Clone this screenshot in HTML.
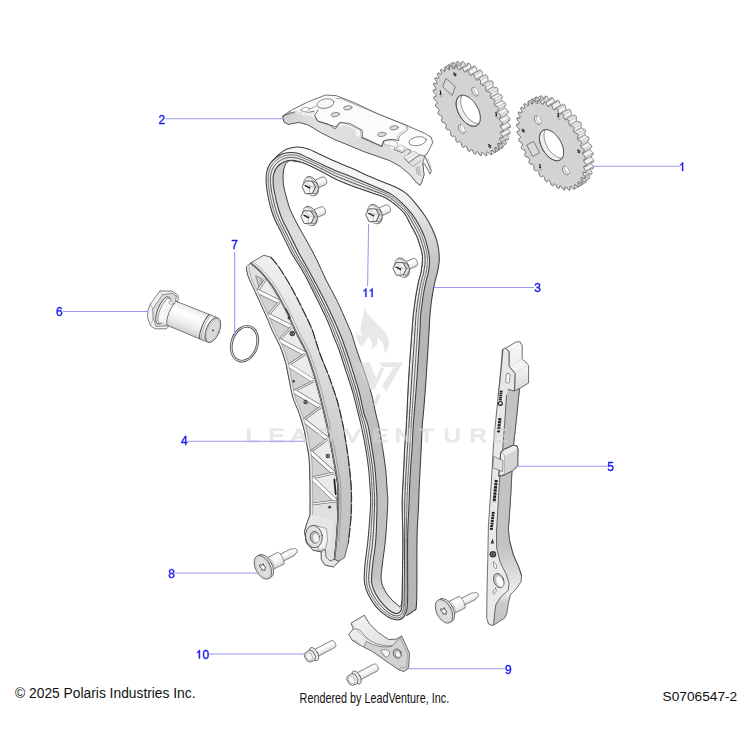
<!DOCTYPE html>
<html><head><meta charset="utf-8">
<style>
html,body{margin:0;padding:0;background:#fff;}
body{width:750px;height:750px;overflow:hidden;position:relative;font-family:"Liberation Sans",sans-serif;}
svg{position:absolute;left:0;top:0;}
text{font-family:"Liberation Sans",sans-serif;}
.lbl{fill:#1c1cf0;font-size:12px;stroke:#1c1cf0;stroke-width:0.4px;}
.ld{stroke:#9898f4;stroke-width:1.05;fill:none;}
.ft{fill:#111;font-size:13px;}
</style></head><body>
<svg width="750" height="750" viewBox="0 0 750 750">
<defs>
<linearGradient id="gSurf" gradientUnits="userSpaceOnUse" x1="0" y1="150" x2="0" y2="330"><stop offset="0" stop-color="#f8f8f8"/><stop offset="0.25" stop-color="#f2f2f2"/><stop offset="0.42" stop-color="#dcdcdc"/><stop offset="0.62" stop-color="#c6c6c6"/><stop offset="0.8" stop-color="#bababa"/><stop offset="1" stop-color="#b6b6b6"/></linearGradient>
<linearGradient id="gInner" gradientUnits="userSpaceOnUse" x1="0" y1="160" x2="0" y2="620"><stop offset="0" stop-color="#c8c8c8"/><stop offset="0.08" stop-color="#d2d2d2"/><stop offset="0.15" stop-color="#dedede"/><stop offset="0.28" stop-color="#dadada"/><stop offset="0.42" stop-color="#cccccc"/><stop offset="0.58" stop-color="#bfbfbf"/><stop offset="0.9" stop-color="#c2c2c2"/><stop offset="1" stop-color="#f0f0f0"/></linearGradient>
</defs>
<g id="chain" stroke-linejoin="round">
<path d="M274.0 159.5C274.9 158.6 277.3 155.6 279.5 153.9C281.7 152.2 284.0 150.3 287.0 149.1C290.0 147.9 294.1 146.9 297.7 146.9C301.2 146.9 304.8 147.9 308.3 149.1C311.9 150.3 314.6 151.9 319.0 153.9C323.4 155.9 329.6 158.9 335.0 161.3C340.4 163.7 345.0 165.4 351.3 168.1C357.6 170.8 365.4 174.6 372.7 177.7C380.0 180.8 389.3 184.1 395.0 186.8C400.7 189.5 403.0 190.8 406.7 193.9C410.4 197.0 414.1 201.7 417.3 205.6C420.5 209.5 423.4 213.4 425.9 217.3C428.4 221.2 430.5 225.4 432.3 229.1C434.1 232.8 435.4 236.2 436.5 239.7C437.6 243.2 438.2 246.5 438.7 250.0C439.1 253.5 439.4 257.1 439.2 260.7C439.0 264.2 438.3 267.8 437.6 271.3C436.9 274.9 435.7 278.4 434.9 282.0C434.1 285.6 433.4 289.1 432.8 292.7C432.2 296.2 431.7 299.4 431.2 303.3C430.7 307.2 430.2 311.7 429.9 316.1C429.5 320.6 429.8 319.4 429.1 330.0C428.5 340.6 426.9 366.7 426.0 380.0C425.1 393.3 424.3 402.5 423.7 410.0C423.1 417.5 422.7 418.9 422.3 425.0C421.9 431.1 421.7 439.2 421.3 446.3C420.9 453.4 420.6 460.6 420.2 467.7C419.8 474.8 419.4 482.8 419.1 489.0C418.8 495.2 419.0 496.5 418.6 505.0C418.2 513.5 417.3 523.8 417.0 540.0C416.7 556.2 417.2 590.6 416.6 602.4C416.0 614.2 415.3 608.6 413.6 610.8C411.9 613.0 407.6 614.8 406.4 615.6 L395 500 L300 170Z" fill="url(#gSurf)" stroke="none"/>
<path d="M274.0 159.5C274.9 158.6 277.3 155.6 279.5 153.9C281.7 152.2 284.0 150.3 287.0 149.1C290.0 147.9 294.1 146.9 297.7 146.9C301.2 146.9 304.8 147.9 308.3 149.1C311.9 150.3 314.6 151.9 319.0 153.9C323.4 155.9 329.6 158.9 335.0 161.3C340.4 163.7 345.0 165.4 351.3 168.1C357.6 170.8 365.4 174.6 372.7 177.7C380.0 180.8 389.3 184.1 395.0 186.8C400.7 189.5 403.0 190.8 406.7 193.9C410.4 197.0 414.1 201.7 417.3 205.6C420.5 209.5 423.4 213.4 425.9 217.3C428.4 221.2 430.5 225.4 432.3 229.1C434.1 232.8 435.4 236.2 436.5 239.7C437.6 243.2 438.2 246.5 438.7 250.0C439.1 253.5 439.4 257.1 439.2 260.7C439.0 264.2 438.3 267.8 437.6 271.3C436.9 274.9 435.7 278.4 434.9 282.0C434.1 285.6 433.4 289.1 432.8 292.7C432.2 296.2 431.7 299.4 431.2 303.3C430.7 307.2 430.2 311.7 429.9 316.1C429.5 320.6 429.8 319.4 429.1 330.0C428.5 340.6 426.9 366.7 426.0 380.0C425.1 393.3 424.3 402.5 423.7 410.0C423.1 417.5 422.7 418.9 422.3 425.0C421.9 431.1 421.7 439.2 421.3 446.3C420.9 453.4 420.6 460.6 420.2 467.7C419.8 474.8 419.4 482.8 419.1 489.0C418.8 495.2 419.0 496.5 418.6 505.0C418.2 513.5 417.3 523.8 417.0 540.0C416.7 556.2 417.2 590.6 416.6 602.4C416.0 614.2 415.3 608.6 413.6 610.8C411.9 613.0 407.6 614.8 406.4 615.6" fill="none" stroke="#3c3c3c" stroke-width="1.05"/>
<path d="M266.2 182.7C266.0 178.9 265.9 175.4 266.7 172.0C267.5 168.6 269.0 165.1 271.0 162.4C273.0 159.7 275.8 157.6 278.5 156.0C281.2 154.4 283.8 153.2 287.0 152.8C290.2 152.4 294.1 152.4 297.7 153.3C301.2 154.2 304.8 156.5 308.3 158.1C311.9 159.7 314.6 160.8 319.0 162.9C323.4 165.0 329.6 168.1 335.0 170.4C340.4 172.7 345.0 174.1 351.3 176.7C357.6 179.2 366.1 182.8 372.7 185.7C379.3 188.6 385.9 191.1 390.7 193.9C395.5 196.7 397.8 199.0 401.3 202.4C404.9 205.8 409.0 210.2 412.0 214.1C415.0 218.0 417.4 222.0 419.5 225.9C421.6 229.8 423.4 233.7 424.8 237.6C426.2 241.5 427.2 245.5 428.0 249.3C428.8 253.2 429.5 257.0 429.6 260.7C429.7 264.4 429.1 267.8 428.5 271.3C427.9 274.9 426.7 278.4 425.9 282.0C425.1 285.6 424.3 289.1 423.7 292.7C423.1 296.2 422.6 299.4 422.1 303.3C421.6 307.2 420.9 311.7 420.5 316.1C420.1 320.6 420.6 319.4 420.0 330.0C419.4 340.6 417.9 364.2 416.8 380.0C415.7 395.8 414.1 413.9 413.3 425.0C412.5 436.1 412.6 439.2 412.2 446.3C411.8 453.4 411.1 460.6 410.6 467.7C410.2 474.8 409.8 482.8 409.5 489.0C409.2 495.2 409.3 496.5 409.0 505.0C408.7 513.5 407.8 524.2 407.6 540.0C407.4 555.8 407.9 588.0 407.6 600.0C407.3 612.0 406.8 609.0 406.0 612.0C405.2 615.0 404.5 616.7 402.8 618.0C401.1 619.3 398.4 620.2 395.6 619.8C392.8 619.4 389.2 617.7 386.0 615.6C382.8 613.5 379.4 610.8 376.4 607.2C373.4 603.6 370.0 598.2 368.0 594.0C366.0 589.8 364.9 587.0 364.4 582.0C363.9 577.0 364.4 571.0 365.0 564.0C365.6 557.0 367.1 549.8 368.0 540.0C368.9 530.2 370.2 513.5 370.6 505.0C371.0 496.5 370.5 495.2 370.1 489.0C369.8 482.8 369.3 474.8 368.5 467.7C367.7 460.6 366.6 453.4 365.3 446.3C364.1 439.2 362.2 430.4 361.0 425.0C359.8 419.6 359.7 419.4 358.3 414.0C356.9 408.6 354.9 399.8 352.9 392.7C350.8 385.6 348.3 378.4 346.0 371.3C343.7 364.2 341.3 356.1 339.1 350.0C336.9 343.9 334.8 339.6 333.0 335.0C331.2 330.4 330.8 328.3 328.3 322.7C325.8 317.1 321.6 308.4 318.1 301.3C314.6 294.2 310.2 285.2 307.5 280.0C304.8 274.8 304.7 274.6 302.0 270.0C299.3 265.4 294.9 259.1 291.3 252.7C287.8 246.2 283.4 236.8 280.7 231.3C278.0 225.9 276.6 223.7 275.0 220.0C273.4 216.3 272.2 213.2 271.0 209.0C269.8 204.8 268.6 199.4 267.8 195.0C267.0 190.6 266.4 186.5 266.2 182.7Z" fill="#e9e9e9" stroke="#3c3c3c" stroke-width="1.05"/>
<path d="M273.1 182.7C272.9 179.2 273.0 176.8 273.7 174.1C274.4 171.4 275.7 168.7 277.4 166.7C279.1 164.7 281.3 163.0 283.8 161.9C286.3 160.8 289.1 160.1 292.3 160.3C295.5 160.5 299.4 161.7 303.0 162.9C306.6 164.1 310.1 166.0 313.7 167.7C317.2 169.4 320.8 171.2 324.3 173.1C327.9 175.0 330.5 176.8 335.0 178.9C339.5 181.0 345.0 183.3 351.3 185.7C357.6 188.1 367.0 191.1 372.7 193.2C378.4 195.2 381.6 195.9 385.5 198.0C389.4 200.1 392.9 202.8 396.1 205.5C399.3 208.2 402.4 211.0 404.7 214.0C407.0 217.0 408.0 220.1 409.9 223.7C411.8 227.3 414.6 231.8 416.3 235.5C418.0 239.2 419.0 242.5 420.0 246.1C421.0 249.7 422.2 252.8 422.4 257.0C422.6 261.2 421.8 267.1 421.1 271.3C420.4 275.5 419.2 278.4 418.4 282.0C417.6 285.6 416.9 289.1 416.3 292.7C415.7 296.2 415.2 299.4 414.7 303.3C414.2 307.2 413.6 311.7 413.1 316.1C412.7 320.6 412.8 319.4 412.0 330.0C411.2 340.6 409.4 364.2 408.5 380.0C407.6 395.8 406.9 413.9 406.3 425.0C405.7 436.1 405.1 439.2 404.7 446.3C404.3 453.4 404.0 460.6 403.7 467.7C403.4 474.8 402.9 482.8 402.6 489.0C402.3 495.2 402.1 496.5 402.1 505.0C402.1 513.5 402.8 526.2 402.8 540.0C402.8 553.8 402.4 576.6 402.2 588.0C402.0 599.4 402.3 604.2 401.6 608.4C400.9 612.6 399.6 612.6 398.0 613.2C396.4 613.8 394.4 613.4 392.0 612.0C389.6 610.6 386.3 607.8 383.6 604.8C380.9 601.8 377.8 597.8 375.8 594.0C373.8 590.2 372.1 587.0 371.6 582.0C371.1 577.0 372.1 571.0 372.8 564.0C373.5 557.0 375.1 549.8 375.8 540.0C376.5 530.2 376.9 513.5 377.0 505.0C377.1 496.5 376.9 495.2 376.5 489.0C376.1 482.8 375.7 474.8 374.9 467.7C374.1 460.6 372.9 453.4 371.7 446.3C370.5 439.2 369.2 430.4 367.9 425.0C366.6 419.6 365.5 419.4 364.1 414.0C362.7 408.6 361.2 399.8 359.3 392.7C357.4 385.6 355.1 378.4 352.9 371.3C350.7 364.2 348.1 356.1 346.0 350.0C343.9 343.9 342.3 339.6 340.5 335.0C338.7 330.4 337.8 328.3 335.2 322.7C332.6 317.1 328.7 308.4 325.1 301.3C321.6 294.2 316.7 285.2 313.9 280.0C311.1 274.8 311.0 274.6 308.5 270.0C306.0 265.4 302.2 259.1 298.8 252.7C295.4 246.2 290.9 236.8 288.2 231.3C285.5 225.9 284.1 223.7 282.5 220.0C280.9 216.3 279.8 213.2 278.5 209.0C277.2 204.8 275.9 199.4 275.0 195.0C274.1 190.6 273.3 186.2 273.1 182.7Z" fill="url(#gInner)" stroke="#3c3c3c" stroke-width="1.05"/>
<path d="M400.0 607.0C398.7 605.8 394.5 602.8 392.0 600.0C389.5 597.2 386.6 593.8 384.8 590.4C383.0 587.0 381.6 584.0 381.2 579.6C380.8 575.2 381.7 570.6 382.4 564.0C383.1 557.4 384.5 549.8 385.4 540.0C386.3 530.2 387.4 513.5 387.7 505.0C388.0 496.5 387.5 495.2 387.1 489.0C386.7 482.8 386.3 474.8 385.5 467.7C384.7 460.6 383.4 453.4 382.3 446.3C381.2 439.2 379.7 430.4 378.6 425.0C377.5 419.6 377.1 419.4 375.9 414.0C374.6 408.6 373.1 399.8 371.1 392.7C369.1 385.6 366.5 378.4 364.1 371.3C361.7 364.2 358.7 356.1 356.7 350.0C354.7 343.9 353.6 339.6 352.0 335.0C350.4 330.4 349.3 328.3 346.9 322.7C344.4 317.1 340.8 308.4 337.3 301.3C333.8 294.2 329.5 286.9 326.1 280.0C322.7 273.1 320.0 266.4 316.9 260.1C313.8 253.8 310.4 247.7 307.3 242.0C304.2 236.3 301.1 231.3 298.3 226.0C295.5 220.7 292.5 215.4 290.3 210.0C288.1 204.6 286.6 197.9 285.4 193.3C284.2 188.8 283.6 186.2 283.3 182.7C283.0 179.1 282.9 175.2 283.3 172.0C283.7 168.8 284.8 165.4 285.9 163.5C287.0 161.6 289.3 161.0 290.0 160.5C292.2 160.9 299.1 161.7 303.0 162.9C306.9 164.1 310.1 166.0 313.7 167.7C317.2 169.4 320.8 171.2 324.3 173.1C327.9 175.0 330.5 176.8 335.0 178.9C339.5 181.0 345.0 183.3 351.3 185.7C357.6 188.1 367.0 191.1 372.7 193.2C378.4 195.2 381.6 195.9 385.5 198.0C389.4 200.1 392.9 202.8 396.1 205.5C399.3 208.2 402.4 211.0 404.7 214.0C407.0 217.0 408.0 220.1 409.9 223.7C411.8 227.3 414.6 231.8 416.3 235.5C418.0 239.2 419.0 242.5 420.0 246.1C421.0 249.7 422.2 252.8 422.4 257.0C422.6 261.2 421.8 267.1 421.1 271.3C420.4 275.5 419.2 278.4 418.4 282.0C417.6 285.6 416.9 289.1 416.3 292.7C415.7 296.2 415.2 299.4 414.7 303.3C414.2 307.2 413.6 311.7 413.1 316.1C412.7 320.6 412.8 319.4 412.0 330.0C411.2 340.6 409.4 364.2 408.5 380.0C407.6 395.8 406.9 413.9 406.3 425.0C405.7 436.1 405.1 439.2 404.7 446.3C404.3 453.4 404.0 460.6 403.7 467.7C403.4 474.8 402.9 482.8 402.6 489.0C402.3 495.2 402.1 496.5 402.1 505.0C402.1 513.5 402.8 526.2 402.8 540.0C402.8 553.8 402.4 577.5 402.2 588.0C402.0 598.5 402.0 599.8 401.6 603.0C401.2 606.2 400.3 606.3 400.0 607.0Z" fill="#fff" stroke="#3c3c3c" stroke-width="1.0"/>
<path d="M268.3 182.7L268.2 181.8L268.2 180.9L268.2 179.8L268.2 178.9L268.2 178.1L268.2 177.3L268.2 176.6L268.3 175.8L268.4 175.0L268.5 174.2L268.6 173.4L268.8 172.6L269.0 171.8L269.2 171.0L269.5 170.2L269.8 169.5L270.1 168.7L270.4 167.9L270.8 167.1L271.2 166.4L271.6 165.7L272.0 165.0L272.3 164.5L272.8 163.8L273.3 163.2L273.8 162.6L274.3 162.1L274.9 161.5L275.5 161.0L275.9 160.6L276.5 160.1L277.2 159.6L277.8 159.2L278.4 158.7L279.1 158.3L279.5 158.0L280.2 157.7L280.8 157.3L281.5 157.0L282.2 156.7L282.6 156.5L283.3 156.2L284.0 155.9L284.7 155.7L285.2 155.6L285.9 155.4L286.7 155.2L287.4 155.1L288.2 155.0L288.8 155.0L289.7 154.9L290.5 154.9L291.4 154.9L292.2 154.9L292.9 154.9L293.8 155.0L294.7 155.1L295.6 155.2L296.5 155.4L297.1 155.5L298.0 155.8L298.9 156.1L299.8 156.4L300.7 156.7L301.6 157.1L302.5 157.5L303.3 157.9L304.2 158.3L304.9 158.6L305.7 159.0L306.6 159.5L307.5 159.8L308.4 160.2L309.3 160.6L310.1 161.0L310.9 161.4L311.8 161.8L312.4 162.0L313.2 162.4L314.1 162.8L315.0 163.2L315.9 163.7L316.9 164.1L318.2 164.7L319.3 165.2L320.4 165.8L321.8 166.5L323.0 167.0L324.5 167.8L325.7 168.4L327.2 169.1L328.4 169.7L329.9 170.5L331.1 171.1L332.6 171.8L333.8 172.3L335.3 173.0L336.5 173.6L338.1 174.2L339.4 174.7L340.6 175.2L341.9 175.7L343.2 176.2L344.6 176.8L346.0 177.3L347.4 177.9L348.9 178.4L350.4 179.0L352.0 179.7L353.6 180.3L355.3 181.0L357.1 181.8L359.0 182.5L360.8 183.2L362.7 184.0L364.6 184.7L366.5 185.5L368.3 186.2L370.1 186.9L371.8 187.6L373.8 188.4L375.4 189.1L376.9 189.7L378.8 190.4L380.2 191.0L381.9 191.7L383.2 192.2L384.6 192.8L386.1 193.5L387.4 194.2L388.6 194.8L389.7 195.5L390.8 196.1L391.8 196.8L392.8 197.4L393.7 198.1L394.5 198.7L395.4 199.4L396.2 200.1L397.0 200.8L397.8 201.5L398.6 202.2L399.4 203.0L400.2 203.7L401.1 204.5L402.0 205.4L402.8 206.2L403.9 207.3L404.8 208.2L405.6 209.2L406.5 210.1L407.3 211.0L408.3 212.2L409.0 213.1L409.7 214.1L410.4 215.0L411.0 215.9L411.7 216.8L412.4 218.0L413.0 219.0L413.5 219.9L414.2 221.1L414.8 222.1L415.4 223.0L415.9 224.0L416.5 225.0L417.1 226.0L417.6 227.0L418.1 228.0L418.7 229.0L419.2 230.0L419.7 230.9L420.0 231.6L420.5 232.6L420.9 233.6L421.3 234.5L421.7 235.5L422.1 236.4L422.4 237.4L422.8 238.3L423.1 239.3L423.4 240.2L423.7 241.1L424.0 242.1L424.3 243.0L424.6 244.0L424.8 244.9L425.1 246.2L425.4 247.1L425.6 248.0L425.8 249.0L426.1 249.9L426.3 250.8L426.4 251.5L426.6 252.5L426.8 253.4L426.9 254.4L427.0 255.3L427.1 256.0L427.2 257.0L427.3 258.0L427.4 259.0L427.4 259.6L427.4 260.6L427.4 261.6L427.4 262.3L427.3 263.3L427.3 264.3L427.2 264.9L427.1 265.9L427.0 266.5L426.9 267.5L426.7 268.4L426.6 269.4L426.5 270.0L426.3 271.0L426.2 271.9L426.0 272.8L425.8 273.5L425.6 274.4L425.4 275.3L425.2 276.2L424.9 277.1L424.7 278.0L424.5 278.8L424.2 279.7L424.0 280.6L423.8 281.5L423.6 282.4L423.4 283.2L423.2 284.1L423.0 285.0L422.8 285.9L422.6 286.8L422.4 287.7L422.2 288.6L422.1 289.5L421.9 290.7L421.7 291.5L421.5 292.4L421.4 293.3L421.2 294.2L421.1 295.0L420.9 295.9L420.8 296.8L420.7 297.6L420.6 298.5L420.4 299.3L420.3 300.2L420.2 301.1L420.1 302.1L419.9 303.0L419.8 304.0L419.6 305.0L419.5 306.0L419.4 307.0L419.2 308.1L419.1 309.2L418.9 310.3L418.8 311.3L418.7 312.4L418.5 313.5L418.4 314.7L418.3 315.8L418.2 316.8L418.2 317.7L418.1 318.4L418.1 319.1L418.1 319.8L418.1 320.5L418.0 321.3L418.0 322.3L417.9 324.0L417.9 325.6L417.7 327.6L417.6 330.0L417.4 332.9L417.2 336.3L417.0 340.1L416.7 344.2L416.4 348.5L416.1 353.1L415.8 357.7L415.5 362.4L415.2 367.0L414.9 371.5L414.6 375.9L414.3 380.0L414.0 384.0L413.8 388.1L413.5 392.2L413.2 396.2L412.9 400.3L412.6 404.3L412.4 408.2L412.1 411.9L411.8 415.5L411.6 418.9L411.4 422.1L411.2 425.0L411.0 427.6L410.9 429.9L410.8 432.0L410.7 433.9L410.6 435.6L410.5 437.1L410.4 438.6L410.3 440.1L410.2 441.5L410.1 443.0L410.1 444.6L409.9 446.3L409.8 448.1L409.7 449.9L409.6 451.6L409.5 453.4L409.4 455.2L409.2 457.0L409.1 458.8L409.0 460.6L408.9 462.4L408.8 464.1L408.6 465.9L408.5 467.7L408.4 469.5L408.3 471.3L408.2 473.2L408.1 475.0L408.0 476.9L407.9 478.7L407.8 480.5L407.7 482.3L407.7 484.0L407.6 485.8L407.5 487.4L407.4 489.0L407.4 490.5L407.3 491.8L407.3 492.9L407.2 494.0L407.2 495.1L407.2 496.1L407.1 497.3L407.1 498.5L407.1 499.8L407.0 501.3L407.0 503.0L406.9 505.0L406.9 507.2L406.8 509.5L406.7 511.9L406.7 514.5L406.6 517.2L406.5 520.0L406.5 522.9L406.4 526.0L406.3 529.3L406.3 532.7L406.2 536.3L406.2 540.0L406.1 544.1L406.1 548.6L406.1 554.9L406.1 560.1L406.1 565.4L406.1 570.8L406.1 577.3L406.1 582.3L406.0 587.9L406.0 592.7L406.0 596.8L406.0 599.8L405.9 602.6L405.8 604.9L405.7 606.4L405.6 607.6L405.5 608.6L405.4 609.1L405.3 609.4L405.1 610.0L405.0 610.2L404.9 610.4L404.7 611.0L404.6 611.5L404.4 612.2L404.1 612.8L404.0 613.2L403.8 613.8L403.6 614.1L403.5 614.5L403.2 614.9L403.0 615.2L402.8 615.5L402.5 615.8L402.2 616.1L401.8 616.4L401.5 616.6L401.0 616.9L400.7 617.1L400.2 617.3L399.5 617.5L399.0 617.7L398.6 617.8L398.0 617.9L397.5 617.9L396.9 618.0L396.3 618.0L395.8 617.9L395.2 617.8L394.5 617.7L393.8 617.5L393.1 617.2L392.4 616.9L391.6 616.6L390.9 616.3L390.1 615.9L389.3 615.4L388.8 615.1L388.0 614.6L387.2 614.1L386.4 613.6L385.7 613.0L384.9 612.4L384.1 611.8L383.3 611.2L382.5 610.5L381.7 609.8L380.9 609.0L380.2 608.3L379.4 607.5L378.7 606.6L377.9 605.8L377.2 604.8L376.5 603.9L375.7 602.9L375.0 601.8L374.2 600.7L373.5 599.6L372.8 598.5L372.2 597.4L371.6 596.3L371.0 595.2L370.4 594.2L369.9 593.2L369.4 592.2L369.0 591.2L368.6 590.3L368.2 589.3L368.0 588.7L367.7 587.8L367.4 586.8L367.2 585.8L367.0 585.1L366.8 584.0L366.7 582.8L366.6 582.0L366.5 580.7L366.4 579.4L366.4 578.1L366.4 576.7L366.4 575.2L366.5 573.8L366.6 572.2L366.7 571.1L366.8 569.5L367.0 567.9L367.1 566.2L367.3 564.0L367.5 562.2L367.7 561.0L367.9 559.2L368.1 557.4L368.4 555.5L368.7 553.6L368.9 551.7L369.2 549.7L369.6 546.9L369.9 544.7L370.1 542.4L370.3 540.0L370.6 537.4L370.8 534.6L371.0 531.6L371.2 528.4L371.4 525.2L371.6 522.0L371.8 518.8L372.0 515.7L372.2 512.7L372.3 509.9L372.4 507.3L372.5 505.0L372.6 503.0L372.6 501.3L372.6 499.8L372.6 498.5L372.6 497.3L372.5 496.1L372.4 495.1L372.4 494.0L372.3 492.9L372.2 491.8L372.1 490.5L372.0 489.0L371.9 487.4L371.8 485.8L371.7 484.0L371.6 482.3L371.5 480.5L371.4 478.7L371.3 476.9L371.1 475.0L371.0 473.2L370.8 471.3L370.6 469.5L370.4 467.7L370.2 465.9L370.0 464.1L369.8 462.4L369.4 460.0L369.2 458.2L368.9 456.5L368.6 454.7L368.3 452.9L368.0 451.1L367.7 449.3L367.4 447.5L367.1 445.8L366.8 443.9L366.5 442.1L366.1 440.2L365.8 438.2L365.4 436.3L365.0 434.4L364.7 432.6L364.3 430.8L364.0 429.1L363.6 427.5L363.3 426.0L362.9 424.3L362.6 423.2L362.3 421.9L362.0 421.1L361.8 420.3L361.6 419.6L361.3 418.8L361.2 418.3L361.0 417.5L360.7 416.6L360.6 416.0L360.3 414.9L359.9 413.6L359.6 412.1L359.2 410.6L358.8 408.9L358.4 407.1L358.0 405.3L357.5 403.4L357.1 401.5L356.6 399.6L356.2 397.7L355.7 395.8L355.2 394.0L354.7 392.2L354.2 390.4L353.6 388.6L353.1 386.8L352.5 385.0L352.0 383.2L351.4 381.5L350.8 379.7L350.2 377.9L349.6 376.1L349.1 374.3L348.5 372.5L347.9 370.8L347.3 369.0L346.7 367.1L346.2 365.3L345.6 363.4L345.0 361.5L344.4 359.7L343.8 357.9L343.2 356.1L342.7 354.4L342.1 352.7L341.6 351.1L341.0 349.6L340.3 347.7L339.8 346.3L339.3 345.0L338.8 343.7L338.3 342.4L337.8 341.2L337.3 340.0L336.8 338.9L336.4 337.7L335.9 336.6L335.4 335.5L334.9 334.1L334.5 333.0L334.1 332.1L333.7 331.1L333.4 330.2L333.0 329.3L332.7 328.4L332.3 327.4L332.1 326.7L331.6 325.7L331.1 324.5L330.6 323.2L330.0 321.8L329.3 320.3L328.5 318.6L328.0 317.5L327.1 315.7L326.3 313.9L325.4 312.0L324.5 310.1L323.6 308.2L322.6 306.3L321.5 303.9L320.5 302.0L319.6 300.2L318.7 298.4L318.1 297.0L317.1 295.1L316.2 293.2L315.2 291.3L313.9 288.8L313.0 287.0L312.1 285.2L311.3 283.6L310.5 282.0L309.7 280.6L309.1 279.3L308.4 278.0L307.9 277.1L307.4 276.0L307.0 275.3L306.6 274.6L306.2 273.9L305.8 273.2L305.5 272.7L305.1 271.9L304.6 271.0L304.2 270.4L303.5 269.3L302.8 268.1L302.0 266.8L301.2 265.5L300.4 264.1L299.5 262.6L298.6 261.2L297.6 259.6L296.7 258.1L295.8 256.5L294.8 254.9L293.9 253.3L293.0 251.7L292.1 249.9L291.2 248.1L290.2 246.2L289.3 244.3L288.3 242.4L287.4 240.5L286.5 238.6L285.6 236.8L284.8 235.0L284.0 233.4L283.3 231.9L282.4 230.2L281.8 229.0L281.2 227.9L280.7 226.9L280.1 225.8L279.6 224.9L279.2 224.0L278.9 223.4L278.5 222.6L278.1 221.8L277.7 220.9L277.3 220.1L276.9 219.2L276.5 218.3L276.2 217.4L275.8 216.5L275.5 215.6L275.1 214.7L274.9 214.1L274.6 213.2L274.3 212.3L274.0 211.4L273.7 210.4L273.4 209.4L273.1 208.3L272.8 207.3L272.5 206.1L272.2 205.0L271.9 204.1L271.7 202.9L271.4 201.7L271.1 200.5L270.8 199.3L270.6 198.1L270.3 196.9L270.1 195.8L269.9 194.7L269.7 193.6L269.5 192.5L269.3 191.4L269.1 190.4L269.0 189.3L268.8 188.3L268.7 187.3L268.6 186.3L268.5 185.3L268.4 184.3L268.3 183.6Z" fill="none" stroke="#5c5c5c" stroke-width="0.9"/>
<path d="M270.5 182.7L270.4 181.8L270.4 181.0L270.4 179.7L270.4 178.9L270.4 178.1L270.4 177.3L270.4 177.0L270.5 176.2L270.6 175.5L270.7 174.8L270.9 174.0L271.0 173.3L271.2 172.6L271.5 171.8L271.7 171.1L272.0 170.4L272.3 169.6L272.6 168.9L273.0 168.2L273.3 167.6L273.7 166.9L274.1 166.3L274.3 166.0L274.7 165.4L275.2 164.8L275.6 164.3L276.1 163.7L276.7 163.2L277.2 162.7L277.4 162.5L278.0 162.0L278.6 161.6L279.2 161.2L279.8 160.8L280.4 160.4L280.7 160.2L281.3 159.9L281.9 159.5L282.5 159.2L283.2 159.0L283.5 158.8L284.1 158.6L284.8 158.3L285.5 158.1L285.8 158.0L286.5 157.9L287.2 157.7L287.9 157.6L288.7 157.5L289.0 157.4L289.8 157.4L290.6 157.3L291.4 157.3L292.3 157.4L292.6 157.4L293.5 157.4L294.3 157.5L295.2 157.7L296.1 157.9L296.5 157.9L297.4 158.2L298.3 158.4L299.2 158.7L300.1 159.0L301.0 159.3L301.9 159.7L302.8 160.0L303.7 160.4L304.0 160.6L304.9 161.0L305.8 161.3L306.7 161.7L307.6 162.1L308.4 162.5L309.3 162.9L310.2 163.3L311.0 163.7L311.3 163.8L312.2 164.2L313.1 164.7L314.0 165.1L314.9 165.5L315.9 166.0L317.4 166.7L318.3 167.2L319.3 167.7L320.9 168.4L322.0 169.0L323.6 169.8L324.6 170.3L326.3 171.2L327.3 171.7L328.9 172.5L329.9 173.1L331.5 173.9L332.5 174.4L334.2 175.2L335.3 175.8L337.2 176.6L338.4 177.1L339.7 177.6L341.0 178.2L342.3 178.7L343.6 179.2L345.0 179.8L346.4 180.4L347.9 180.9L349.4 181.5L351.0 182.2L352.6 182.8L354.2 183.4L356.0 184.1L357.8 184.8L359.7 185.5L361.6 186.2L363.5 186.9L365.4 187.7L367.3 188.3L369.0 189.0L370.8 189.7L373.3 190.6L374.8 191.2L376.2 191.7L378.3 192.5L379.5 192.9L381.4 193.6L382.5 194.1L383.7 194.6L385.4 195.4L386.5 195.9L387.6 196.5L388.7 197.1L389.7 197.7L390.6 198.4L391.6 199.0L392.5 199.6L393.3 200.3L394.2 201.0L395.0 201.6L395.8 202.3L396.6 203.0L397.4 203.7L398.2 204.4L399.1 205.2L399.9 205.9L400.7 206.7L401.5 207.5L402.8 208.7L403.6 209.5L404.4 210.4L405.1 211.2L405.8 212.0L406.9 213.4L407.5 214.2L408.1 215.1L408.7 215.9L409.2 216.8L409.7 217.7L410.5 219.0L411.0 219.9L411.5 220.8L412.3 222.3L412.8 223.2L413.3 224.2L413.9 225.2L414.5 226.2L415.0 227.2L415.6 228.2L416.1 229.2L416.7 230.2L417.2 231.2L417.7 232.1L417.9 232.5L418.4 233.5L418.8 234.4L419.2 235.4L419.6 236.3L420.0 237.2L420.3 238.2L420.6 239.1L421.0 240.0L421.3 240.9L421.6 241.8L421.8 242.7L422.1 243.6L422.4 244.5L422.6 245.5L423.0 246.9L423.3 247.8L423.5 248.7L423.8 249.6L424.0 250.6L424.2 251.5L424.3 251.8L424.5 252.8L424.6 253.7L424.8 254.7L424.9 255.6L424.9 256.0L425.0 257.0L425.1 258.0L425.1 259.1L425.1 259.4L425.1 260.5L425.1 261.6L425.1 262.0L425.0 263.1L424.9 264.2L424.9 264.5L424.7 265.7L424.7 266.0L424.5 267.1L424.4 268.2L424.2 269.3L424.2 269.6L424.0 270.6L423.8 271.6L423.7 272.6L423.6 272.9L423.4 273.9L423.2 274.8L422.9 275.7L422.7 276.6L422.5 277.5L422.2 278.3L422.0 279.2L421.7 280.1L421.5 280.9L421.3 281.8L421.1 282.7L420.9 283.6L420.7 284.5L420.5 285.4L420.3 286.2L420.2 287.1L420.0 288.0L419.8 288.9L419.5 290.4L419.4 291.3L419.2 292.1L419.1 293.0L418.9 293.9L418.8 294.8L418.6 295.6L418.5 296.5L418.4 297.3L418.2 298.2L418.1 299.1L418.0 299.9L417.9 300.8L417.7 301.8L417.6 302.7L417.5 303.7L417.3 304.7L417.2 305.7L417.0 306.7L416.9 307.8L416.8 308.8L416.6 309.9L416.5 311.0L416.3 312.1L416.2 313.2L416.1 314.3L416.0 315.4L415.9 316.5L415.8 317.4L415.7 318.2L415.7 318.9L415.7 319.6L415.6 320.3L415.6 321.1L415.5 322.0L415.4 324.0L415.3 325.6L415.2 327.6L415.0 330.0L414.8 332.9L414.6 336.3L414.4 340.1L414.1 344.2L413.8 348.5L413.5 353.1L413.1 357.7L412.8 362.4L412.5 367.0L412.2 371.5L411.9 375.9L411.7 380.0L411.4 384.0L411.2 388.1L410.9 392.2L410.7 396.2L410.4 400.3L410.2 404.3L410.0 408.2L409.7 411.9L409.5 415.5L409.3 418.9L409.1 422.1L409.0 425.0L408.8 427.6L408.6 429.9L408.5 432.0L408.4 433.9L408.3 435.6L408.2 437.1L408.1 438.6L408.0 440.1L407.9 441.5L407.8 443.0L407.7 444.6L407.6 446.3L407.4 448.1L407.3 449.9L407.2 451.6L407.1 453.4L407.0 455.2L406.9 457.0L406.8 458.8L406.7 460.6L406.6 462.4L406.5 464.1L406.4 465.9L406.3 467.7L406.2 469.5L406.1 471.3L406.0 473.2L405.9 475.0L405.8 476.9L405.7 478.7L405.6 480.5L405.5 482.3L405.5 484.0L405.4 485.8L405.3 487.4L405.2 489.0L405.2 490.5L405.1 491.8L405.0 492.9L405.0 494.0L405.0 495.1L404.9 496.1L404.9 497.3L404.8 498.5L404.8 499.8L404.8 501.3L404.7 503.0L404.7 505.0L404.7 507.2L404.7 509.5L404.7 512.0L404.7 514.6L404.7 517.3L404.7 520.2L404.7 523.2L404.7 526.3L404.7 529.6L404.7 532.9L404.6 536.4L404.6 540.0L404.6 543.9L404.6 548.2L404.5 555.4L404.5 560.3L404.5 565.2L404.5 570.1L404.4 577.4L404.3 581.9L404.3 587.9L404.2 592.9L404.2 597.1L404.2 599.5L404.1 602.5L404.0 605.0L404.0 606.3L403.8 607.5L403.7 608.5L403.7 608.8L403.6 609.0L403.4 609.7L403.4 609.8L403.3 609.9L403.1 610.6L403.0 610.9L402.8 611.6L402.6 612.1L402.5 612.4L402.2 612.9L402.2 613.1L402.1 613.3L401.8 613.7L401.7 613.8L401.6 614.0L401.3 614.3L401.1 614.4L400.7 614.7L400.6 614.8L400.2 615.0L400.0 615.1L399.5 615.3L398.8 615.5L398.4 615.7L398.1 615.7L397.6 615.8L397.4 615.9L396.8 615.9L396.3 615.9L396.0 615.9L395.4 615.8L394.9 615.7L394.3 615.5L393.6 615.3L393.0 615.1L392.3 614.8L391.7 614.5L391.0 614.1L390.3 613.7L390.0 613.5L389.2 613.1L388.5 612.6L387.8 612.0L387.0 611.5L386.3 610.9L385.5 610.2L384.7 609.6L384.0 608.9L383.2 608.2L382.5 607.4L381.7 606.7L381.0 605.9L380.3 605.1L379.6 604.2L378.9 603.3L378.1 602.4L377.4 601.4L376.7 600.4L376.0 599.4L375.3 598.4L374.7 597.3L374.1 596.3L373.5 595.3L373.0 594.2L372.4 593.3L371.9 592.3L371.5 591.3L371.1 590.4L370.7 589.4L370.3 588.5L370.2 588.1L369.9 587.2L369.6 586.2L369.3 585.1L369.3 584.8L369.1 583.6L368.9 582.5L368.9 582.0L368.8 580.7L368.7 579.4L368.7 578.1L368.7 576.7L368.8 575.2L368.9 573.8L369.0 572.2L369.1 571.6L369.2 570.1L369.4 568.4L369.6 566.8L369.8 564.0L370.0 562.2L370.1 561.6L370.3 559.8L370.6 558.0L370.8 556.1L371.1 554.3L371.4 552.3L371.7 550.3L372.1 546.9L372.4 544.7L372.6 542.4L372.8 540.0L373.0 537.4L373.2 534.6L373.4 531.6L373.6 528.4L373.8 525.2L373.9 522.0L374.1 518.8L374.2 515.7L374.3 512.7L374.4 509.9L374.5 507.3L374.6 505.0L374.6 503.0L374.6 501.3L374.6 499.8L374.6 498.5L374.6 497.3L374.5 496.1L374.5 495.1L374.4 494.0L374.3 492.9L374.2 491.8L374.2 490.5L374.1 489.0L374.0 487.4L373.9 485.8L373.8 484.0L373.7 482.3L373.6 480.5L373.4 478.7L373.3 476.9L373.2 475.0L373.0 473.2L372.8 471.3L372.7 469.5L372.5 467.7L372.3 465.9L372.0 464.1L371.8 462.4L371.4 459.5L371.1 457.7L370.8 455.9L370.6 454.1L370.3 452.3L370.0 450.5L369.7 448.8L369.4 447.0L369.1 445.2L368.8 443.3L368.4 441.4L368.1 439.5L367.8 437.6L367.4 435.7L367.1 433.8L366.7 432.0L366.4 430.3L366.1 428.6L365.7 427.0L365.4 425.5L364.9 423.6L364.6 422.5L364.1 421.2L363.9 420.4L363.6 419.6L363.3 418.9L363.1 418.1L363.0 417.8L362.7 417.0L362.4 416.0L362.3 415.6L362.0 414.5L361.7 413.1L361.3 411.6L360.9 410.0L360.6 408.3L360.2 406.5L359.8 404.7L359.3 402.8L358.9 400.9L358.5 399.0L358.0 397.1L357.5 395.2L357.1 393.4L356.6 391.6L356.1 389.8L355.5 388.0L355.0 386.2L354.5 384.5L353.9 382.7L353.4 380.9L352.8 379.1L352.2 377.3L351.6 375.5L351.1 373.8L350.5 372.0L349.9 370.2L349.4 368.4L348.8 366.5L348.2 364.7L347.6 362.8L347.0 361.0L346.4 359.1L345.8 357.3L345.2 355.5L344.7 353.8L344.1 352.2L343.6 350.6L343.1 349.1L342.3 346.8L341.8 345.4L341.3 344.1L340.8 342.9L340.3 341.7L339.9 340.5L339.4 339.3L338.9 338.1L338.5 337.0L338.0 335.9L337.6 334.8L336.9 333.1L336.5 332.1L336.1 331.2L335.8 330.3L335.4 329.4L335.0 328.4L334.6 327.5L334.2 326.4L334.0 326.1L333.5 324.9L333.0 323.7L332.4 322.3L331.7 320.8L331.0 319.2L330.2 317.5L329.9 316.9L329.1 315.1L328.2 313.3L327.3 311.4L326.4 309.5L325.5 307.6L324.6 305.7L323.1 302.7L322.2 300.9L321.3 299.0L320.3 297.1L320.0 296.4L319.0 294.5L318.0 292.6L317.0 290.7L315.4 287.7L314.5 285.9L313.6 284.2L312.8 282.6L312.0 281.1L311.3 279.8L310.7 278.6L309.9 277.1L309.5 276.3L308.9 275.2L308.5 274.5L308.2 273.8L307.7 273.0L307.3 272.2L307.2 272.0L306.6 271.0L306.1 270.0L305.9 269.7L305.2 268.5L304.5 267.3L303.7 265.9L302.9 264.6L302.0 263.2L301.1 261.7L300.2 260.2L299.3 258.7L298.4 257.1L297.5 255.5L296.6 253.9L295.8 252.3L294.9 250.6L293.9 248.8L293.0 246.9L292.0 245.0L291.1 243.1L290.2 241.2L289.2 239.3L288.3 237.4L287.5 235.7L286.7 234.0L285.9 232.5L285.2 231.0L284.2 229.1L283.7 228.0L283.1 227.0L282.6 226.0L281.9 224.7L281.5 223.8L281.1 223.0L280.9 222.7L280.5 221.8L280.1 221.0L279.7 220.1L279.3 219.2L278.9 218.3L278.6 217.4L278.2 216.5L277.9 215.7L277.6 214.8L277.2 213.9L277.1 213.6L276.8 212.6L276.5 211.7L276.2 210.8L275.9 209.8L275.6 208.7L275.3 207.6L274.9 206.5L274.6 205.4L274.3 204.2L274.2 203.7L273.9 202.5L273.6 201.3L273.4 200.1L273.1 198.9L272.8 197.7L272.6 196.6L272.3 195.4L272.1 194.3L271.9 193.2L271.7 192.1L271.5 191.1L271.3 190.0L271.2 189.0L271.0 187.9L270.9 186.9L270.8 185.9L270.7 184.9L270.6 184.0L270.5 183.6Z" fill="none" stroke="#444444" stroke-width="1.0"/>
</g>
<g stroke-linejoin="round">
<path d="M452.2 66.9L452.7 66.6L452.5 65.4L452.0 63.5L452.1 62.9L453.0 62.5L453.6 62.8L455.0 64.5L455.9 65.3L456.4 65.1L457.0 65.0L457.0 64.0L456.8 62.1L457.0 61.6L458.0 61.5L458.6 61.9L459.8 63.7L460.7 64.7L461.3 64.7L461.9 64.7L462.1 63.8L462.1 62.1L462.4 61.6L463.5 61.8L464.1 62.4L465.1 64.3L465.9 65.4L466.6 65.5L467.2 65.7L467.6 64.9L467.8 63.4L468.2 63.1L469.4 63.5L470.0 64.2L470.8 66.1L471.4 67.3L472.1 67.6L472.8 67.9L473.3 67.3L473.8 66.0L474.3 65.8L475.5 66.5L476.0 67.2L476.6 69.2L477.1 70.4L477.8 70.8L478.5 71.3L479.1 70.9L479.9 69.8L480.4 69.8L481.6 70.7L482.0 71.5L482.3 73.4L482.7 74.6L483.4 75.2L484.0 75.8L484.8 75.5L485.7 74.8L486.3 74.9L487.5 76.0L487.8 76.8L487.8 78.6L488.1 79.8L488.7 80.5L489.3 81.1L490.2 81.2L491.3 80.7L491.9 80.9L493.0 82.3L493.2 83.1L493.0 84.6L493.1 85.8L493.7 86.5L494.2 87.3L495.1 87.5L496.4 87.4L497.1 87.8L498.0 89.2L498.1 90.0L497.7 91.4L497.6 92.4L498.1 93.2L498.5 94.0L499.5 94.5L500.9 94.7L501.5 95.2L502.3 96.7L502.3 97.4L501.6 98.5L501.4 99.4L501.8 100.3L502.2 101.2L503.1 101.8L504.6 102.4L505.2 102.9L505.8 104.5L505.7 105.2L504.8 106.0L504.4 106.7L504.7 107.6L505.0 108.4L505.9 109.2L507.4 110.1L508.0 110.8L508.4 112.4L508.2 112.9L507.1 113.4L506.5 113.9L506.7 114.8L506.9 115.7L507.8 116.6L509.3 117.8L509.7 118.5L510.0 120.0L509.7 120.5L508.4 120.6L507.7 121.0L507.8 121.8L507.9 122.6L508.7 123.7L510.1 125.1L510.5 125.9L510.5 127.3L510.1 127.6L508.7 127.4L507.9 127.6L507.9 128.3L507.8 129.1L508.5 130.2L509.9 131.9L510.2 132.6L510.0 133.9L509.5 134.1L508.0 133.6L507.2 133.5L507.0 134.2L506.8 134.8L507.4 136.0L508.6 137.8L508.8 138.6L508.4 139.7L507.9 139.8L506.4 138.9L505.4 138.6L505.2 139.2L504.9 139.7L505.3 141.0L506.3 142.9L506.4 143.6L505.8 144.5L505.3 144.4L503.8 143.3L502.8 142.8L502.4 143.2L502.0 143.6L502.3 144.8L503.1 146.8L503.1 147.5L502.3 148.1L501.7 147.9L500.3 146.5L499.3 145.8L498.9 146.1L498.4 146.4L498.5 147.5L499.0 149.5L498.9 150.1L498.0 150.5L497.4 150.1L496.1 148.5L495.1 147.7L494.6 147.8L494.0 147.9L494.0 149.0L494.3 150.9L494.1 151.4L493.0 151.5L492.4 151.0L491.2 149.3L490.4 148.3L489.8 148.3L489.1 148.2L488.9 149.2L488.9 150.9L488.6 151.3L487.5 151.2L486.9 150.6L485.9 148.7L485.1 147.6L484.5 147.4L483.8 147.3L483.5 148.1L483.2 149.6L482.8 149.9L481.6 149.5L481.1 148.8L480.3 146.9L479.6 145.7L478.9 145.4L478.2 145.1L477.7 145.7L477.2 147.0L476.8 147.2L475.5 146.5L475.0 145.7L474.5 143.8L473.9 142.6L473.3 142.1L472.6 141.7L471.9 142.1L471.2 143.1L470.7 143.2L469.5 142.2L469.0 141.5L468.7 139.6L468.3 138.4L467.7 137.8L467.0 137.2L466.3 137.4L465.3 138.2L464.7 138.1L463.6 136.9L463.2 136.2L463.2 134.4L463.0 133.2L462.3 132.5L461.7 131.8L460.9 131.8L459.7 132.3L459.1 132.0L458.0 130.7L457.8 129.9L458.0 128.3L458.0 127.2L457.4 126.4L456.8 125.7L455.9 125.5L454.6 125.5L454.0 125.2L453.0 123.7L452.9 123.0L453.4 121.6L453.5 120.6L453.0 119.8L452.5 118.9L451.6 118.5L450.1 118.3L449.5 117.8L448.7 116.3L448.7 115.5L449.4 114.4L449.7 113.5L449.3 112.7L448.9 111.8L447.9 111.2L446.4 110.6L445.9 110.0L445.2 108.5L445.3 107.8L446.3 107.0L446.7 106.3L446.4 105.4L446.1 104.5L445.1 103.7L443.6 102.8L443.1 102.2L442.6 100.6L442.8 100.1L444.0 99.6L444.5 99.0L444.3 98.2L444.2 97.3L443.3 96.4L441.8 95.2L441.3 94.5L441.1 92.9L441.4 92.5L442.7 92.4L443.3 92.0L443.3 91.2L443.2 90.4L442.4 89.3L441.0 87.9L440.6 87.1L440.5 85.7L440.9 85.4L442.3 85.6L443.1 85.4L443.2 84.7L443.2 83.9L442.5 82.8L441.2 81.1L440.9 80.3L441.1 79.1L441.5 78.9L443.0 79.4L443.9 79.5L444.0 78.8L444.2 78.1L443.6 76.9L442.5 75.1L442.2 74.3L442.6 73.3L443.2 73.2L444.7 74.1L445.6 74.3L445.9 73.8L446.2 73.2L445.7 72.0L444.7 70.1L444.6 69.3L445.2 68.5L445.8 68.6L447.3 69.7L448.2 70.2L448.6 69.8L449.0 69.3L448.7 68.1L448.0 66.2L447.9 65.5L448.7 64.9L449.3 65.1L450.8 66.5L451.7 67.1Z" fill="#f3f3f3" stroke="none"/>
<path d="M451.3 67.4L451.7 67.1L451.6 66.0L451.1 64.0L451.2 63.4L452.1 63.0L452.7 63.4L454.1 65.0L455.0 65.8L455.5 65.7L456.1 65.6L456.1 64.5L455.9 62.6L456.1 62.1L457.1 62.0L457.7 62.5L458.9 64.2L459.8 65.2L460.4 65.2L461.0 65.3L461.2 64.3L461.2 62.6L461.5 62.2L462.6 62.3L463.2 62.9L464.2 64.8L465.0 65.9L465.7 66.1L466.3 66.2L466.7 65.5L466.9 63.9L467.3 63.6L468.5 64.0L469.1 64.7L469.9 66.6L470.5 67.8L471.2 68.1L471.9 68.5L472.4 67.8L472.9 66.5L473.4 66.3L474.6 67.0L475.1 67.8L475.6 69.7L476.2 70.9L476.9 71.4L477.5 71.8L478.2 71.4L478.9 70.4L479.5 70.3L480.7 71.3L481.1 72.0L481.4 73.9L481.8 75.1L482.5 75.7L483.1 76.3L483.9 76.1L484.8 75.3L485.4 75.4L486.6 76.6L486.9 77.4L486.9 79.1L487.2 80.3L487.8 81.0L488.4 81.7L489.3 81.7L490.4 81.3L491.0 81.5L492.1 82.8L492.3 83.6L492.1 85.2L492.2 86.3L492.7 87.1L493.3 87.8L494.2 88.1L495.5 88.0L496.1 88.3L497.1 89.8L497.2 90.5L496.7 91.9L496.6 92.9L497.1 93.8L497.6 94.6L498.6 95.0L500.0 95.3L500.6 95.7L501.4 97.3L501.4 98.0L500.7 99.1L500.4 100.0L500.9 100.8L501.2 101.7L502.2 102.3L503.7 102.9L504.3 103.5L504.9 105.0L504.8 105.7L503.9 106.5L503.5 107.2L503.8 108.1L504.1 109.0L505.0 109.8L506.5 110.7L507.0 111.3L507.5 112.9L507.3 113.4L506.2 113.9L505.6 114.5L505.8 115.3L506.0 116.2L506.9 117.1L508.4 118.3L508.8 119.1L509.1 120.6L508.8 121.0L507.5 121.2L506.8 121.5L506.9 122.3L506.9 123.1L507.7 124.2L509.2 125.6L509.6 126.4L509.6 127.8L509.2 128.1L507.8 128.0L507.0 128.1L507.0 128.9L506.9 129.6L507.6 130.8L508.9 132.4L509.3 133.2L509.1 134.5L508.6 134.6L507.1 134.1L506.3 134.1L506.1 134.7L505.9 135.4L506.5 136.6L507.7 138.4L507.9 139.2L507.5 140.2L507.0 140.3L505.4 139.5L504.5 139.2L504.3 139.7L504.0 140.3L504.4 141.5L505.4 143.4L505.5 144.2L504.9 145.0L504.3 144.9L502.8 143.8L501.9 143.3L501.5 143.8L501.1 144.2L501.4 145.4L502.2 147.3L502.2 148.0L501.4 148.7L500.8 148.4L499.4 147.0L498.4 146.4L498.0 146.7L497.5 146.9L497.6 148.1L498.1 150.0L498.0 150.7L497.1 151.0L496.5 150.7L495.2 149.1L494.2 148.2L493.7 148.4L493.1 148.5L493.1 149.5L493.4 151.4L493.2 152.0L492.1 152.1L491.5 151.6L490.3 149.8L489.4 148.8L488.8 148.8L488.2 148.8L488.0 149.7L488.0 151.5L487.7 151.9L486.6 151.7L486.0 151.1L485.0 149.2L484.2 148.2L483.6 148.0L482.9 147.8L482.5 148.6L482.3 150.1L481.9 150.5L480.7 150.0L480.1 149.4L479.4 147.4L478.7 146.2L478.0 145.9L477.3 145.6L476.8 146.2L476.3 147.5L475.8 147.7L474.6 147.0L474.1 146.3L473.6 144.3L473.0 143.1L472.4 142.7L471.7 142.2L471.0 142.6L470.3 143.7L469.7 143.7L468.5 142.8L468.1 142.0L467.8 140.1L467.4 138.9L466.8 138.3L466.1 137.8L465.4 138.0L464.4 138.7L463.8 138.6L462.7 137.5L462.3 136.7L462.3 134.9L462.0 133.7L461.4 133.1L460.8 132.4L460.0 132.4L458.8 132.8L458.2 132.6L457.1 131.3L456.9 130.5L457.1 128.9L457.0 127.7L456.5 127.0L455.9 126.2L455.0 126.0L453.7 126.1L453.1 125.7L452.1 124.3L452.0 123.5L452.5 122.2L452.6 121.1L452.1 120.3L451.6 119.5L450.6 119.0L449.2 118.8L448.6 118.3L447.8 116.8L447.8 116.1L448.5 115.0L448.8 114.1L448.4 113.2L448.0 112.3L447.0 111.7L445.5 111.2L444.9 110.6L444.3 109.0L444.4 108.4L445.3 107.6L445.8 106.8L445.4 105.9L445.2 105.1L444.2 104.3L442.7 103.4L442.2 102.7L441.7 101.2L441.9 100.6L443.1 100.1L443.6 99.6L443.4 98.7L443.2 97.8L442.4 96.9L440.9 95.7L440.4 95.0L440.2 93.5L440.4 93.0L441.7 92.9L442.4 92.5L442.3 91.7L442.3 90.9L441.5 89.8L440.0 88.4L439.6 87.6L439.6 86.2L440.0 85.9L441.4 86.1L442.2 85.9L442.2 85.2L442.3 84.5L441.6 83.3L440.3 81.7L440.0 80.9L440.2 79.6L440.6 79.4L442.1 79.9L443.0 80.0L443.1 79.3L443.3 78.7L442.7 77.5L441.5 75.7L441.3 74.9L441.7 73.8L442.3 73.7L443.8 74.6L444.7 74.9L445.0 74.3L445.2 73.8L444.8 72.6L443.8 70.6L443.7 69.9L444.3 69.0L444.9 69.1L446.4 70.2L447.3 70.7L447.7 70.3L448.1 69.9L447.8 68.7L447.0 66.7L447.0 66.0L447.8 65.4L448.4 65.6L449.8 67.0L450.8 67.7Z" fill="#f3f3f3" stroke="none"/>
<path d="M450.3 67.9L450.8 67.7L450.7 66.5L450.2 64.6L450.3 63.9L451.2 63.6L451.8 63.9L453.1 65.5L454.1 66.4L454.6 66.2L455.2 66.1L455.2 65.0L454.9 63.2L455.1 62.6L456.2 62.5L456.8 63.0L458.0 64.8L458.9 65.8L459.5 65.8L460.1 65.8L460.3 64.9L460.3 63.1L460.6 62.7L461.7 62.9L462.3 63.5L463.3 65.3L464.1 66.4L464.7 66.6L465.4 66.8L465.8 66.0L466.0 64.4L466.4 64.1L467.6 64.6L468.2 65.2L468.9 67.2L469.6 68.4L470.3 68.7L471.0 69.0L471.5 68.4L472.0 67.1L472.5 66.9L473.7 67.6L474.2 68.3L474.7 70.3L475.3 71.5L475.9 71.9L476.6 72.4L477.3 72.0L478.0 70.9L478.6 70.9L479.8 71.8L480.2 72.6L480.5 74.5L480.9 75.7L481.5 76.3L482.2 76.8L483.0 76.6L483.9 75.9L484.5 76.0L485.7 77.1L486.0 77.9L486.0 79.7L486.3 80.9L486.9 81.5L487.5 82.2L488.3 82.2L489.5 81.8L490.1 82.0L491.2 83.3L491.4 84.1L491.2 85.7L491.3 86.8L491.8 87.6L492.4 88.4L493.3 88.6L494.6 88.5L495.2 88.9L496.2 90.3L496.3 91.1L495.8 92.4L495.7 93.5L496.2 94.3L496.7 95.1L497.7 95.5L499.1 95.8L499.7 96.3L500.5 97.8L500.5 98.5L499.8 99.6L499.5 100.5L499.9 101.4L500.3 102.2L501.3 102.9L502.8 103.4L503.4 104.0L504.0 105.6L503.9 106.2L503.0 107.0L502.5 107.8L502.9 108.6L503.1 109.5L504.1 110.3L505.6 111.2L506.1 111.9L506.6 113.4L506.4 114.0L505.2 114.5L504.7 115.0L504.9 115.9L505.1 116.7L505.9 117.7L507.4 118.9L507.9 119.6L508.1 121.1L507.9 121.6L506.6 121.7L505.9 122.1L506.0 122.9L506.0 123.7L506.8 124.7L508.3 126.2L508.7 127.0L508.7 128.4L508.3 128.7L506.9 128.5L506.1 128.6L506.1 129.4L506.0 130.1L506.7 131.3L508.0 132.9L508.3 133.7L508.2 135.0L507.7 135.2L506.2 134.7L505.3 134.6L505.2 135.3L505.0 135.9L505.6 137.1L506.8 138.9L507.0 139.7L506.6 140.8L506.0 140.8L504.5 140.0L503.6 139.7L503.3 140.3L503.1 140.8L503.5 142.0L504.5 143.9L504.6 144.7L504.0 145.6L503.4 145.5L501.9 144.3L501.0 143.9L500.6 144.3L500.2 144.7L500.5 145.9L501.3 147.9L501.3 148.6L500.5 149.2L499.9 149.0L498.5 147.6L497.5 146.9L497.0 147.2L496.6 147.5L496.7 148.6L497.2 150.6L497.1 151.2L496.2 151.6L495.6 151.2L494.2 149.6L493.3 148.8L492.8 148.9L492.2 149.0L492.2 150.1L492.4 152.0L492.2 152.5L491.2 152.6L490.6 152.1L489.4 150.3L488.5 149.4L487.9 149.3L487.3 149.3L487.1 150.3L487.1 152.0L486.8 152.4L485.7 152.3L485.1 151.7L484.1 149.8L483.3 148.7L482.6 148.5L482.0 148.3L481.6 149.1L481.4 150.7L481.0 151.0L479.8 150.6L479.2 149.9L478.4 147.9L477.8 146.8L477.1 146.5L476.4 146.1L475.9 146.7L475.4 148.1L474.9 148.2L473.7 147.5L473.2 146.8L472.7 144.9L472.1 143.7L471.4 143.2L470.8 142.7L470.1 143.2L469.4 144.2L468.8 144.3L467.6 143.3L467.2 142.6L466.9 140.7L466.5 139.5L465.9 138.9L465.2 138.3L464.4 138.5L463.5 139.3L462.9 139.2L461.7 138.0L461.4 137.2L461.4 135.5L461.1 134.3L460.5 133.6L459.9 132.9L459.0 132.9L457.9 133.3L457.3 133.1L456.2 131.8L456.0 131.0L456.2 129.4L456.1 128.3L455.6 127.5L455.0 126.7L454.1 126.5L452.8 126.6L452.2 126.3L451.2 124.8L451.1 124.1L451.6 122.7L451.7 121.7L451.2 120.8L450.7 120.0L449.7 119.6L448.3 119.3L447.7 118.9L446.9 117.3L446.9 116.6L447.6 115.5L447.9 114.6L447.4 113.8L447.1 112.9L446.1 112.3L444.6 111.7L444.0 111.1L443.4 109.5L443.5 108.9L444.4 108.1L444.8 107.4L444.5 106.5L444.2 105.6L443.3 104.8L441.8 103.9L441.3 103.3L440.8 101.7L441.0 101.1L442.1 100.7L442.7 100.1L442.5 99.2L442.3 98.4L441.4 97.4L439.9 96.3L439.5 95.5L439.2 94.0L439.5 93.6L440.8 93.4L441.5 93.1L441.4 92.3L441.4 91.4L440.6 90.4L439.1 88.9L438.7 88.2L438.7 86.8L439.1 86.4L440.5 86.6L441.3 86.5L441.3 85.7L441.4 85.0L440.7 83.8L439.4 82.2L439.0 81.4L439.2 80.1L439.7 79.9L441.2 80.5L442.0 80.5L442.2 79.9L442.4 79.2L441.8 78.0L440.6 76.2L440.4 75.4L440.8 74.3L441.3 74.3L442.9 75.1L443.8 75.4L444.0 74.9L444.3 74.3L443.9 73.1L442.9 71.2L442.8 70.4L443.4 69.6L444.0 69.6L445.5 70.8L446.4 71.3L446.8 70.8L447.2 70.4L446.9 69.2L446.1 67.3L446.1 66.6L446.9 65.9L447.5 66.1L448.9 67.6L449.9 68.2Z" fill="#f3f3f3" stroke="none"/>
<path d="M449.4 68.5L449.9 68.2L449.8 67.0L449.3 65.1L449.4 64.5L450.3 64.1L450.9 64.5L452.2 66.1L453.2 66.9L453.7 66.8L454.3 66.6L454.3 65.6L454.0 63.7L454.2 63.2L455.3 63.1L455.9 63.5L457.1 65.3L457.9 66.3L458.5 66.3L459.2 66.4L459.4 65.4L459.4 63.7L459.7 63.2L460.8 63.4L461.4 64.0L462.4 65.9L463.2 67.0L463.8 67.1L464.5 67.3L464.8 66.5L465.1 65.0L465.5 64.7L466.7 65.1L467.2 65.8L468.0 67.7L468.7 68.9L469.4 69.2L470.1 69.5L470.6 68.9L471.1 67.6L471.5 67.4L472.8 68.1L473.3 68.8L473.8 70.8L474.4 72.0L475.0 72.5L475.7 72.9L476.4 72.5L477.1 71.4L477.6 71.4L478.8 72.3L479.3 73.1L479.6 75.0L480.0 76.2L480.6 76.8L481.3 77.4L482.0 77.2L483.0 76.4L483.6 76.5L484.7 77.6L485.1 78.4L485.1 80.2L485.3 81.4L486.0 82.1L486.6 82.8L487.4 82.8L488.6 82.3L489.2 82.6L490.3 83.9L490.5 84.7L490.3 86.3L490.3 87.4L490.9 88.1L491.5 88.9L492.4 89.1L493.7 89.0L494.3 89.4L495.3 90.8L495.4 91.6L494.9 93.0L494.8 94.0L495.3 94.8L495.8 95.7L496.7 96.1L498.2 96.3L498.8 96.8L499.6 98.3L499.6 99.1L498.9 100.1L498.6 101.0L499.0 101.9L499.4 102.8L500.4 103.4L501.9 104.0L502.4 104.6L503.1 106.1L503.0 106.8L502.0 107.6L501.6 108.3L501.9 109.2L502.2 110.1L503.2 110.9L504.7 111.7L505.2 112.4L505.7 114.0L505.5 114.5L504.3 115.0L503.8 115.6L504.0 116.4L504.1 117.3L505.0 118.2L506.5 119.4L507.0 120.1L507.2 121.6L506.9 122.1L505.6 122.2L505.0 122.6L505.0 123.4L505.1 124.2L505.9 125.3L507.3 126.7L507.7 127.5L507.8 128.9L507.4 129.2L506.0 129.0L505.2 129.2L505.1 129.9L505.1 130.7L505.8 131.8L507.1 133.5L507.4 134.3L507.2 135.5L506.8 135.7L505.3 135.2L504.4 135.1L504.3 135.8L504.1 136.4L504.7 137.7L505.8 139.5L506.1 140.2L505.7 141.3L505.1 141.4L503.6 140.5L502.7 140.3L502.4 140.8L502.1 141.3L502.6 142.6L503.6 144.5L503.7 145.2L503.1 146.1L502.5 146.0L501.0 144.9L500.1 144.4L499.7 144.8L499.3 145.2L499.6 146.5L500.3 148.4L500.4 149.1L499.6 149.7L499.0 149.5L497.5 148.1L496.6 147.5L496.1 147.7L495.6 148.0L495.8 149.2L496.3 151.1L496.2 151.7L495.3 152.1L494.7 151.8L493.3 150.1L492.4 149.3L491.9 149.4L491.3 149.6L491.3 150.6L491.5 152.5L491.3 153.0L490.3 153.1L489.7 152.7L488.5 150.9L487.6 149.9L487.0 149.9L486.4 149.9L486.2 150.8L486.2 152.5L485.9 153.0L484.8 152.8L484.2 152.2L483.2 150.3L482.4 149.2L481.7 149.1L481.1 148.9L480.7 149.7L480.5 151.2L480.1 151.5L478.9 151.1L478.3 150.4L477.5 148.5L476.9 147.3L476.2 147.0L475.5 146.7L475.0 147.3L474.5 148.6L474.0 148.8L472.8 148.1L472.3 147.4L471.7 145.4L471.2 144.2L470.5 143.7L469.8 143.3L469.2 143.7L468.4 144.8L467.9 144.8L466.7 143.9L466.3 143.1L466.0 141.2L465.6 140.0L464.9 139.4L464.3 138.8L463.5 139.0L462.6 139.8L462.0 139.7L460.8 138.6L460.5 137.8L460.5 136.0L460.2 134.8L459.6 134.1L459.0 133.4L458.1 133.4L457.0 133.9L456.4 133.6L455.3 132.3L455.1 131.5L455.3 130.0L455.2 128.8L454.6 128.1L454.1 127.3L453.2 127.1L451.9 127.2L451.2 126.8L450.3 125.4L450.2 124.6L450.6 123.2L450.7 122.2L450.2 121.4L449.8 120.5L448.8 120.1L447.4 119.9L446.8 119.4L446.0 117.9L446.0 117.2L446.7 116.1L446.9 115.2L446.5 114.3L446.1 113.4L445.2 112.8L443.7 112.2L443.1 111.7L442.5 110.1L442.6 109.4L443.5 108.6L443.9 107.9L443.6 107.0L443.3 106.1L442.4 105.4L440.9 104.5L440.3 103.8L439.9 102.2L440.1 101.7L441.2 101.2L441.8 100.6L441.6 99.8L441.4 98.9L440.5 98.0L439.0 96.8L438.6 96.1L438.3 94.6L438.6 94.1L439.9 94.0L440.6 93.6L440.5 92.8L440.4 92.0L439.6 90.9L438.2 89.5L437.8 88.7L437.8 87.3L438.2 87.0L439.6 87.2L440.4 87.0L440.4 86.3L440.5 85.5L439.8 84.4L438.4 82.7L438.1 81.9L438.3 80.7L438.8 80.5L440.3 81.0L441.1 81.1L441.3 80.4L441.5 79.8L440.9 78.6L439.7 76.8L439.5 76.0L439.9 74.9L440.4 74.8L441.9 75.7L442.9 76.0L443.1 75.4L443.4 74.9L443.0 73.6L442.0 71.7L441.9 71.0L442.5 70.1L443.0 70.2L444.5 71.3L445.5 71.8L445.9 71.4L446.3 71.0L446.0 69.8L445.2 67.8L445.2 67.1L446.0 66.5L446.6 66.7L448.0 68.1L449.0 68.8Z" fill="#f3f3f3" stroke="none"/>
<path d="M448.5 69.0L449.0 68.7L448.9 67.6L448.3 65.6L448.4 65.0L449.4 64.6L450.0 65.0L451.3 66.6L452.2 67.4L452.8 67.3L453.3 67.2L453.4 66.1L453.1 64.3L453.3 63.7L454.4 63.6L455.0 64.1L456.2 65.9L457.0 66.8L457.6 66.9L458.2 66.9L458.5 66.0L458.4 64.2L458.7 63.8L459.9 64.0L460.5 64.5L461.5 66.4L462.3 67.5L462.9 67.7L463.6 67.9L463.9 67.1L464.2 65.5L464.6 65.2L465.8 65.7L466.3 66.3L467.1 68.3L467.8 69.4L468.5 69.7L469.1 70.1L469.7 69.5L470.2 68.1L470.6 68.0L471.9 68.7L472.3 69.4L472.9 71.3L473.4 72.5L474.1 73.0L474.8 73.5L475.4 73.0L476.2 72.0L476.7 71.9L477.9 72.9L478.3 73.7L478.6 75.5L479.0 76.8L479.7 77.3L480.4 77.9L481.1 77.7L482.1 76.9L482.7 77.0L483.8 78.2L484.1 79.0L484.2 80.7L484.4 81.9L485.1 82.6L485.7 83.3L486.5 83.3L487.7 82.9L488.3 83.1L489.3 84.4L489.6 85.2L489.4 86.8L489.4 87.9L490.0 88.7L490.6 89.5L491.5 89.7L492.8 89.6L493.4 89.9L494.3 91.4L494.5 92.1L494.0 93.5L493.9 94.5L494.4 95.4L494.9 96.2L495.8 96.6L497.2 96.9L497.9 97.3L498.7 98.9L498.7 99.6L498.0 100.7L497.7 101.6L498.1 102.5L498.5 103.3L499.5 103.9L500.9 104.5L501.5 105.1L502.2 106.7L502.1 107.3L501.1 108.1L500.7 108.9L501.0 109.7L501.3 110.6L502.2 111.4L503.8 112.3L504.3 113.0L504.7 114.5L504.5 115.1L503.4 115.5L502.9 116.1L503.1 117.0L503.2 117.8L504.1 118.8L505.6 119.9L506.1 120.7L506.3 122.2L506.0 122.6L504.7 122.8L504.1 123.1L504.1 124.0L504.2 124.8L505.0 125.8L506.4 127.3L506.8 128.0L506.8 129.4L506.5 129.8L505.1 129.6L504.3 129.7L504.2 130.5L504.2 131.2L504.9 132.4L506.2 134.0L506.5 134.8L506.3 136.1L505.9 136.3L504.4 135.7L503.5 135.7L503.3 136.3L503.2 137.0L503.8 138.2L504.9 140.0L505.1 140.8L504.7 141.9L504.2 141.9L502.7 141.1L501.8 140.8L501.5 141.3L501.2 141.9L501.7 143.1L502.6 145.0L502.8 145.8L502.2 146.6L501.6 146.6L500.1 145.4L499.1 144.9L498.8 145.4L498.4 145.8L498.7 147.0L499.4 148.9L499.4 149.6L498.7 150.3L498.1 150.1L496.6 148.7L495.7 148.0L495.2 148.3L494.7 148.5L494.9 149.7L495.4 151.6L495.3 152.3L494.4 152.6L493.7 152.3L492.4 150.7L491.5 149.8L490.9 150.0L490.4 150.1L490.3 151.2L490.6 153.0L490.4 153.6L489.4 153.7L488.8 153.2L487.6 151.4L486.7 150.4L486.1 150.4L485.5 150.4L485.3 151.3L485.3 153.1L485.0 153.5L483.8 153.3L483.3 152.8L482.2 150.9L481.5 149.8L480.8 149.6L480.2 149.4L479.8 150.2L479.5 151.8L479.1 152.1L477.9 151.6L477.4 151.0L476.6 149.0L475.9 147.8L475.3 147.5L474.6 147.2L474.1 147.8L473.6 149.1L473.1 149.3L471.9 148.6L471.4 147.9L470.8 146.0L470.3 144.7L469.6 144.3L468.9 143.8L468.3 144.2L467.5 145.3L467.0 145.3L465.8 144.4L465.4 143.6L465.1 141.8L464.7 140.5L464.0 140.0L463.4 139.4L462.6 139.6L461.6 140.3L461.1 140.2L459.9 139.1L459.6 138.3L459.5 136.5L459.3 135.4L458.7 134.7L458.1 134.0L457.2 134.0L456.1 134.4L455.4 134.2L454.4 132.9L454.1 132.1L454.4 130.5L454.3 129.4L453.7 128.6L453.2 127.8L452.3 127.6L450.9 127.7L450.3 127.3L449.4 125.9L449.3 125.1L449.7 123.8L449.8 122.7L449.3 121.9L448.8 121.1L447.9 120.7L446.5 120.4L445.9 119.9L445.1 118.4L445.0 117.7L445.8 116.6L446.0 115.7L445.6 114.8L445.2 114.0L444.3 113.3L442.8 112.8L442.2 112.2L441.6 110.6L441.7 110.0L442.6 109.2L443.0 108.4L442.7 107.6L442.4 106.7L441.5 105.9L440.0 105.0L439.4 104.3L439.0 102.8L439.2 102.2L440.3 101.7L440.9 101.2L440.7 100.3L440.5 99.5L439.6 98.5L438.1 97.3L437.6 96.6L437.4 95.1L437.7 94.7L439.0 94.5L439.7 94.2L439.6 93.3L439.5 92.5L438.7 91.5L437.3 90.0L436.9 89.3L436.9 87.8L437.3 87.5L438.7 87.7L439.5 87.6L439.5 86.8L439.5 86.1L438.8 84.9L437.5 83.3L437.2 82.5L437.4 81.2L437.9 81.0L439.4 81.6L440.2 81.6L440.4 81.0L440.5 80.3L440.0 79.1L438.8 77.3L438.6 76.5L439.0 75.4L439.5 75.4L441.0 76.2L441.9 76.5L442.2 75.9L442.5 75.4L442.1 74.2L441.1 72.3L441.0 71.5L441.6 70.6L442.1 70.7L443.6 71.9L444.6 72.3L445.0 71.9L445.3 71.5L445.1 70.3L444.3 68.3L444.3 67.6L445.1 67.0L445.7 67.2L447.1 68.6L448.0 69.3Z" fill="#f3f3f3" stroke="none"/>
<path d="M447.6 69.5L448.1 69.3L448.0 68.1L447.4 66.2L447.5 65.6L448.5 65.2L449.1 65.5L450.4 67.1L451.3 68.0L451.9 67.8L452.4 67.7L452.5 66.7L452.2 64.8L452.4 64.3L453.4 64.2L454.1 64.6L455.2 66.4L456.1 67.4L456.7 67.4L457.3 67.4L457.5 66.5L457.5 64.8L457.8 64.3L459.0 64.5L459.6 65.1L460.6 67.0L461.3 68.1L462.0 68.2L462.6 68.4L463.0 67.6L463.3 66.1L463.7 65.7L464.9 66.2L465.4 66.9L466.2 68.8L466.9 70.0L467.5 70.3L468.2 70.6L468.7 70.0L469.2 68.7L469.7 68.5L470.9 69.2L471.4 69.9L472.0 71.9L472.5 73.1L473.2 73.5L473.9 74.0L474.5 73.6L475.3 72.5L475.8 72.5L477.0 73.4L477.4 74.2L477.7 76.1L478.1 77.3L478.8 77.9L479.4 78.5L480.2 78.2L481.2 77.5L481.7 77.6L482.9 78.7L483.2 79.5L483.3 81.3L483.5 82.5L484.1 83.2L484.8 83.8L485.6 83.8L486.8 83.4L487.4 83.6L488.4 85.0L488.7 85.7L488.4 87.3L488.5 88.5L489.1 89.2L489.6 90.0L490.6 90.2L491.9 90.1L492.5 90.5L493.4 91.9L493.6 92.7L493.1 94.0L493.0 95.1L493.5 95.9L494.0 96.7L494.9 97.2L496.3 97.4L496.9 97.9L497.7 99.4L497.8 100.1L497.0 101.2L496.8 102.1L497.2 103.0L497.6 103.9L498.5 104.5L500.0 105.1L500.6 105.6L501.2 107.2L501.2 107.8L500.2 108.6L499.8 109.4L500.1 110.3L500.4 111.1L501.3 111.9L502.8 112.8L503.4 113.5L503.8 115.1L503.6 115.6L502.5 116.1L501.9 116.6L502.1 117.5L502.3 118.4L503.2 119.3L504.7 120.5L505.2 121.2L505.4 122.7L505.1 123.2L503.8 123.3L503.1 123.7L503.2 124.5L503.3 125.3L504.1 126.4L505.5 127.8L505.9 128.6L505.9 130.0L505.5 130.3L504.1 130.1L503.4 130.3L503.3 131.0L503.3 131.8L504.0 132.9L505.3 134.6L505.6 135.3L505.4 136.6L504.9 136.8L503.5 136.3L502.6 136.2L502.4 136.9L502.3 137.5L502.8 138.7L504.0 140.5L504.2 141.3L503.8 142.4L503.3 142.5L501.8 141.6L500.9 141.3L500.6 141.9L500.3 142.4L500.7 143.7L501.7 145.6L501.8 146.3L501.3 147.2L500.7 147.1L499.2 146.0L498.2 145.5L497.9 145.9L497.5 146.3L497.8 147.5L498.5 149.5L498.5 150.2L497.8 150.8L497.1 150.6L495.7 149.2L494.8 148.5L494.3 148.8L493.8 149.1L493.9 150.2L494.5 152.2L494.4 152.8L493.4 153.2L492.8 152.8L491.5 151.2L490.6 150.4L490.0 150.5L489.5 150.6L489.4 151.7L489.7 153.6L489.5 154.1L488.4 154.2L487.8 153.7L486.6 152.0L485.8 151.0L485.2 151.0L484.6 150.9L484.4 151.9L484.4 153.6L484.1 154.0L482.9 153.9L482.3 153.3L481.3 151.4L480.5 150.3L479.9 150.1L479.2 150.0L478.9 150.7L478.6 152.3L478.2 152.6L477.0 152.2L476.5 151.5L475.7 149.6L475.0 148.4L474.3 148.1L473.7 147.7L473.2 148.4L472.6 149.7L472.2 149.9L471.0 149.2L470.5 148.4L469.9 146.5L469.4 145.3L468.7 144.8L468.0 144.4L467.4 144.8L466.6 145.8L466.1 145.9L464.9 144.9L464.5 144.2L464.2 142.3L463.8 141.1L463.1 140.5L462.4 139.9L461.7 140.1L460.7 140.9L460.1 140.8L459.0 139.6L458.7 138.8L458.6 137.1L458.4 135.9L457.8 135.2L457.1 134.5L456.3 134.5L455.1 135.0L454.5 134.7L453.5 133.4L453.2 132.6L453.5 131.0L453.4 129.9L452.8 129.1L452.2 128.4L451.3 128.1L450.0 128.2L449.4 127.9L448.5 126.4L448.3 125.7L448.8 124.3L448.9 123.3L448.4 122.5L447.9 121.6L447.0 121.2L445.6 121.0L445.0 120.5L444.2 118.9L444.1 118.2L444.9 117.1L445.1 116.2L444.7 115.4L444.3 114.5L443.4 113.9L441.9 113.3L441.3 112.7L440.7 111.2L440.7 110.5L441.7 109.7L442.1 109.0L441.8 108.1L441.5 107.2L440.6 106.4L439.0 105.5L438.5 104.9L438.1 103.3L438.3 102.8L439.4 102.3L440.0 101.7L439.8 100.9L439.6 100.0L438.7 99.1L437.2 97.9L436.7 97.1L436.5 95.6L436.8 95.2L438.1 95.1L438.8 94.7L438.7 93.9L438.6 93.1L437.8 92.0L436.4 90.6L436.0 89.8L436.0 88.4L436.3 88.1L437.8 88.3L438.5 88.1L438.6 87.4L438.6 86.6L437.9 85.5L436.6 83.8L436.3 83.0L436.5 81.8L437.0 81.6L438.4 82.1L439.3 82.2L439.5 81.5L439.6 80.8L439.1 79.6L437.9 77.8L437.7 77.0L438.1 76.0L438.6 75.9L440.1 76.8L441.0 77.0L441.3 76.5L441.6 75.9L441.1 74.7L440.2 72.8L440.1 72.0L440.6 71.2L441.2 71.3L442.7 72.4L443.7 72.9L444.0 72.5L444.4 72.0L444.1 70.8L443.4 68.9L443.4 68.2L444.1 67.5L444.7 67.8L446.2 69.2L447.1 69.8Z" fill="#f3f3f3" stroke="none"/>
<path d="M446.7 70.1L447.2 69.8L447.0 68.7L446.5 66.7L446.6 66.1L447.5 65.7L448.2 66.1L449.5 67.7L450.4 68.5L451.0 68.4L451.5 68.3L451.5 67.2L451.3 65.3L451.5 64.8L452.5 64.7L453.1 65.2L454.3 66.9L455.2 67.9L455.8 67.9L456.4 68.0L456.6 67.0L456.6 65.3L456.9 64.9L458.1 65.0L458.6 65.6L459.7 67.5L460.4 68.6L461.1 68.8L461.7 68.9L462.1 68.2L462.4 66.6L462.7 66.3L463.9 66.7L464.5 67.4L465.3 69.3L466.0 70.5L466.6 70.8L467.3 71.2L467.8 70.5L468.3 69.2L468.8 69.0L470.0 69.7L470.5 70.5L471.1 72.4L471.6 73.6L472.3 74.1L473.0 74.5L473.6 74.1L474.4 73.1L474.9 73.0L476.1 74.0L476.5 74.7L476.8 76.6L477.2 77.8L477.9 78.4L478.5 79.0L479.3 78.8L480.3 78.0L480.8 78.1L482.0 79.3L482.3 80.1L482.4 81.8L482.6 83.0L483.2 83.7L483.8 84.4L484.7 84.4L485.8 84.0L486.4 84.2L487.5 85.5L487.7 86.3L487.5 87.9L487.6 89.0L488.2 89.8L488.7 90.5L489.6 90.8L490.9 90.7L491.6 91.0L492.5 92.5L492.6 93.2L492.2 94.6L492.1 95.6L492.6 96.4L493.0 97.3L494.0 97.7L495.4 97.9L496.0 98.4L496.8 100.0L496.8 100.7L496.1 101.8L495.9 102.7L496.3 103.5L496.7 104.4L497.6 105.0L499.1 105.6L499.7 106.2L500.3 107.7L500.2 108.4L499.3 109.2L498.9 109.9L499.2 110.8L499.5 111.7L500.4 112.5L501.9 113.4L502.5 114.0L502.9 115.6L502.7 116.1L501.6 116.6L501.0 117.2L501.2 118.0L501.4 118.9L502.3 119.8L503.8 121.0L504.3 121.8L504.5 123.3L504.2 123.7L502.9 123.8L502.2 124.2L502.3 125.0L502.4 125.8L503.2 126.9L504.6 128.3L505.0 129.1L505.0 130.5L504.6 130.8L503.2 130.6L502.4 130.8L502.4 131.6L502.3 132.3L503.0 133.4L504.4 135.1L504.7 135.9L504.5 137.1L504.0 137.3L502.5 136.8L501.7 136.7L501.5 137.4L501.3 138.1L501.9 139.3L503.1 141.1L503.3 141.9L502.9 142.9L502.4 143.0L500.9 142.1L499.9 141.9L499.7 142.4L499.4 143.0L499.8 144.2L500.8 146.1L500.9 146.9L500.3 147.7L499.8 147.6L498.3 146.5L497.3 146.0L496.9 146.4L496.6 146.9L496.8 148.1L497.6 150.0L497.6 150.7L496.8 151.4L496.2 151.1L494.8 149.7L493.8 149.1L493.4 149.4L492.9 149.6L493.0 150.8L493.6 152.7L493.4 153.4L492.5 153.7L491.9 153.4L490.6 151.8L489.7 150.9L489.1 151.1L488.6 151.2L488.5 152.2L488.8 154.1L488.6 154.7L487.5 154.7L486.9 154.3L485.7 152.5L484.9 151.5L484.3 151.5L483.6 151.5L483.4 152.4L483.4 154.2L483.1 154.6L482.0 154.4L481.4 153.8L480.4 151.9L479.6 150.8L479.0 150.7L478.3 150.5L478.0 151.3L477.7 152.8L477.3 153.2L476.1 152.7L475.6 152.0L474.8 150.1L474.1 148.9L473.4 148.6L472.8 148.3L472.2 148.9L471.7 150.2L471.3 150.4L470.0 149.7L469.6 149.0L469.0 147.0L468.5 145.8L467.8 145.4L467.1 144.9L466.5 145.3L465.7 146.4L465.2 146.4L464.0 145.5L463.6 144.7L463.2 142.8L462.9 141.6L462.2 141.0L461.5 140.4L460.8 140.7L459.8 141.4L459.2 141.3L458.1 140.2L457.8 139.4L457.7 137.6L457.5 136.4L456.8 135.8L456.2 135.1L455.4 135.1L454.2 135.5L453.6 135.3L452.5 133.9L452.3 133.2L452.5 131.6L452.5 130.4L451.9 129.7L451.3 128.9L450.4 128.7L449.1 128.8L448.5 128.4L447.5 127.0L447.4 126.2L447.9 124.9L448.0 123.8L447.5 123.0L447.0 122.2L446.1 121.7L444.6 121.5L444.0 121.0L443.2 119.5L443.2 118.8L443.9 117.7L444.2 116.8L443.8 115.9L443.4 115.0L442.4 114.4L440.9 113.9L440.4 113.3L439.7 111.7L439.8 111.1L440.8 110.3L441.2 109.5L440.9 108.6L440.6 107.8L439.6 107.0L438.1 106.1L437.6 105.4L437.2 103.9L437.4 103.3L438.5 102.8L439.0 102.3L438.8 101.4L438.7 100.5L437.8 99.6L436.3 98.4L435.8 97.7L435.6 96.2L435.9 95.7L437.2 95.6L437.8 95.2L437.8 94.4L437.7 93.6L436.9 92.5L435.5 91.1L435.1 90.3L435.0 88.9L435.4 88.6L436.8 88.8L437.6 88.6L437.7 87.9L437.7 87.1L437.0 86.0L435.7 84.4L435.4 83.6L435.6 82.3L436.0 82.1L437.5 82.6L438.4 82.7L438.5 82.0L438.7 81.4L438.1 80.2L437.0 78.4L436.8 77.6L437.2 76.5L437.7 76.4L439.2 77.3L440.1 77.6L440.4 77.0L440.7 76.5L440.2 75.3L439.2 73.3L439.1 72.6L439.7 71.7L440.3 71.8L441.8 72.9L442.8 73.4L443.1 73.0L443.5 72.6L443.2 71.4L442.5 69.4L442.5 68.7L443.2 68.1L443.8 68.3L445.3 69.7L446.2 70.4Z" fill="#f3f3f3" stroke="none"/>
<path d="M445.8 70.6L446.2 70.4L446.1 69.2L445.6 67.3L445.7 66.6L446.6 66.3L447.2 66.6L448.6 68.2L449.5 69.1L450.0 68.9L450.6 68.8L450.6 67.7L450.4 65.9L450.6 65.3L451.6 65.2L452.2 65.7L453.4 67.5L454.3 68.5L454.9 68.5L455.5 68.5L455.7 67.6L455.7 65.8L456.0 65.4L457.1 65.6L457.7 66.1L458.7 68.0L459.5 69.1L460.2 69.3L460.8 69.5L461.2 68.7L461.4 67.1L461.8 66.8L463.0 67.3L463.6 67.9L464.4 69.9L465.0 71.1L465.7 71.4L466.4 71.7L466.9 71.1L467.4 69.8L467.9 69.6L469.1 70.3L469.6 71.0L470.2 72.9L470.7 74.2L471.4 74.6L472.0 75.1L472.7 74.7L473.4 73.6L474.0 73.6L475.2 74.5L475.6 75.3L475.9 77.1L476.3 78.4L477.0 78.9L477.6 79.5L478.4 79.3L479.3 78.6L479.9 78.7L481.1 79.8L481.4 80.6L481.4 82.4L481.7 83.6L482.3 84.2L482.9 84.9L483.8 84.9L484.9 84.5L485.5 84.7L486.6 86.0L486.8 86.8L486.6 88.4L486.7 89.5L487.3 90.3L487.8 91.1L488.7 91.3L490.0 91.2L490.6 91.6L491.6 93.0L491.7 93.8L491.2 95.1L491.2 96.2L491.6 97.0L492.1 97.8L493.1 98.2L494.5 98.5L495.1 99.0L495.9 100.5L495.9 101.2L495.2 102.3L495.0 103.2L495.4 104.1L495.8 104.9L496.7 105.6L498.2 106.1L498.8 106.7L499.4 108.3L499.3 108.9L498.4 109.7L498.0 110.5L498.3 111.3L498.6 112.2L499.5 113.0L501.0 113.9L501.6 114.6L502.0 116.1L501.8 116.7L500.7 117.2L500.1 117.7L500.3 118.6L500.5 119.4L501.4 120.4L502.9 121.6L503.3 122.3L503.6 123.8L503.3 124.2L502.0 124.4L501.3 124.8L501.4 125.6L501.4 126.4L502.3 127.4L503.7 128.9L504.1 129.7L504.1 131.1L503.7 131.4L502.3 131.2L501.5 131.3L501.5 132.1L501.4 132.8L502.1 134.0L503.5 135.6L503.8 136.4L503.6 137.7L503.1 137.9L501.6 137.3L500.8 137.3L500.6 137.9L500.4 138.6L501.0 139.8L502.2 141.6L502.4 142.4L502.0 143.5L501.5 143.5L500.0 142.7L499.0 142.4L498.8 143.0L498.5 143.5L498.9 144.7L499.9 146.6L500.0 147.4L499.4 148.3L498.8 148.2L497.3 147.0L496.4 146.6L496.0 147.0L495.6 147.4L495.9 148.6L496.7 150.6L496.7 151.3L495.9 151.9L495.3 151.7L493.9 150.3L492.9 149.6L492.5 149.9L492.0 150.2L492.1 151.3L492.6 153.3L492.5 153.9L491.6 154.3L491.0 153.9L489.7 152.3L488.7 151.5L488.2 151.6L487.6 151.7L487.6 152.8L487.9 154.6L487.7 155.2L486.6 155.3L486.0 154.8L484.8 153.0L484.0 152.1L483.3 152.0L482.7 152.0L482.5 153.0L482.5 154.7L482.2 155.1L481.1 154.9L480.5 154.4L479.5 152.5L478.7 151.4L478.1 151.2L477.4 151.0L477.0 151.8L476.8 153.4L476.4 153.7L475.2 153.2L474.7 152.6L473.9 150.6L473.2 149.5L472.5 149.2L471.8 148.8L471.3 149.4L470.8 150.8L470.3 150.9L469.1 150.2L468.6 149.5L468.1 147.6L467.5 146.4L466.9 145.9L466.2 145.4L465.5 145.9L464.8 146.9L464.3 147.0L463.0 146.0L462.6 145.3L462.3 143.4L461.9 142.1L461.3 141.6L460.6 141.0L459.9 141.2L458.9 142.0L458.3 141.9L457.2 140.7L456.8 139.9L456.8 138.2L456.5 137.0L455.9 136.3L455.3 135.6L454.5 135.6L453.3 136.0L452.7 135.8L451.6 134.5L451.4 133.7L451.6 132.1L451.5 131.0L451.0 130.2L450.4 129.4L449.5 129.2L448.2 129.3L447.6 129.0L446.6 127.5L446.5 126.8L447.0 125.4L447.1 124.4L446.6 123.5L446.1 122.7L445.2 122.3L443.7 122.0L443.1 121.6L442.3 120.0L442.3 119.3L443.0 118.2L443.3 117.3L442.9 116.5L442.5 115.6L441.5 115.0L440.0 114.4L439.4 113.8L438.8 112.2L438.9 111.6L439.9 110.8L440.3 110.1L440.0 109.2L439.7 108.3L438.7 107.5L437.2 106.6L436.7 106.0L436.2 104.4L436.4 103.8L437.6 103.4L438.1 102.8L437.9 101.9L437.7 101.1L436.9 100.1L435.4 99.0L434.9 98.2L434.7 96.7L435.0 96.3L436.2 96.1L436.9 95.8L436.8 95.0L436.8 94.1L436.0 93.1L434.6 91.6L434.1 90.9L434.1 89.5L434.5 89.1L435.9 89.3L436.7 89.2L436.7 88.4L436.8 87.7L436.1 86.5L434.8 84.9L434.5 84.1L434.7 82.8L435.1 82.6L436.6 83.2L437.5 83.2L437.6 82.6L437.8 81.9L437.2 80.7L436.1 78.9L435.8 78.1L436.2 77.0L436.8 77.0L438.3 77.8L439.2 78.1L439.5 77.6L439.8 77.0L439.3 75.8L438.3 73.9L438.2 73.1L438.8 72.3L439.4 72.3L440.9 73.5L441.8 74.0L442.2 73.5L442.6 73.1L442.3 71.9L441.5 70.0L441.5 69.3L442.3 68.6L442.9 68.8L444.4 70.2L445.3 70.9Z" fill="#f3f3f3" stroke="none"/>
<path d="M444.9 71.2L445.3 70.9L445.2 69.7L444.7 67.8L444.8 67.2L445.7 66.8L446.3 67.1L447.7 68.8L448.6 69.6L449.1 69.5L449.7 69.3L449.7 68.3L449.4 66.4L449.7 65.9L450.7 65.8L451.3 66.2L452.5 68.0L453.4 69.0L454.0 69.0L454.6 69.0L454.8 68.1L454.8 66.4L455.1 65.9L456.2 66.1L456.8 66.7L457.8 68.6L458.6 69.7L459.2 69.8L459.9 70.0L460.3 69.2L460.5 67.7L460.9 67.4L462.1 67.8L462.7 68.5L463.5 70.4L464.1 71.6L464.8 71.9L465.5 72.2L466.0 71.6L466.5 70.3L467.0 70.1L468.2 70.8L468.7 71.5L469.2 73.5L469.8 74.7L470.5 75.2L471.1 75.6L471.8 75.2L472.5 74.1L473.1 74.1L474.3 75.0L474.7 75.8L475.0 77.7L475.4 78.9L476.0 79.5L476.7 80.1L477.5 79.9L478.4 79.1L479.0 79.2L480.2 80.3L480.5 81.1L480.5 82.9L480.8 84.1L481.4 84.8L482.0 85.5L482.9 85.5L484.0 85.0L484.6 85.3L485.7 86.6L485.9 87.4L485.7 88.9L485.8 90.1L486.3 90.8L486.9 91.6L487.8 91.8L489.1 91.7L489.7 92.1L490.7 93.5L490.8 94.3L490.3 95.7L490.2 96.7L490.7 97.5L491.2 98.4L492.2 98.8L493.6 99.0L494.2 99.5L495.0 101.0L495.0 101.7L494.3 102.8L494.0 103.7L494.4 104.6L494.8 105.5L495.8 106.1L497.3 106.7L497.9 107.3L498.5 108.8L498.4 109.5L497.5 110.3L497.1 111.0L497.4 111.9L497.7 112.8L498.6 113.5L500.1 114.4L500.6 115.1L501.1 116.7L500.9 117.2L499.7 117.7L499.2 118.3L499.4 119.1L499.6 120.0L500.4 120.9L501.9 122.1L502.4 122.8L502.7 124.3L502.4 124.8L501.1 124.9L500.4 125.3L500.5 126.1L500.5 126.9L501.3 128.0L502.8 129.4L503.2 130.2L503.2 131.6L502.8 131.9L501.4 131.7L500.6 131.9L500.6 132.6L500.5 133.4L501.2 134.5L502.5 136.2L502.8 137.0L502.7 138.2L502.2 138.4L500.7 137.9L499.8 137.8L499.7 138.5L499.5 139.1L500.1 140.3L501.3 142.1L501.5 142.9L501.1 144.0L500.6 144.1L499.0 143.2L498.1 143.0L497.8 143.5L497.6 144.0L498.0 145.3L499.0 147.2L499.1 147.9L498.5 148.8L497.9 148.7L496.4 147.6L495.5 147.1L495.1 147.5L494.7 147.9L495.0 149.1L495.8 151.1L495.8 151.8L495.0 152.4L494.4 152.2L493.0 150.8L492.0 150.1L491.5 150.4L491.1 150.7L491.2 151.9L491.7 153.8L491.6 154.4L490.7 154.8L490.1 154.5L488.7 152.8L487.8 152.0L487.3 152.1L486.7 152.3L486.7 153.3L487.0 155.2L486.7 155.7L485.7 155.8L485.1 155.4L483.9 153.6L483.0 152.6L482.4 152.6L481.8 152.6L481.6 153.5L481.6 155.2L481.3 155.7L480.2 155.5L479.6 154.9L478.6 153.0L477.8 151.9L477.2 151.8L476.5 151.6L476.1 152.4L475.9 153.9L475.5 154.2L474.3 153.8L473.7 153.1L472.9 151.2L472.3 150.0L471.6 149.7L470.9 149.4L470.4 150.0L469.9 151.3L469.4 151.5L468.2 150.8L467.7 150.1L467.2 148.1L466.6 146.9L465.9 146.4L465.3 146.0L464.6 146.4L463.9 147.5L463.3 147.5L462.1 146.6L461.7 145.8L461.4 143.9L461.0 142.7L460.4 142.1L459.7 141.5L458.9 141.7L458.0 142.5L457.4 142.4L456.2 141.3L455.9 140.5L455.9 138.7L455.6 137.5L455.0 136.8L454.4 136.1L453.5 136.1L452.4 136.6L451.8 136.3L450.7 135.0L450.5 134.2L450.7 132.7L450.6 131.5L450.1 130.8L449.5 130.0L448.6 129.8L447.3 129.9L446.7 129.5L445.7 128.1L445.6 127.3L446.1 125.9L446.2 124.9L445.7 124.1L445.2 123.2L444.2 122.8L442.8 122.6L442.2 122.1L441.4 120.6L441.4 119.9L442.1 118.8L442.4 117.9L442.0 117.0L441.6 116.1L440.6 115.5L439.1 114.9L438.5 114.3L437.9 112.8L438.0 112.1L438.9 111.3L439.3 110.6L439.0 109.7L438.7 108.8L437.8 108.1L436.3 107.2L435.8 106.5L435.3 104.9L435.5 104.4L436.7 103.9L437.2 103.3L437.0 102.5L436.8 101.6L436.0 100.7L434.5 99.5L434.0 98.8L433.7 97.3L434.0 96.8L435.3 96.7L436.0 96.3L435.9 95.5L435.9 94.7L435.1 93.6L433.6 92.2L433.2 91.4L433.2 90.0L433.6 89.7L435.0 89.9L435.8 89.7L435.8 89.0L435.9 88.2L435.2 87.1L433.9 85.4L433.6 84.6L433.7 83.4L434.2 83.2L435.7 83.7L436.6 83.8L436.7 83.1L436.9 82.5L436.3 81.3L435.1 79.5L434.9 78.7L435.3 77.6L435.8 77.5L437.4 78.4L438.3 78.6L438.6 78.1L438.8 77.6L438.4 76.3L437.4 74.4L437.3 73.7L437.9 72.8L438.5 72.9L440.0 74.0L440.9 74.5L441.3 74.1L441.7 73.7L441.4 72.5L440.6 70.5L440.6 69.8L441.4 69.2L442.0 69.4L443.4 70.8L444.4 71.5Z" fill="#f3f3f3" stroke="none"/>
<path d="M452.2 66.9L452.7 66.6L452.5 65.4L452.0 63.5L452.1 62.9L453.0 62.5L453.6 62.8L455.0 64.5L455.9 65.3L456.4 65.1L457.0 65.0L457.0 64.0L456.8 62.1L457.0 61.6L458.0 61.5L458.6 61.9L459.8 63.7L460.7 64.7L461.3 64.7L461.9 64.7L462.1 63.8L462.1 62.1L462.4 61.6L463.5 61.8L464.1 62.4L465.1 64.3L465.9 65.4L466.6 65.5L467.2 65.7L467.6 64.9L467.8 63.4L468.2 63.1L469.4 63.5L470.0 64.2L470.8 66.1L471.4 67.3L472.1 67.6L472.8 67.9L473.3 67.3L473.8 66.0L474.3 65.8L475.5 66.5L476.0 67.2L476.6 69.2L477.1 70.4L477.8 70.8L478.5 71.3L479.1 70.9L479.9 69.8L480.4 69.8L481.6 70.7L482.0 71.5L482.3 73.4L482.7 74.6L483.4 75.2L484.0 75.8L484.8 75.5L485.7 74.8L486.3 74.9L487.5 76.0L487.8 76.8L487.8 78.6L488.1 79.8L488.7 80.5L489.3 81.1L490.2 81.2L491.3 80.7L491.9 80.9L493.0 82.3L493.2 83.1L493.0 84.6L493.1 85.8L493.7 86.5L494.2 87.3L495.1 87.5L496.4 87.4L497.1 87.8L498.0 89.2L498.1 90.0L497.7 91.4L497.6 92.4L498.1 93.2L498.5 94.0L499.5 94.5L500.9 94.7L501.5 95.2L502.3 96.7L502.3 97.4L501.6 98.5L501.4 99.4L501.8 100.3L502.2 101.2L503.1 101.8L504.6 102.4L505.2 102.9L505.8 104.5L505.7 105.2L504.8 106.0L504.4 106.7L504.7 107.6L505.0 108.4L505.9 109.2L507.4 110.1L508.0 110.8L508.4 112.4L508.2 112.9L507.1 113.4L506.5 113.9L506.7 114.8L506.9 115.7L507.8 116.6L509.3 117.8L509.7 118.5L510.0 120.0L509.7 120.5L508.4 120.6L507.7 121.0L507.8 121.8L507.9 122.6L508.7 123.7L510.1 125.1L510.5 125.9L510.5 127.3L510.1 127.6L508.7 127.4L507.9 127.6L507.9 128.3L507.8 129.1L508.5 130.2L509.9 131.9L510.2 132.6L510.0 133.9L509.5 134.1L508.0 133.6L507.2 133.5L507.0 134.2L506.8 134.8L507.4 136.0L508.6 137.8L508.8 138.6L508.4 139.7L507.9 139.8L506.4 138.9L505.4 138.6L505.2 139.2L504.9 139.7L505.3 141.0L506.3 142.9L506.4 143.6L505.8 144.5L505.3 144.4L503.8 143.3L502.8 142.8L502.4 143.2L502.0 143.6L502.3 144.8L503.1 146.8L503.1 147.5L502.3 148.1L501.7 147.9L500.3 146.5L499.3 145.8L498.9 146.1L498.4 146.4L498.5 147.5L499.0 149.5L498.9 150.1L498.0 150.5L497.4 150.1L496.1 148.5L495.1 147.7L494.6 147.8L494.0 147.9L494.0 149.0L494.3 150.9L494.1 151.4L493.0 151.5L492.4 151.0L491.2 149.3L490.4 148.3L489.8 148.3L489.1 148.2L488.9 149.2L488.9 150.9L488.6 151.3L487.5 151.2L486.9 150.6L485.9 148.7L485.1 147.6L484.5 147.4L483.8 147.3L483.5 148.1L483.2 149.6L482.8 149.9L481.6 149.5L481.1 148.8L480.3 146.9L479.6 145.7L478.9 145.4L478.2 145.1L477.7 145.7L477.2 147.0L476.8 147.2L475.5 146.5L475.0 145.7L474.5 143.8L473.9 142.6L473.3 142.1L472.6 141.7L471.9 142.1L471.2 143.1L470.7 143.2L469.5 142.2L469.0 141.5L468.7 139.6L468.3 138.4L467.7 137.8L467.0 137.2L466.3 137.4L465.3 138.2L464.7 138.1L463.6 136.9L463.2 136.2L463.2 134.4L463.0 133.2L462.3 132.5L461.7 131.8L460.9 131.8L459.7 132.3L459.1 132.0L458.0 130.7L457.8 129.9L458.0 128.3L458.0 127.2L457.4 126.4L456.8 125.7L455.9 125.5L454.6 125.5L454.0 125.2L453.0 123.7L452.9 123.0L453.4 121.6L453.5 120.6L453.0 119.8L452.5 118.9L451.6 118.5L450.1 118.3L449.5 117.8L448.7 116.3L448.7 115.5L449.4 114.4L449.7 113.5L449.3 112.7L448.9 111.8L447.9 111.2L446.4 110.6L445.9 110.0L445.2 108.5L445.3 107.8L446.3 107.0L446.7 106.3L446.4 105.4L446.1 104.5L445.1 103.7L443.6 102.8L443.1 102.2L442.6 100.6L442.8 100.1L444.0 99.6L444.5 99.0L444.3 98.2L444.2 97.3L443.3 96.4L441.8 95.2L441.3 94.5L441.1 92.9L441.4 92.5L442.7 92.4L443.3 92.0L443.3 91.2L443.2 90.4L442.4 89.3L441.0 87.9L440.6 87.1L440.5 85.7L440.9 85.4L442.3 85.6L443.1 85.4L443.2 84.7L443.2 83.9L442.5 82.8L441.2 81.1L440.9 80.3L441.1 79.1L441.5 78.9L443.0 79.4L443.9 79.5L444.0 78.8L444.2 78.1L443.6 76.9L442.5 75.1L442.2 74.3L442.6 73.3L443.2 73.2L444.7 74.1L445.6 74.3L445.9 73.8L446.2 73.2L445.7 72.0L444.7 70.1L444.6 69.3L445.2 68.5L445.8 68.6L447.3 69.7L448.2 70.2L448.6 69.8L449.0 69.3L448.7 68.1L448.0 66.2L447.9 65.5L448.7 64.9L449.3 65.1L450.8 66.5L451.7 67.1Z" fill="none" stroke="#5a5a5a" stroke-width="0.7"/>
<path d="M444.9 71.2L452.2 66.9" stroke="#a9a9a9" stroke-width="1.5" fill="none"/>
<path d="M444.6 67.2L451.9 62.9" stroke="#777" stroke-width="0.45" fill="none"/>
<path d="M445.9 66.7L453.2 62.4" stroke="#777" stroke-width="0.45" fill="none"/>
<path d="M449.1 69.5L456.4 65.1" stroke="#a9a9a9" stroke-width="1.5" fill="none"/>
<path d="M449.4 65.9L456.8 61.6" stroke="#777" stroke-width="0.45" fill="none"/>
<path d="M450.9 65.8L458.2 61.4" stroke="#777" stroke-width="0.45" fill="none"/>
<path d="M454.0 69.0L461.3 64.7" stroke="#a9a9a9" stroke-width="1.5" fill="none"/>
<path d="M454.9 65.9L462.2 61.6" stroke="#777" stroke-width="0.45" fill="none"/>
<path d="M456.5 66.2L463.8 61.8" stroke="#777" stroke-width="0.45" fill="none"/>
<path d="M459.2 69.8L466.6 65.5" stroke="#a9a9a9" stroke-width="1.5" fill="none"/>
<path d="M460.7 67.3L468.0 63.0" stroke="#777" stroke-width="0.45" fill="none"/>
<path d="M462.4 67.9L469.7 63.6" stroke="#777" stroke-width="0.45" fill="none"/>
<path d="M464.8 71.9L472.1 67.6" stroke="#a9a9a9" stroke-width="1.5" fill="none"/>
<path d="M466.7 70.0L474.0 65.7" stroke="#777" stroke-width="0.45" fill="none"/>
<path d="M468.4 71.0L475.8 66.6" stroke="#777" stroke-width="0.45" fill="none"/>
<path d="M470.5 75.2L477.8 70.8" stroke="#a9a9a9" stroke-width="1.5" fill="none"/>
<path d="M472.8 73.9L480.1 69.6" stroke="#777" stroke-width="0.45" fill="none"/>
<path d="M474.5 75.2L481.8 70.9" stroke="#777" stroke-width="0.45" fill="none"/>
<path d="M476.0 79.5L483.4 75.2" stroke="#a9a9a9" stroke-width="1.5" fill="none"/>
<path d="M478.8 79.0L486.1 74.7" stroke="#777" stroke-width="0.45" fill="none"/>
<path d="M480.4 80.6L487.7 76.3" stroke="#777" stroke-width="0.45" fill="none"/>
<path d="M481.4 84.8L488.7 80.5" stroke="#a9a9a9" stroke-width="1.5" fill="none"/>
<path d="M484.4 85.0L491.7 80.7" stroke="#777" stroke-width="0.45" fill="none"/>
<path d="M485.9 86.8L493.2 82.5" stroke="#777" stroke-width="0.45" fill="none"/>
<path d="M486.3 90.8L493.7 86.5" stroke="#a9a9a9" stroke-width="1.5" fill="none"/>
<path d="M489.5 91.8L496.9 87.5" stroke="#777" stroke-width="0.45" fill="none"/>
<path d="M490.9 93.8L498.2 89.5" stroke="#777" stroke-width="0.45" fill="none"/>
<path d="M490.7 97.5L498.1 93.2" stroke="#a9a9a9" stroke-width="1.5" fill="none"/>
<path d="M494.0 99.2L501.4 94.9" stroke="#777" stroke-width="0.45" fill="none"/>
<path d="M495.2 101.3L502.5 97.0" stroke="#777" stroke-width="0.45" fill="none"/>
<path d="M494.4 104.6L501.8 100.3" stroke="#a9a9a9" stroke-width="1.5" fill="none"/>
<path d="M497.7 106.9L505.1 102.6" stroke="#777" stroke-width="0.45" fill="none"/>
<path d="M498.6 109.1L505.9 104.8" stroke="#777" stroke-width="0.45" fill="none"/>
<path d="M497.4 111.9L504.7 107.6" stroke="#a9a9a9" stroke-width="1.5" fill="none"/>
<path d="M500.5 114.8L507.9 110.5" stroke="#777" stroke-width="0.45" fill="none"/>
<path d="M501.2 117.0L508.5 112.7" stroke="#777" stroke-width="0.45" fill="none"/>
<path d="M499.4 119.1L506.7 114.8" stroke="#a9a9a9" stroke-width="1.5" fill="none"/>
<path d="M502.4 122.5L509.7 118.2" stroke="#777" stroke-width="0.45" fill="none"/>
<path d="M502.7 124.6L510.0 120.3" stroke="#777" stroke-width="0.45" fill="none"/>
<path d="M500.5 126.1L507.8 121.8" stroke="#a9a9a9" stroke-width="1.5" fill="none"/>
<path d="M503.2 129.9L510.5 125.6" stroke="#777" stroke-width="0.45" fill="none"/>
<path d="M503.2 131.9L510.5 127.6" stroke="#777" stroke-width="0.45" fill="none"/>
<path d="M500.6 132.6L507.9 128.3" stroke="#a9a9a9" stroke-width="1.5" fill="none"/>
<path d="M502.9 136.7L510.2 132.4" stroke="#777" stroke-width="0.45" fill="none"/>
<path d="M502.6 138.5L509.9 134.2" stroke="#777" stroke-width="0.45" fill="none"/>
<path d="M499.7 138.5L507.0 134.2" stroke="#a9a9a9" stroke-width="1.5" fill="none"/>
<path d="M501.6 142.7L508.9 138.4" stroke="#777" stroke-width="0.45" fill="none"/>
<path d="M501.0 144.2L508.3 139.9" stroke="#777" stroke-width="0.45" fill="none"/>
<path d="M497.8 143.5L505.2 139.2" stroke="#a9a9a9" stroke-width="1.5" fill="none"/>
<path d="M499.2 147.8L506.5 143.4" stroke="#777" stroke-width="0.45" fill="none"/>
<path d="M498.4 149.0L505.7 144.7" stroke="#777" stroke-width="0.45" fill="none"/>
<path d="M495.1 147.5L502.4 143.2" stroke="#a9a9a9" stroke-width="1.5" fill="none"/>
<path d="M495.9 151.7L503.2 147.4" stroke="#777" stroke-width="0.45" fill="none"/>
<path d="M494.8 152.6L502.2 148.2" stroke="#777" stroke-width="0.45" fill="none"/>
<path d="M491.5 150.4L498.9 146.1" stroke="#a9a9a9" stroke-width="1.5" fill="none"/>
<path d="M491.8 154.4L499.1 150.0" stroke="#777" stroke-width="0.45" fill="none"/>
<path d="M490.5 154.9L497.8 150.6" stroke="#777" stroke-width="0.45" fill="none"/>
<path d="M444.9 71.2L445.3 70.9L445.2 69.7L444.7 67.8L444.8 67.2L445.7 66.8L446.3 67.1L447.7 68.8L448.6 69.6L449.1 69.5L449.7 69.3L449.7 68.3L449.4 66.4L449.7 65.9L450.7 65.8L451.3 66.2L452.5 68.0L453.4 69.0L454.0 69.0L454.6 69.0L454.8 68.1L454.8 66.4L455.1 65.9L456.2 66.1L456.8 66.7L457.8 68.6L458.6 69.7L459.2 69.8L459.9 70.0L460.3 69.2L460.5 67.7L460.9 67.4L462.1 67.8L462.7 68.5L463.5 70.4L464.1 71.6L464.8 71.9L465.5 72.2L466.0 71.6L466.5 70.3L467.0 70.1L468.2 70.8L468.7 71.5L469.2 73.5L469.8 74.7L470.5 75.2L471.1 75.6L471.8 75.2L472.5 74.1L473.1 74.1L474.3 75.0L474.7 75.8L475.0 77.7L475.4 78.9L476.0 79.5L476.7 80.1L477.5 79.9L478.4 79.1L479.0 79.2L480.2 80.3L480.5 81.1L480.5 82.9L480.8 84.1L481.4 84.8L482.0 85.5L482.9 85.5L484.0 85.0L484.6 85.3L485.7 86.6L485.9 87.4L485.7 88.9L485.8 90.1L486.3 90.8L486.9 91.6L487.8 91.8L489.1 91.7L489.7 92.1L490.7 93.5L490.8 94.3L490.3 95.7L490.2 96.7L490.7 97.5L491.2 98.4L492.2 98.8L493.6 99.0L494.2 99.5L495.0 101.0L495.0 101.7L494.3 102.8L494.0 103.7L494.4 104.6L494.8 105.5L495.8 106.1L497.3 106.7L497.9 107.3L498.5 108.8L498.4 109.5L497.5 110.3L497.1 111.0L497.4 111.9L497.7 112.8L498.6 113.5L500.1 114.4L500.6 115.1L501.1 116.7L500.9 117.2L499.7 117.7L499.2 118.3L499.4 119.1L499.6 120.0L500.4 120.9L501.9 122.1L502.4 122.8L502.7 124.3L502.4 124.8L501.1 124.9L500.4 125.3L500.5 126.1L500.5 126.9L501.3 128.0L502.8 129.4L503.2 130.2L503.2 131.6L502.8 131.9L501.4 131.7L500.6 131.9L500.6 132.6L500.5 133.4L501.2 134.5L502.5 136.2L502.8 137.0L502.7 138.2L502.2 138.4L500.7 137.9L499.8 137.8L499.7 138.5L499.5 139.1L500.1 140.3L501.3 142.1L501.5 142.9L501.1 144.0L500.6 144.1L499.0 143.2L498.1 143.0L497.8 143.5L497.6 144.0L498.0 145.3L499.0 147.2L499.1 147.9L498.5 148.8L497.9 148.7L496.4 147.6L495.5 147.1L495.1 147.5L494.7 147.9L495.0 149.1L495.8 151.1L495.8 151.8L495.0 152.4L494.4 152.2L493.0 150.8L492.0 150.1L491.5 150.4L491.1 150.7L491.2 151.9L491.7 153.8L491.6 154.4L490.7 154.8L490.1 154.5L488.7 152.8L487.8 152.0L487.3 152.1L486.7 152.3L486.7 153.3L487.0 155.2L486.7 155.7L485.7 155.8L485.1 155.4L483.9 153.6L483.0 152.6L482.4 152.6L481.8 152.6L481.6 153.5L481.6 155.2L481.3 155.7L480.2 155.5L479.6 154.9L478.6 153.0L477.8 151.9L477.2 151.8L476.5 151.6L476.1 152.4L475.9 153.9L475.5 154.2L474.3 153.8L473.7 153.1L472.9 151.2L472.3 150.0L471.6 149.7L470.9 149.4L470.4 150.0L469.9 151.3L469.4 151.5L468.2 150.8L467.7 150.1L467.2 148.1L466.6 146.9L465.9 146.4L465.3 146.0L464.6 146.4L463.9 147.5L463.3 147.5L462.1 146.6L461.7 145.8L461.4 143.9L461.0 142.7L460.4 142.1L459.7 141.5L458.9 141.7L458.0 142.5L457.4 142.4L456.2 141.3L455.9 140.5L455.9 138.7L455.6 137.5L455.0 136.8L454.4 136.1L453.5 136.1L452.4 136.6L451.8 136.3L450.7 135.0L450.5 134.2L450.7 132.7L450.6 131.5L450.1 130.8L449.5 130.0L448.6 129.8L447.3 129.9L446.7 129.5L445.7 128.1L445.6 127.3L446.1 125.9L446.2 124.9L445.7 124.1L445.2 123.2L444.2 122.8L442.8 122.6L442.2 122.1L441.4 120.6L441.4 119.9L442.1 118.8L442.4 117.9L442.0 117.0L441.6 116.1L440.6 115.5L439.1 114.9L438.5 114.3L437.9 112.8L438.0 112.1L438.9 111.3L439.3 110.6L439.0 109.7L438.7 108.8L437.8 108.1L436.3 107.2L435.8 106.5L435.3 104.9L435.5 104.4L436.7 103.9L437.2 103.3L437.0 102.5L436.8 101.6L436.0 100.7L434.5 99.5L434.0 98.8L433.7 97.3L434.0 96.8L435.3 96.7L436.0 96.3L435.9 95.5L435.9 94.7L435.1 93.6L433.6 92.2L433.2 91.4L433.2 90.0L433.6 89.7L435.0 89.9L435.8 89.7L435.8 89.0L435.9 88.2L435.2 87.1L433.9 85.4L433.6 84.6L433.7 83.4L434.2 83.2L435.7 83.7L436.6 83.8L436.7 83.1L436.9 82.5L436.3 81.3L435.1 79.5L434.9 78.7L435.3 77.6L435.8 77.5L437.4 78.4L438.3 78.6L438.6 78.1L438.8 77.6L438.4 76.3L437.4 74.4L437.3 73.7L437.9 72.8L438.5 72.9L440.0 74.0L440.9 74.5L441.3 74.1L441.7 73.7L441.4 72.5L440.6 70.5L440.6 69.8L441.4 69.2L442.0 69.4L443.4 70.8L444.4 71.5Z" fill="#d3d3d3" stroke="#555" stroke-width="0.8"/>
<clipPath id="clip468"><path d="M459.5 96.1L460.9 95.5L462.5 95.3L464.3 95.4L466.1 96.0L468.0 96.9L469.9 98.1L471.7 99.7L473.5 101.5L475.1 103.6L476.6 105.9L477.8 108.2L478.9 110.7L479.6 113.1L480.1 115.5L480.3 117.7L480.2 119.8L479.7 121.7L479.1 123.3L478.1 124.6L476.9 125.5L475.5 126.1L473.9 126.3L472.1 126.2L470.3 125.6L468.4 124.7L466.5 123.5L464.7 121.9L462.9 120.1L461.3 118.0L459.8 115.7L458.6 113.4L457.5 110.9L456.8 108.5L456.3 106.1L456.1 103.9L456.2 101.8L456.7 99.9L457.3 98.3L458.3 97.0Z"/></clipPath>
<path d="M459.5 96.1L460.9 95.5L462.5 95.3L464.3 95.4L466.1 96.0L468.0 96.9L469.9 98.1L471.7 99.7L473.5 101.5L475.1 103.6L476.6 105.9L477.8 108.2L478.9 110.7L479.6 113.1L480.1 115.5L480.3 117.7L480.2 119.8L479.7 121.7L479.1 123.3L478.1 124.6L476.9 125.5L475.5 126.1L473.9 126.3L472.1 126.2L470.3 125.6L468.4 124.7L466.5 123.5L464.7 121.9L462.9 120.1L461.3 118.0L459.8 115.7L458.6 113.4L457.5 110.9L456.8 108.5L456.3 106.1L456.1 103.9L456.2 101.8L456.7 99.9L457.3 98.3L458.3 97.0Z" fill="#efefef" stroke="#555" stroke-width="0.9"/>
<path d="M464.1 93.4L465.5 92.8L467.1 92.6L468.8 92.7L470.6 93.3L472.5 94.2L474.4 95.5L476.3 97.0L478.0 98.9L479.7 100.9L481.1 103.2L482.4 105.6L483.4 108.0L484.2 110.4L484.6 112.8L484.8 115.1L484.7 117.2L484.3 119.0L483.6 120.6L482.6 121.9L481.4 122.9L480.0 123.5L478.4 123.7L476.7 123.5L474.8 123.0L473.0 122.0L471.1 120.8L469.2 119.2L467.5 117.4L465.8 115.3L464.4 113.1L463.1 110.7L462.1 108.3L461.3 105.8L460.9 103.5L460.7 101.2L460.8 99.1L461.2 97.2L461.9 95.6L462.9 94.3Z" fill="#fff" stroke="#666" stroke-width="0.7" clip-path="url(#clip468)"/>
<path d="M459.5 96.1L460.9 95.5L462.5 95.3L464.3 95.4L466.1 96.0L468.0 96.9L469.9 98.1L471.7 99.7L473.5 101.5L475.1 103.6L476.6 105.9L477.8 108.2L478.9 110.7L479.6 113.1L480.1 115.5L480.3 117.7L480.2 119.8L479.7 121.7L479.1 123.3L478.1 124.6L476.9 125.5L475.5 126.1L473.9 126.3L472.1 126.2L470.3 125.6L468.4 124.7L466.5 123.5L464.7 121.9L462.9 120.1L461.3 118.0L459.8 115.7L458.6 113.4L457.5 110.9L456.8 108.5L456.3 106.1L456.1 103.9L456.2 101.8L456.7 99.9L457.3 98.3L458.3 97.0Z" fill="none" stroke="#555" stroke-width="0.9"/>
<clipPath id="h475_91"><path d="M472.6 87.6L473.4 87.4L474.4 87.6L475.5 88.2L476.5 89.2L477.3 90.3L477.9 91.7L478.3 93.0L478.3 94.2L478.0 95.1L477.4 95.8L476.6 96.0L475.6 95.8L474.5 95.2L473.5 94.2L472.7 93.1L472.1 91.7L471.7 90.4L471.7 89.2L472.0 88.3Z"/></clipPath>
<path d="M472.6 87.6L473.4 87.4L474.4 87.6L475.5 88.2L476.5 89.2L477.3 90.3L477.9 91.7L478.3 93.0L478.3 94.2L478.0 95.1L477.4 95.8L476.6 96.0L475.6 95.8L474.5 95.2L473.5 94.2L472.7 93.1L472.1 91.7L471.7 90.4L471.7 89.2L472.0 88.3Z" fill="#ececec" stroke="#555" stroke-width="0.7"/>
<path d="M474.8 86.6L475.6 86.4L476.6 86.6L477.7 87.2L478.7 88.2L479.5 89.3L480.1 90.7L480.5 92.0L480.5 93.2L480.2 94.1L479.6 94.8L478.8 95.0L477.8 94.8L476.7 94.2L475.7 93.2L474.9 92.1L474.3 90.7L473.9 89.4L473.9 88.2L474.2 87.3Z" fill="#fff" stroke="#777" stroke-width="0.5" clip-path="url(#h475_91)"/>
<clipPath id="h461_129"><path d="M459.3 125.0L460.1 124.8L461.1 125.0L462.2 125.6L463.2 126.6L464.0 127.7L464.6 129.1L465.0 130.4L465.0 131.6L464.7 132.5L464.1 133.2L463.3 133.4L462.3 133.2L461.2 132.6L460.2 131.6L459.4 130.5L458.8 129.1L458.4 127.8L458.4 126.6L458.7 125.7Z"/></clipPath>
<path d="M459.3 125.0L460.1 124.8L461.1 125.0L462.2 125.6L463.2 126.6L464.0 127.7L464.6 129.1L465.0 130.4L465.0 131.6L464.7 132.5L464.1 133.2L463.3 133.4L462.3 133.2L461.2 132.6L460.2 131.6L459.4 130.5L458.8 129.1L458.4 127.8L458.4 126.6L458.7 125.7Z" fill="#ececec" stroke="#555" stroke-width="0.7"/>
<path d="M461.5 124.0L462.3 123.8L463.3 124.0L464.4 124.6L465.4 125.6L466.2 126.7L466.8 128.1L467.2 129.4L467.2 130.6L466.9 131.5L466.3 132.2L465.5 132.4L464.5 132.2L463.4 131.6L462.4 130.6L461.6 129.5L461.0 128.1L460.6 126.8L460.6 125.6L460.9 124.7Z" fill="#fff" stroke="#777" stroke-width="0.5" clip-path="url(#h461_129)"/>
<path d="M445.9 78.4L455.4 86.7L452.2 95.5L442.7 86.7Z" fill="#d9d9d9" stroke="#555" stroke-width="0.7"/>
<path d="M453.3 72.8l3 1.6M453.6 74.6l2.6 1.4" stroke="#333" stroke-width="1.3" fill="none"/>
<path d="M488.1 144.4l3 1.6M488.4 146.2l2.6 1.4" stroke="#333" stroke-width="1.3" fill="none"/>
<path d="M440.2 90.5l0.6 3.6m-1.2 0.2l1.8 -0.3" stroke="#111" stroke-width="1.1" fill="none"/>
<ellipse cx="441.2" cy="96.1" rx="1.1" ry="0.8" fill="none" stroke="#777" stroke-width="0.4"/>
<path d="M495.9 112.0l0.6 3.6m-1.2 0.2l1.8 -0.3" stroke="#111" stroke-width="1.1" fill="none"/>
<ellipse cx="496.9" cy="117.6" rx="1.1" ry="0.8" fill="none" stroke="#777" stroke-width="0.4"/>
</g>
<g stroke-linejoin="round">
<path d="M535.5 101.3L536.0 101.0L535.8 99.8L535.3 97.9L535.4 97.3L536.3 96.9L536.9 97.2L538.3 98.9L539.2 99.7L539.7 99.5L540.3 99.4L540.3 98.4L540.1 96.5L540.3 96.0L541.3 95.9L541.9 96.3L543.1 98.1L544.0 99.1L544.6 99.1L545.2 99.1L545.4 98.2L545.4 96.5L545.7 96.0L546.8 96.2L547.4 96.8L548.4 98.7L549.2 99.8L549.9 99.9L550.5 100.1L550.9 99.3L551.1 97.8L551.5 97.5L552.7 97.9L553.3 98.6L554.1 100.5L554.7 101.7L555.4 102.0L556.1 102.3L556.6 101.7L557.1 100.4L557.6 100.2L558.8 100.9L559.3 101.6L559.9 103.6L560.4 104.8L561.1 105.2L561.8 105.7L562.4 105.3L563.2 104.2L563.7 104.2L564.9 105.1L565.3 105.9L565.6 107.8L566.0 109.0L566.7 109.6L567.3 110.2L568.1 109.9L569.0 109.2L569.6 109.3L570.8 110.4L571.1 111.2L571.1 113.0L571.4 114.2L572.0 114.9L572.6 115.5L573.5 115.6L574.6 115.1L575.2 115.3L576.3 116.7L576.5 117.5L576.3 119.0L576.4 120.2L577.0 120.9L577.5 121.7L578.4 121.9L579.7 121.8L580.4 122.2L581.3 123.6L581.4 124.4L581.0 125.8L580.9 126.8L581.4 127.6L581.8 128.4L582.8 128.9L584.2 129.1L584.8 129.6L585.6 131.1L585.6 131.8L584.9 132.9L584.7 133.8L585.1 134.7L585.5 135.6L586.4 136.2L587.9 136.8L588.5 137.3L589.1 138.9L589.0 139.6L588.1 140.4L587.7 141.1L588.0 142.0L588.3 142.8L589.2 143.6L590.7 144.5L591.3 145.2L591.7 146.8L591.5 147.3L590.4 147.8L589.8 148.3L590.0 149.2L590.2 150.1L591.1 151.0L592.6 152.2L593.0 152.9L593.3 154.4L593.0 154.9L591.7 155.0L591.0 155.4L591.1 156.2L591.2 157.0L592.0 158.1L593.4 159.5L593.8 160.3L593.8 161.7L593.4 162.0L592.0 161.8L591.2 162.0L591.2 162.7L591.1 163.5L591.8 164.6L593.2 166.3L593.5 167.0L593.3 168.3L592.8 168.5L591.3 168.0L590.5 167.9L590.3 168.6L590.1 169.2L590.7 170.4L591.9 172.2L592.1 173.0L591.7 174.1L591.2 174.2L589.7 173.3L588.7 173.0L588.5 173.6L588.2 174.1L588.6 175.4L589.6 177.3L589.7 178.0L589.1 178.9L588.6 178.8L587.1 177.7L586.1 177.2L585.7 177.6L585.3 178.0L585.6 179.2L586.4 181.2L586.4 181.9L585.6 182.5L585.0 182.3L583.6 180.9L582.6 180.2L582.2 180.5L581.7 180.8L581.8 181.9L582.3 183.9L582.2 184.5L581.3 184.9L580.7 184.5L579.4 182.9L578.4 182.1L577.9 182.2L577.3 182.3L577.3 183.4L577.6 185.3L577.4 185.8L576.3 185.9L575.7 185.4L574.5 183.7L573.7 182.7L573.1 182.7L572.4 182.6L572.2 183.6L572.2 185.3L571.9 185.7L570.8 185.6L570.2 185.0L569.2 183.1L568.4 182.0L567.8 181.8L567.1 181.7L566.8 182.5L566.5 184.0L566.1 184.3L564.9 183.9L564.4 183.2L563.6 181.3L562.9 180.1L562.2 179.8L561.5 179.5L561.0 180.1L560.5 181.4L560.1 181.6L558.8 180.9L558.3 180.1L557.8 178.2L557.2 177.0L556.6 176.5L555.9 176.1L555.2 176.5L554.5 177.5L554.0 177.6L552.8 176.6L552.3 175.9L552.0 174.0L551.6 172.8L551.0 172.2L550.3 171.6L549.6 171.8L548.6 172.6L548.0 172.5L546.9 171.3L546.5 170.6L546.5 168.8L546.3 167.6L545.6 166.9L545.0 166.2L544.2 166.2L543.0 166.7L542.4 166.4L541.3 165.1L541.1 164.3L541.3 162.7L541.3 161.6L540.7 160.8L540.1 160.1L539.2 159.9L537.9 159.9L537.3 159.6L536.3 158.1L536.2 157.4L536.7 156.0L536.8 155.0L536.3 154.2L535.8 153.3L534.9 152.9L533.4 152.7L532.8 152.2L532.0 150.7L532.0 149.9L532.7 148.8L533.0 147.9L532.6 147.1L532.2 146.2L531.2 145.6L529.7 145.0L529.2 144.4L528.5 142.9L528.6 142.2L529.6 141.4L530.0 140.7L529.7 139.8L529.4 138.9L528.4 138.1L526.9 137.2L526.4 136.6L525.9 135.0L526.1 134.5L527.3 134.0L527.8 133.4L527.6 132.6L527.5 131.7L526.6 130.8L525.1 129.6L524.6 128.9L524.4 127.3L524.7 126.9L526.0 126.8L526.6 126.4L526.6 125.6L526.5 124.8L525.7 123.7L524.3 122.3L523.9 121.5L523.8 120.1L524.2 119.8L525.6 120.0L526.4 119.8L526.5 119.1L526.5 118.3L525.8 117.2L524.5 115.5L524.2 114.7L524.4 113.5L524.8 113.3L526.3 113.8L527.2 113.9L527.3 113.2L527.5 112.5L526.9 111.3L525.8 109.5L525.5 108.7L525.9 107.7L526.5 107.6L528.0 108.5L528.9 108.7L529.2 108.2L529.5 107.6L529.0 106.4L528.0 104.5L527.9 103.7L528.5 102.9L529.1 103.0L530.6 104.1L531.5 104.6L531.9 104.2L532.3 103.7L532.0 102.5L531.3 100.6L531.2 99.9L532.0 99.3L532.6 99.5L534.1 100.9L535.0 101.5Z" fill="#f3f3f3" stroke="none"/>
<path d="M534.6 101.8L535.0 101.5L534.9 100.4L534.4 98.4L534.5 97.8L535.4 97.4L536.0 97.8L537.4 99.4L538.3 100.2L538.8 100.1L539.4 100.0L539.4 98.9L539.2 97.0L539.4 96.5L540.4 96.4L541.0 96.9L542.2 98.6L543.1 99.6L543.7 99.6L544.3 99.7L544.5 98.7L544.5 97.0L544.8 96.6L545.9 96.7L546.5 97.3L547.5 99.2L548.3 100.3L549.0 100.5L549.6 100.6L550.0 99.9L550.2 98.3L550.6 98.0L551.8 98.4L552.4 99.1L553.2 101.0L553.8 102.2L554.5 102.5L555.2 102.9L555.7 102.2L556.2 100.9L556.7 100.7L557.9 101.4L558.4 102.2L558.9 104.1L559.5 105.3L560.2 105.8L560.8 106.2L561.5 105.8L562.2 104.8L562.8 104.7L564.0 105.7L564.4 106.4L564.7 108.3L565.1 109.5L565.8 110.1L566.4 110.7L567.2 110.5L568.1 109.7L568.7 109.8L569.9 111.0L570.2 111.8L570.2 113.5L570.5 114.7L571.1 115.4L571.7 116.1L572.6 116.1L573.7 115.7L574.3 115.9L575.4 117.2L575.6 118.0L575.4 119.6L575.5 120.7L576.0 121.5L576.6 122.2L577.5 122.5L578.8 122.4L579.4 122.7L580.4 124.2L580.5 124.9L580.0 126.3L579.9 127.3L580.4 128.2L580.9 129.0L581.9 129.4L583.3 129.7L583.9 130.1L584.7 131.7L584.7 132.4L584.0 133.5L583.7 134.4L584.2 135.2L584.5 136.1L585.5 136.7L587.0 137.3L587.6 137.9L588.2 139.4L588.1 140.1L587.2 140.9L586.8 141.6L587.1 142.5L587.4 143.4L588.3 144.2L589.8 145.1L590.3 145.7L590.8 147.3L590.6 147.8L589.5 148.3L588.9 148.9L589.1 149.7L589.3 150.6L590.2 151.5L591.7 152.7L592.1 153.5L592.4 155.0L592.1 155.4L590.8 155.6L590.1 155.9L590.2 156.7L590.2 157.5L591.0 158.6L592.5 160.0L592.9 160.8L592.9 162.2L592.5 162.5L591.1 162.4L590.3 162.5L590.3 163.3L590.2 164.0L590.9 165.2L592.2 166.8L592.6 167.6L592.4 168.9L591.9 169.0L590.4 168.5L589.6 168.5L589.4 169.1L589.2 169.8L589.8 171.0L591.0 172.8L591.2 173.6L590.8 174.6L590.3 174.7L588.7 173.9L587.8 173.6L587.6 174.1L587.3 174.7L587.7 175.9L588.7 177.8L588.8 178.6L588.2 179.4L587.6 179.3L586.1 178.2L585.2 177.7L584.8 178.2L584.4 178.6L584.7 179.8L585.5 181.7L585.5 182.4L584.7 183.1L584.1 182.8L582.7 181.4L581.7 180.8L581.3 181.1L580.8 181.3L580.9 182.5L581.4 184.4L581.3 185.1L580.4 185.4L579.8 185.1L578.5 183.5L577.5 182.6L577.0 182.8L576.4 182.9L576.4 183.9L576.7 185.8L576.5 186.4L575.4 186.5L574.8 186.0L573.6 184.2L572.7 183.2L572.1 183.2L571.5 183.2L571.3 184.1L571.3 185.9L571.0 186.3L569.9 186.1L569.3 185.5L568.3 183.6L567.5 182.6L566.9 182.4L566.2 182.2L565.8 183.0L565.6 184.5L565.2 184.9L564.0 184.4L563.4 183.8L562.7 181.8L562.0 180.6L561.3 180.3L560.6 180.0L560.1 180.6L559.6 181.9L559.1 182.1L557.9 181.4L557.4 180.7L556.9 178.7L556.3 177.5L555.7 177.1L555.0 176.6L554.3 177.0L553.6 178.1L553.0 178.1L551.8 177.2L551.4 176.4L551.1 174.5L550.7 173.3L550.1 172.7L549.4 172.2L548.7 172.4L547.7 173.1L547.1 173.0L546.0 171.9L545.6 171.1L545.6 169.3L545.3 168.1L544.7 167.5L544.1 166.8L543.3 166.8L542.1 167.2L541.5 167.0L540.4 165.7L540.2 164.9L540.4 163.3L540.3 162.1L539.8 161.4L539.2 160.6L538.3 160.4L537.0 160.5L536.4 160.1L535.4 158.7L535.3 157.9L535.8 156.6L535.9 155.5L535.4 154.7L534.9 153.9L533.9 153.4L532.5 153.2L531.9 152.7L531.1 151.2L531.1 150.5L531.8 149.4L532.1 148.5L531.7 147.6L531.3 146.7L530.3 146.1L528.8 145.6L528.2 145.0L527.6 143.4L527.7 142.8L528.6 142.0L529.1 141.2L528.7 140.3L528.5 139.5L527.5 138.7L526.0 137.8L525.5 137.1L525.0 135.6L525.2 135.0L526.4 134.5L526.9 134.0L526.7 133.1L526.5 132.2L525.7 131.3L524.2 130.1L523.7 129.4L523.5 127.9L523.7 127.4L525.0 127.3L525.7 126.9L525.6 126.1L525.6 125.3L524.8 124.2L523.3 122.8L522.9 122.0L522.9 120.6L523.3 120.3L524.7 120.5L525.5 120.3L525.5 119.6L525.6 118.9L524.9 117.7L523.6 116.1L523.3 115.3L523.5 114.0L523.9 113.8L525.4 114.3L526.3 114.4L526.4 113.7L526.6 113.1L526.0 111.9L524.8 110.1L524.6 109.3L525.0 108.2L525.6 108.1L527.1 109.0L528.0 109.3L528.3 108.7L528.5 108.2L528.1 107.0L527.1 105.0L527.0 104.3L527.6 103.4L528.2 103.5L529.7 104.6L530.6 105.1L531.0 104.7L531.4 104.3L531.1 103.1L530.3 101.1L530.3 100.4L531.1 99.8L531.7 100.0L533.1 101.4L534.1 102.1Z" fill="#f3f3f3" stroke="none"/>
<path d="M533.6 102.3L534.1 102.1L534.0 100.9L533.5 99.0L533.6 98.3L534.5 98.0L535.1 98.3L536.4 99.9L537.4 100.8L537.9 100.6L538.5 100.5L538.5 99.4L538.2 97.6L538.4 97.0L539.5 96.9L540.1 97.4L541.3 99.2L542.2 100.2L542.8 100.2L543.4 100.2L543.6 99.3L543.6 97.5L543.9 97.1L545.0 97.3L545.6 97.9L546.6 99.7L547.4 100.8L548.0 101.0L548.7 101.2L549.1 100.4L549.3 98.8L549.7 98.5L550.9 99.0L551.5 99.6L552.2 101.6L552.9 102.8L553.6 103.1L554.3 103.4L554.8 102.8L555.3 101.5L555.8 101.3L557.0 102.0L557.5 102.7L558.0 104.7L558.6 105.9L559.2 106.3L559.9 106.8L560.6 106.4L561.3 105.3L561.9 105.3L563.1 106.2L563.5 107.0L563.8 108.9L564.2 110.1L564.8 110.7L565.5 111.2L566.3 111.0L567.2 110.3L567.8 110.4L569.0 111.5L569.3 112.3L569.3 114.1L569.6 115.3L570.2 115.9L570.8 116.6L571.6 116.6L572.8 116.2L573.4 116.4L574.5 117.7L574.7 118.5L574.5 120.1L574.6 121.2L575.1 122.0L575.7 122.8L576.6 123.0L577.9 122.9L578.5 123.3L579.5 124.7L579.6 125.5L579.1 126.8L579.0 127.9L579.5 128.7L580.0 129.5L581.0 129.9L582.4 130.2L583.0 130.7L583.8 132.2L583.8 132.9L583.1 134.0L582.8 134.9L583.2 135.8L583.6 136.6L584.6 137.3L586.1 137.8L586.7 138.4L587.3 140.0L587.2 140.6L586.3 141.4L585.8 142.2L586.2 143.0L586.4 143.9L587.4 144.7L588.9 145.6L589.4 146.3L589.9 147.8L589.7 148.4L588.5 148.9L588.0 149.4L588.2 150.3L588.4 151.1L589.2 152.1L590.7 153.3L591.2 154.0L591.4 155.5L591.2 156.0L589.9 156.1L589.2 156.5L589.3 157.3L589.3 158.1L590.1 159.1L591.6 160.6L592.0 161.4L592.0 162.8L591.6 163.1L590.2 162.9L589.4 163.0L589.4 163.8L589.3 164.5L590.0 165.7L591.3 167.3L591.6 168.1L591.5 169.4L591.0 169.6L589.5 169.1L588.6 169.0L588.5 169.7L588.3 170.3L588.9 171.5L590.1 173.3L590.3 174.1L589.9 175.2L589.3 175.2L587.8 174.4L586.9 174.1L586.6 174.7L586.4 175.2L586.8 176.4L587.8 178.3L587.9 179.1L587.3 180.0L586.7 179.9L585.2 178.7L584.3 178.3L583.9 178.7L583.5 179.1L583.8 180.3L584.6 182.3L584.6 183.0L583.8 183.6L583.2 183.4L581.8 182.0L580.8 181.3L580.3 181.6L579.9 181.9L580.0 183.0L580.5 185.0L580.4 185.6L579.5 186.0L578.9 185.6L577.5 184.0L576.6 183.2L576.1 183.3L575.5 183.4L575.5 184.5L575.7 186.4L575.5 186.9L574.5 187.0L573.9 186.5L572.7 184.7L571.8 183.8L571.2 183.7L570.6 183.7L570.4 184.7L570.4 186.4L570.1 186.8L569.0 186.7L568.4 186.1L567.4 184.2L566.6 183.1L565.9 182.9L565.3 182.7L564.9 183.5L564.7 185.1L564.3 185.4L563.1 185.0L562.5 184.3L561.7 182.3L561.1 181.2L560.4 180.9L559.7 180.5L559.2 181.1L558.7 182.5L558.2 182.6L557.0 181.9L556.5 181.2L556.0 179.3L555.4 178.1L554.7 177.6L554.1 177.1L553.4 177.6L552.7 178.6L552.1 178.7L550.9 177.7L550.5 177.0L550.2 175.1L549.8 173.9L549.2 173.3L548.5 172.7L547.7 172.9L546.8 173.7L546.2 173.6L545.0 172.4L544.7 171.6L544.7 169.9L544.4 168.7L543.8 168.0L543.2 167.3L542.3 167.3L541.2 167.7L540.6 167.5L539.5 166.2L539.3 165.4L539.5 163.8L539.4 162.7L538.9 161.9L538.3 161.1L537.4 160.9L536.1 161.0L535.5 160.7L534.5 159.2L534.4 158.5L534.9 157.1L535.0 156.1L534.5 155.2L534.0 154.4L533.0 154.0L531.6 153.7L531.0 153.3L530.2 151.7L530.2 151.0L530.9 149.9L531.2 149.0L530.7 148.2L530.4 147.3L529.4 146.7L527.9 146.1L527.3 145.5L526.7 143.9L526.8 143.3L527.7 142.5L528.1 141.8L527.8 140.9L527.5 140.0L526.6 139.2L525.1 138.3L524.6 137.7L524.1 136.1L524.3 135.5L525.4 135.1L526.0 134.5L525.8 133.6L525.6 132.8L524.7 131.8L523.2 130.7L522.8 129.9L522.5 128.4L522.8 128.0L524.1 127.8L524.8 127.5L524.7 126.7L524.7 125.8L523.9 124.8L522.4 123.3L522.0 122.6L522.0 121.2L522.4 120.8L523.8 121.0L524.6 120.9L524.6 120.1L524.7 119.4L524.0 118.2L522.7 116.6L522.3 115.8L522.5 114.5L523.0 114.3L524.5 114.9L525.3 114.9L525.5 114.3L525.7 113.6L525.1 112.4L523.9 110.6L523.7 109.8L524.1 108.7L524.6 108.7L526.2 109.5L527.1 109.8L527.3 109.3L527.6 108.7L527.2 107.5L526.2 105.6L526.1 104.8L526.7 104.0L527.3 104.0L528.8 105.2L529.7 105.7L530.1 105.2L530.5 104.8L530.2 103.6L529.4 101.7L529.4 101.0L530.2 100.3L530.8 100.5L532.2 102.0L533.2 102.6Z" fill="#f3f3f3" stroke="none"/>
<path d="M532.7 102.9L533.2 102.6L533.1 101.4L532.6 99.5L532.7 98.9L533.6 98.5L534.2 98.9L535.5 100.5L536.5 101.3L537.0 101.2L537.6 101.0L537.6 100.0L537.3 98.1L537.5 97.6L538.6 97.5L539.2 97.9L540.4 99.7L541.2 100.7L541.8 100.7L542.5 100.8L542.7 99.8L542.7 98.1L543.0 97.6L544.1 97.8L544.7 98.4L545.7 100.3L546.5 101.4L547.1 101.5L547.8 101.7L548.1 100.9L548.4 99.4L548.8 99.1L550.0 99.5L550.5 100.2L551.3 102.1L552.0 103.3L552.7 103.6L553.4 103.9L553.9 103.3L554.4 102.0L554.8 101.8L556.1 102.5L556.6 103.2L557.1 105.2L557.7 106.4L558.3 106.9L559.0 107.3L559.7 106.9L560.4 105.8L560.9 105.8L562.1 106.7L562.6 107.5L562.9 109.4L563.3 110.6L563.9 111.2L564.6 111.8L565.3 111.6L566.3 110.8L566.9 110.9L568.0 112.0L568.4 112.8L568.4 114.6L568.6 115.8L569.3 116.5L569.9 117.2L570.7 117.2L571.9 116.7L572.5 117.0L573.6 118.3L573.8 119.1L573.6 120.7L573.6 121.8L574.2 122.5L574.8 123.3L575.7 123.5L577.0 123.4L577.6 123.8L578.6 125.2L578.7 126.0L578.2 127.4L578.1 128.4L578.6 129.2L579.1 130.1L580.0 130.5L581.5 130.7L582.1 131.2L582.9 132.7L582.9 133.5L582.2 134.5L581.9 135.4L582.3 136.3L582.7 137.2L583.7 137.8L585.2 138.4L585.7 139.0L586.4 140.5L586.3 141.2L585.3 142.0L584.9 142.7L585.2 143.6L585.5 144.5L586.5 145.3L588.0 146.1L588.5 146.8L589.0 148.4L588.8 148.9L587.6 149.4L587.1 150.0L587.3 150.8L587.4 151.7L588.3 152.6L589.8 153.8L590.3 154.5L590.5 156.0L590.2 156.5L588.9 156.6L588.3 157.0L588.3 157.8L588.4 158.6L589.2 159.7L590.6 161.1L591.0 161.9L591.1 163.3L590.7 163.6L589.3 163.4L588.5 163.6L588.4 164.3L588.4 165.1L589.1 166.2L590.4 167.9L590.7 168.7L590.5 169.9L590.1 170.1L588.6 169.6L587.7 169.5L587.6 170.2L587.4 170.8L588.0 172.1L589.1 173.9L589.4 174.6L589.0 175.7L588.4 175.8L586.9 174.9L586.0 174.7L585.7 175.2L585.4 175.7L585.9 177.0L586.9 178.9L587.0 179.6L586.4 180.5L585.8 180.4L584.3 179.3L583.4 178.8L583.0 179.2L582.6 179.6L582.9 180.9L583.6 182.8L583.7 183.5L582.9 184.1L582.3 183.9L580.8 182.5L579.9 181.9L579.4 182.1L578.9 182.4L579.1 183.6L579.6 185.5L579.5 186.1L578.6 186.5L578.0 186.2L576.6 184.5L575.7 183.7L575.2 183.8L574.6 184.0L574.6 185.0L574.8 186.9L574.6 187.4L573.6 187.5L573.0 187.1L571.8 185.3L570.9 184.3L570.3 184.3L569.7 184.3L569.5 185.2L569.5 186.9L569.2 187.4L568.1 187.2L567.5 186.6L566.5 184.7L565.7 183.6L565.0 183.5L564.4 183.3L564.0 184.1L563.8 185.6L563.4 185.9L562.2 185.5L561.6 184.8L560.8 182.9L560.2 181.7L559.5 181.4L558.8 181.1L558.3 181.7L557.8 183.0L557.3 183.2L556.1 182.5L555.6 181.8L555.0 179.8L554.5 178.6L553.8 178.1L553.1 177.7L552.5 178.1L551.7 179.2L551.2 179.2L550.0 178.3L549.6 177.5L549.3 175.6L548.9 174.4L548.2 173.8L547.6 173.2L546.8 173.4L545.9 174.2L545.3 174.1L544.1 173.0L543.8 172.2L543.8 170.4L543.5 169.2L542.9 168.5L542.3 167.8L541.4 167.8L540.3 168.3L539.7 168.0L538.6 166.7L538.4 165.9L538.6 164.4L538.5 163.2L537.9 162.5L537.4 161.7L536.5 161.5L535.2 161.6L534.5 161.2L533.6 159.8L533.5 159.0L533.9 157.6L534.0 156.6L533.5 155.8L533.1 154.9L532.1 154.5L530.7 154.3L530.1 153.8L529.3 152.3L529.3 151.6L530.0 150.5L530.2 149.6L529.8 148.7L529.4 147.8L528.5 147.2L527.0 146.6L526.4 146.1L525.8 144.5L525.9 143.8L526.8 143.0L527.2 142.3L526.9 141.4L526.6 140.5L525.7 139.8L524.2 138.9L523.6 138.2L523.2 136.6L523.4 136.1L524.5 135.6L525.1 135.0L524.9 134.2L524.7 133.3L523.8 132.4L522.3 131.2L521.9 130.5L521.6 129.0L521.9 128.5L523.2 128.4L523.9 128.0L523.8 127.2L523.7 126.4L522.9 125.3L521.5 123.9L521.1 123.1L521.1 121.7L521.5 121.4L522.9 121.6L523.7 121.4L523.7 120.7L523.8 119.9L523.1 118.8L521.7 117.1L521.4 116.3L521.6 115.1L522.1 114.9L523.6 115.4L524.4 115.5L524.6 114.8L524.8 114.2L524.2 113.0L523.0 111.2L522.8 110.4L523.2 109.3L523.7 109.2L525.2 110.1L526.2 110.4L526.4 109.8L526.7 109.3L526.3 108.0L525.3 106.1L525.2 105.4L525.8 104.5L526.3 104.6L527.8 105.7L528.8 106.2L529.2 105.8L529.6 105.4L529.3 104.2L528.5 102.2L528.5 101.5L529.3 100.9L529.9 101.1L531.3 102.5L532.3 103.2Z" fill="#f3f3f3" stroke="none"/>
<path d="M531.8 103.4L532.3 103.1L532.2 102.0L531.6 100.0L531.7 99.4L532.7 99.0L533.3 99.4L534.6 101.0L535.5 101.8L536.1 101.7L536.6 101.6L536.7 100.5L536.4 98.7L536.6 98.1L537.7 98.0L538.3 98.5L539.5 100.3L540.3 101.2L540.9 101.3L541.5 101.3L541.8 100.4L541.7 98.6L542.0 98.2L543.2 98.4L543.8 98.9L544.8 100.8L545.6 101.9L546.2 102.1L546.9 102.3L547.2 101.5L547.5 99.9L547.9 99.6L549.1 100.1L549.6 100.7L550.4 102.7L551.1 103.8L551.8 104.1L552.4 104.5L553.0 103.9L553.5 102.5L553.9 102.4L555.2 103.1L555.6 103.8L556.2 105.7L556.7 106.9L557.4 107.4L558.1 107.9L558.7 107.4L559.5 106.4L560.0 106.3L561.2 107.3L561.6 108.1L561.9 109.9L562.3 111.2L563.0 111.7L563.7 112.3L564.4 112.1L565.4 111.3L566.0 111.4L567.1 112.6L567.4 113.4L567.5 115.1L567.7 116.3L568.4 117.0L569.0 117.7L569.8 117.7L571.0 117.3L571.6 117.5L572.6 118.8L572.9 119.6L572.7 121.2L572.7 122.3L573.3 123.1L573.9 123.9L574.8 124.1L576.1 124.0L576.7 124.3L577.6 125.8L577.8 126.5L577.3 127.9L577.2 128.9L577.7 129.8L578.2 130.6L579.1 131.0L580.5 131.3L581.2 131.7L582.0 133.3L582.0 134.0L581.3 135.1L581.0 136.0L581.4 136.9L581.8 137.7L582.8 138.3L584.2 138.9L584.8 139.5L585.5 141.1L585.4 141.7L584.4 142.5L584.0 143.3L584.3 144.1L584.6 145.0L585.5 145.8L587.1 146.7L587.6 147.4L588.0 148.9L587.8 149.5L586.7 149.9L586.2 150.5L586.4 151.4L586.5 152.2L587.4 153.2L588.9 154.3L589.4 155.1L589.6 156.6L589.3 157.0L588.0 157.2L587.4 157.5L587.4 158.4L587.5 159.2L588.3 160.2L589.7 161.7L590.1 162.4L590.1 163.8L589.8 164.2L588.4 164.0L587.6 164.1L587.5 164.9L587.5 165.6L588.2 166.8L589.5 168.4L589.8 169.2L589.6 170.5L589.2 170.7L587.7 170.1L586.8 170.1L586.6 170.7L586.5 171.4L587.1 172.6L588.2 174.4L588.4 175.2L588.0 176.3L587.5 176.3L586.0 175.5L585.1 175.2L584.8 175.7L584.5 176.3L585.0 177.5L585.9 179.4L586.1 180.2L585.5 181.0L584.9 181.0L583.4 179.8L582.4 179.3L582.1 179.8L581.7 180.2L582.0 181.4L582.7 183.3L582.7 184.0L582.0 184.7L581.4 184.5L579.9 183.1L579.0 182.4L578.5 182.7L578.0 182.9L578.2 184.1L578.7 186.0L578.6 186.7L577.7 187.0L577.0 186.7L575.7 185.1L574.8 184.2L574.2 184.4L573.7 184.5L573.6 185.6L573.9 187.4L573.7 188.0L572.7 188.1L572.1 187.6L570.9 185.8L570.0 184.8L569.4 184.8L568.8 184.8L568.6 185.7L568.6 187.5L568.3 187.9L567.1 187.7L566.6 187.2L565.5 185.3L564.8 184.2L564.1 184.0L563.5 183.8L563.1 184.6L562.8 186.2L562.4 186.5L561.2 186.0L560.7 185.4L559.9 183.4L559.2 182.2L558.6 181.9L557.9 181.6L557.4 182.2L556.9 183.5L556.4 183.7L555.2 183.0L554.7 182.3L554.1 180.4L553.6 179.1L552.9 178.7L552.2 178.2L551.6 178.6L550.8 179.7L550.3 179.7L549.1 178.8L548.7 178.0L548.4 176.2L548.0 174.9L547.3 174.4L546.7 173.8L545.9 174.0L544.9 174.7L544.4 174.6L543.2 173.5L542.9 172.7L542.8 170.9L542.6 169.8L542.0 169.1L541.4 168.4L540.5 168.4L539.4 168.8L538.7 168.6L537.7 167.3L537.4 166.5L537.7 164.9L537.6 163.8L537.0 163.0L536.5 162.2L535.6 162.0L534.2 162.1L533.6 161.7L532.7 160.3L532.6 159.5L533.0 158.2L533.1 157.1L532.6 156.3L532.1 155.5L531.2 155.1L529.8 154.8L529.2 154.3L528.4 152.8L528.3 152.1L529.1 151.0L529.3 150.1L528.9 149.2L528.5 148.4L527.6 147.7L526.1 147.2L525.5 146.6L524.9 145.0L525.0 144.4L525.9 143.6L526.3 142.8L526.0 142.0L525.7 141.1L524.8 140.3L523.3 139.4L522.7 138.7L522.3 137.2L522.5 136.6L523.6 136.1L524.2 135.6L524.0 134.7L523.8 133.9L522.9 132.9L521.4 131.7L520.9 131.0L520.7 129.5L521.0 129.1L522.3 128.9L523.0 128.6L522.9 127.7L522.8 126.9L522.0 125.9L520.6 124.4L520.2 123.7L520.2 122.2L520.6 121.9L522.0 122.1L522.8 122.0L522.8 121.2L522.8 120.5L522.1 119.3L520.8 117.7L520.5 116.9L520.7 115.6L521.2 115.4L522.7 116.0L523.5 116.0L523.7 115.4L523.8 114.7L523.3 113.5L522.1 111.7L521.9 110.9L522.3 109.8L522.8 109.8L524.3 110.6L525.2 110.9L525.5 110.3L525.8 109.8L525.4 108.6L524.4 106.7L524.3 105.9L524.9 105.0L525.4 105.1L526.9 106.3L527.9 106.7L528.3 106.3L528.6 105.9L528.4 104.7L527.6 102.7L527.6 102.0L528.4 101.4L529.0 101.6L530.4 103.0L531.3 103.7Z" fill="#f3f3f3" stroke="none"/>
<path d="M530.9 103.9L531.4 103.7L531.3 102.5L530.7 100.6L530.8 100.0L531.8 99.6L532.4 99.9L533.7 101.5L534.6 102.4L535.2 102.2L535.7 102.1L535.8 101.1L535.5 99.2L535.7 98.7L536.7 98.6L537.4 99.0L538.5 100.8L539.4 101.8L540.0 101.8L540.6 101.8L540.8 100.9L540.8 99.2L541.1 98.7L542.3 98.9L542.9 99.5L543.9 101.4L544.6 102.5L545.3 102.6L545.9 102.8L546.3 102.0L546.6 100.5L547.0 100.1L548.2 100.6L548.7 101.3L549.5 103.2L550.2 104.4L550.8 104.7L551.5 105.0L552.0 104.4L552.5 103.1L553.0 102.9L554.2 103.6L554.7 104.3L555.3 106.3L555.8 107.5L556.5 107.9L557.2 108.4L557.8 108.0L558.6 106.9L559.1 106.9L560.3 107.8L560.7 108.6L561.0 110.5L561.4 111.7L562.1 112.3L562.7 112.9L563.5 112.6L564.5 111.9L565.0 112.0L566.2 113.1L566.5 113.9L566.6 115.7L566.8 116.9L567.4 117.6L568.1 118.2L568.9 118.2L570.1 117.8L570.7 118.0L571.7 119.4L572.0 120.1L571.7 121.7L571.8 122.9L572.4 123.6L572.9 124.4L573.9 124.6L575.2 124.5L575.8 124.9L576.7 126.3L576.9 127.1L576.4 128.4L576.3 129.5L576.8 130.3L577.3 131.1L578.2 131.6L579.6 131.8L580.2 132.3L581.0 133.8L581.1 134.5L580.3 135.6L580.1 136.5L580.5 137.4L580.9 138.3L581.8 138.9L583.3 139.5L583.9 140.0L584.5 141.6L584.5 142.2L583.5 143.0L583.1 143.8L583.4 144.7L583.7 145.5L584.6 146.3L586.1 147.2L586.7 147.9L587.1 149.5L586.9 150.0L585.8 150.5L585.2 151.0L585.4 151.9L585.6 152.8L586.5 153.7L588.0 154.9L588.5 155.6L588.7 157.1L588.4 157.6L587.1 157.7L586.4 158.1L586.5 158.9L586.6 159.7L587.4 160.8L588.8 162.2L589.2 163.0L589.2 164.4L588.8 164.7L587.4 164.5L586.7 164.7L586.6 165.4L586.6 166.2L587.3 167.3L588.6 169.0L588.9 169.7L588.7 171.0L588.2 171.2L586.8 170.7L585.9 170.6L585.7 171.3L585.6 171.9L586.1 173.1L587.3 174.9L587.5 175.7L587.1 176.8L586.6 176.9L585.1 176.0L584.2 175.7L583.9 176.3L583.6 176.8L584.0 178.1L585.0 180.0L585.1 180.7L584.6 181.6L584.0 181.5L582.5 180.4L581.5 179.9L581.2 180.3L580.8 180.7L581.1 181.9L581.8 183.9L581.8 184.6L581.1 185.2L580.4 185.0L579.0 183.6L578.1 182.9L577.6 183.2L577.1 183.5L577.2 184.6L577.8 186.6L577.7 187.2L576.7 187.6L576.1 187.2L574.8 185.6L573.9 184.8L573.3 184.9L572.8 185.0L572.7 186.1L573.0 188.0L572.8 188.5L571.7 188.6L571.1 188.1L569.9 186.4L569.1 185.4L568.5 185.4L567.9 185.3L567.7 186.3L567.7 188.0L567.4 188.4L566.2 188.3L565.6 187.7L564.6 185.8L563.8 184.7L563.2 184.5L562.5 184.4L562.2 185.1L561.9 186.7L561.5 187.0L560.3 186.6L559.8 185.9L559.0 184.0L558.3 182.8L557.6 182.5L557.0 182.1L556.5 182.8L555.9 184.1L555.5 184.3L554.3 183.6L553.8 182.8L553.2 180.9L552.7 179.7L552.0 179.2L551.3 178.8L550.7 179.2L549.9 180.2L549.4 180.3L548.2 179.3L547.8 178.6L547.5 176.7L547.1 175.5L546.4 174.9L545.7 174.3L545.0 174.5L544.0 175.3L543.4 175.2L542.3 174.0L542.0 173.2L541.9 171.5L541.7 170.3L541.1 169.6L540.4 168.9L539.6 168.9L538.4 169.4L537.8 169.1L536.8 167.8L536.5 167.0L536.8 165.4L536.7 164.3L536.1 163.5L535.5 162.8L534.6 162.5L533.3 162.6L532.7 162.3L531.8 160.8L531.6 160.1L532.1 158.7L532.2 157.7L531.7 156.9L531.2 156.0L530.3 155.6L528.9 155.4L528.3 154.9L527.5 153.3L527.4 152.6L528.2 151.5L528.4 150.6L528.0 149.8L527.6 148.9L526.7 148.3L525.2 147.7L524.6 147.1L524.0 145.6L524.0 144.9L525.0 144.1L525.4 143.4L525.1 142.5L524.8 141.6L523.9 140.8L522.3 139.9L521.8 139.3L521.4 137.7L521.6 137.2L522.7 136.7L523.3 136.1L523.1 135.3L522.9 134.4L522.0 133.5L520.5 132.3L520.0 131.5L519.8 130.0L520.1 129.6L521.4 129.5L522.1 129.1L522.0 128.3L521.9 127.5L521.1 126.4L519.7 125.0L519.3 124.2L519.3 122.8L519.6 122.5L521.1 122.7L521.8 122.5L521.9 121.8L521.9 121.0L521.2 119.9L519.9 118.2L519.6 117.4L519.8 116.2L520.3 116.0L521.7 116.5L522.6 116.6L522.8 115.9L522.9 115.2L522.4 114.0L521.2 112.2L521.0 111.4L521.4 110.4L521.9 110.3L523.4 111.2L524.3 111.4L524.6 110.9L524.9 110.3L524.4 109.1L523.5 107.2L523.4 106.4L523.9 105.6L524.5 105.7L526.0 106.8L527.0 107.3L527.3 106.9L527.7 106.4L527.4 105.2L526.7 103.3L526.7 102.6L527.4 101.9L528.0 102.2L529.5 103.6L530.4 104.2Z" fill="#f3f3f3" stroke="none"/>
<path d="M530.0 104.5L530.5 104.2L530.3 103.1L529.8 101.1L529.9 100.5L530.8 100.1L531.5 100.5L532.8 102.1L533.7 102.9L534.3 102.8L534.8 102.7L534.8 101.6L534.6 99.7L534.8 99.2L535.8 99.1L536.4 99.6L537.6 101.3L538.5 102.3L539.1 102.3L539.7 102.4L539.9 101.4L539.9 99.7L540.2 99.3L541.4 99.4L541.9 100.0L543.0 101.9L543.7 103.0L544.4 103.2L545.0 103.3L545.4 102.6L545.7 101.0L546.0 100.7L547.2 101.1L547.8 101.8L548.6 103.7L549.3 104.9L549.9 105.2L550.6 105.6L551.1 104.9L551.6 103.6L552.1 103.4L553.3 104.1L553.8 104.9L554.4 106.8L554.9 108.0L555.6 108.5L556.3 108.9L556.9 108.5L557.7 107.5L558.2 107.4L559.4 108.4L559.8 109.1L560.1 111.0L560.5 112.2L561.2 112.8L561.8 113.4L562.6 113.2L563.6 112.4L564.1 112.5L565.3 113.7L565.6 114.5L565.7 116.2L565.9 117.4L566.5 118.1L567.1 118.8L568.0 118.8L569.1 118.4L569.7 118.6L570.8 119.9L571.0 120.7L570.8 122.3L570.9 123.4L571.5 124.2L572.0 124.9L572.9 125.2L574.2 125.1L574.9 125.4L575.8 126.9L575.9 127.6L575.5 129.0L575.4 130.0L575.9 130.8L576.3 131.7L577.3 132.1L578.7 132.3L579.3 132.8L580.1 134.4L580.1 135.1L579.4 136.2L579.2 137.1L579.6 137.9L580.0 138.8L580.9 139.4L582.4 140.0L583.0 140.6L583.6 142.1L583.5 142.8L582.6 143.6L582.2 144.3L582.5 145.2L582.8 146.1L583.7 146.9L585.2 147.8L585.8 148.4L586.2 150.0L586.0 150.5L584.9 151.0L584.3 151.6L584.5 152.4L584.7 153.3L585.6 154.2L587.1 155.4L587.6 156.2L587.8 157.7L587.5 158.1L586.2 158.2L585.5 158.6L585.6 159.4L585.7 160.2L586.5 161.3L587.9 162.7L588.3 163.5L588.3 164.9L587.9 165.2L586.5 165.0L585.7 165.2L585.7 166.0L585.6 166.7L586.3 167.8L587.7 169.5L588.0 170.3L587.8 171.5L587.3 171.7L585.8 171.2L585.0 171.1L584.8 171.8L584.6 172.5L585.2 173.7L586.4 175.5L586.6 176.3L586.2 177.3L585.7 177.4L584.2 176.5L583.2 176.3L583.0 176.8L582.7 177.4L583.1 178.6L584.1 180.5L584.2 181.3L583.6 182.1L583.1 182.0L581.6 180.9L580.6 180.4L580.2 180.8L579.9 181.3L580.1 182.5L580.9 184.4L580.9 185.1L580.1 185.8L579.5 185.5L578.1 184.1L577.1 183.5L576.7 183.8L576.2 184.0L576.3 185.2L576.9 187.1L576.7 187.8L575.8 188.1L575.2 187.8L573.9 186.2L573.0 185.3L572.4 185.5L571.9 185.6L571.8 186.6L572.1 188.5L571.9 189.1L570.8 189.1L570.2 188.7L569.0 186.9L568.2 185.9L567.6 185.9L566.9 185.9L566.7 186.8L566.7 188.6L566.4 189.0L565.3 188.8L564.7 188.2L563.7 186.3L562.9 185.2L562.3 185.1L561.6 184.9L561.3 185.7L561.0 187.2L560.6 187.6L559.4 187.1L558.9 186.4L558.1 184.5L557.4 183.3L556.7 183.0L556.1 182.7L555.5 183.3L555.0 184.6L554.6 184.8L553.3 184.1L552.9 183.4L552.3 181.4L551.8 180.2L551.1 179.8L550.4 179.3L549.8 179.7L549.0 180.8L548.5 180.8L547.3 179.9L546.9 179.1L546.5 177.2L546.2 176.0L545.5 175.4L544.8 174.8L544.1 175.1L543.1 175.8L542.5 175.7L541.4 174.6L541.1 173.8L541.0 172.0L540.8 170.8L540.1 170.2L539.5 169.5L538.7 169.5L537.5 169.9L536.9 169.7L535.8 168.3L535.6 167.6L535.8 166.0L535.8 164.8L535.2 164.1L534.6 163.3L533.7 163.1L532.4 163.2L531.8 162.8L530.8 161.4L530.7 160.6L531.2 159.3L531.3 158.2L530.8 157.4L530.3 156.6L529.4 156.1L527.9 155.9L527.3 155.4L526.5 153.9L526.5 153.2L527.2 152.1L527.5 151.2L527.1 150.3L526.7 149.4L525.7 148.8L524.2 148.3L523.7 147.7L523.0 146.1L523.1 145.5L524.1 144.7L524.5 143.9L524.2 143.0L523.9 142.2L522.9 141.4L521.4 140.5L520.9 139.8L520.5 138.3L520.7 137.7L521.8 137.2L522.3 136.7L522.1 135.8L522.0 134.9L521.1 134.0L519.6 132.8L519.1 132.1L518.9 130.6L519.2 130.1L520.5 130.0L521.1 129.6L521.1 128.8L521.0 128.0L520.2 126.9L518.8 125.5L518.4 124.7L518.3 123.3L518.7 123.0L520.1 123.2L520.9 123.0L521.0 122.3L521.0 121.5L520.3 120.4L519.0 118.8L518.7 118.0L518.9 116.7L519.3 116.5L520.8 117.0L521.7 117.1L521.8 116.4L522.0 115.8L521.4 114.6L520.3 112.8L520.1 112.0L520.5 110.9L521.0 110.8L522.5 111.7L523.4 112.0L523.7 111.4L524.0 110.9L523.5 109.7L522.5 107.7L522.4 107.0L523.0 106.1L523.6 106.2L525.1 107.3L526.1 107.8L526.4 107.4L526.8 107.0L526.5 105.8L525.8 103.8L525.8 103.1L526.5 102.5L527.1 102.7L528.6 104.1L529.5 104.8Z" fill="#f3f3f3" stroke="none"/>
<path d="M529.1 105.0L529.5 104.8L529.4 103.6L528.9 101.7L529.0 101.0L529.9 100.7L530.5 101.0L531.9 102.6L532.8 103.5L533.3 103.3L533.9 103.2L533.9 102.1L533.7 100.3L533.9 99.7L534.9 99.6L535.5 100.1L536.7 101.9L537.6 102.9L538.2 102.9L538.8 102.9L539.0 102.0L539.0 100.2L539.3 99.8L540.4 100.0L541.0 100.5L542.0 102.4L542.8 103.5L543.5 103.7L544.1 103.9L544.5 103.1L544.7 101.5L545.1 101.2L546.3 101.7L546.9 102.3L547.7 104.3L548.3 105.5L549.0 105.8L549.7 106.1L550.2 105.5L550.7 104.2L551.2 104.0L552.4 104.7L552.9 105.4L553.5 107.3L554.0 108.6L554.7 109.0L555.3 109.5L556.0 109.1L556.7 108.0L557.3 108.0L558.5 108.9L558.9 109.7L559.2 111.5L559.6 112.8L560.3 113.3L560.9 113.9L561.7 113.7L562.6 113.0L563.2 113.1L564.4 114.2L564.7 115.0L564.7 116.8L565.0 118.0L565.6 118.6L566.2 119.3L567.1 119.3L568.2 118.9L568.8 119.1L569.9 120.4L570.1 121.2L569.9 122.8L570.0 123.9L570.6 124.7L571.1 125.5L572.0 125.7L573.3 125.6L573.9 126.0L574.9 127.4L575.0 128.2L574.5 129.5L574.5 130.6L574.9 131.4L575.4 132.2L576.4 132.6L577.8 132.9L578.4 133.4L579.2 134.9L579.2 135.6L578.5 136.7L578.3 137.6L578.7 138.5L579.1 139.3L580.0 140.0L581.5 140.5L582.1 141.1L582.7 142.7L582.6 143.3L581.7 144.1L581.3 144.9L581.6 145.7L581.9 146.6L582.8 147.4L584.3 148.3L584.9 149.0L585.3 150.5L585.1 151.1L584.0 151.6L583.4 152.1L583.6 153.0L583.8 153.8L584.7 154.8L586.2 156.0L586.6 156.7L586.9 158.2L586.6 158.6L585.3 158.8L584.6 159.2L584.7 160.0L584.7 160.8L585.6 161.8L587.0 163.3L587.4 164.1L587.4 165.5L587.0 165.8L585.6 165.6L584.8 165.7L584.8 166.5L584.7 167.2L585.4 168.4L586.8 170.0L587.1 170.8L586.9 172.1L586.4 172.3L584.9 171.7L584.1 171.7L583.9 172.3L583.7 173.0L584.3 174.2L585.5 176.0L585.7 176.8L585.3 177.9L584.8 177.9L583.3 177.1L582.3 176.8L582.1 177.4L581.8 177.9L582.2 179.1L583.2 181.0L583.3 181.8L582.7 182.7L582.1 182.6L580.6 181.4L579.7 181.0L579.3 181.4L578.9 181.8L579.2 183.0L580.0 185.0L580.0 185.7L579.2 186.3L578.6 186.1L577.2 184.7L576.2 184.0L575.8 184.3L575.3 184.6L575.4 185.7L575.9 187.7L575.8 188.3L574.9 188.7L574.3 188.3L573.0 186.7L572.0 185.9L571.5 186.0L570.9 186.1L570.9 187.2L571.2 189.0L571.0 189.6L569.9 189.7L569.3 189.2L568.1 187.4L567.3 186.5L566.6 186.4L566.0 186.4L565.8 187.4L565.8 189.1L565.5 189.5L564.4 189.3L563.8 188.8L562.8 186.9L562.0 185.8L561.4 185.6L560.7 185.4L560.3 186.2L560.1 187.8L559.7 188.1L558.5 187.6L558.0 187.0L557.2 185.0L556.5 183.9L555.8 183.6L555.1 183.2L554.6 183.8L554.1 185.2L553.6 185.3L552.4 184.6L551.9 183.9L551.4 182.0L550.8 180.8L550.2 180.3L549.5 179.8L548.8 180.3L548.1 181.3L547.6 181.4L546.3 180.4L545.9 179.7L545.6 177.8L545.2 176.5L544.6 176.0L543.9 175.4L543.2 175.6L542.2 176.4L541.6 176.3L540.5 175.1L540.1 174.3L540.1 172.6L539.8 171.4L539.2 170.7L538.6 170.0L537.8 170.0L536.6 170.4L536.0 170.2L534.9 168.9L534.7 168.1L534.9 166.5L534.8 165.4L534.3 164.6L533.7 163.8L532.8 163.6L531.5 163.7L530.9 163.4L529.9 161.9L529.8 161.2L530.3 159.8L530.4 158.8L529.9 157.9L529.4 157.1L528.5 156.7L527.0 156.4L526.4 156.0L525.6 154.4L525.6 153.7L526.3 152.6L526.6 151.7L526.2 150.9L525.8 150.0L524.8 149.4L523.3 148.8L522.7 148.2L522.1 146.6L522.2 146.0L523.2 145.2L523.6 144.5L523.3 143.6L523.0 142.7L522.0 141.9L520.5 141.0L520.0 140.4L519.5 138.8L519.7 138.2L520.9 137.8L521.4 137.2L521.2 136.3L521.0 135.5L520.2 134.5L518.7 133.4L518.2 132.6L518.0 131.1L518.3 130.7L519.5 130.5L520.2 130.2L520.1 129.4L520.1 128.5L519.3 127.5L517.9 126.0L517.4 125.3L517.4 123.9L517.8 123.5L519.2 123.7L520.0 123.6L520.0 122.8L520.1 122.1L519.4 120.9L518.1 119.3L517.8 118.5L518.0 117.2L518.4 117.0L519.9 117.6L520.8 117.6L520.9 117.0L521.1 116.3L520.5 115.1L519.4 113.3L519.1 112.5L519.5 111.4L520.1 111.4L521.6 112.2L522.5 112.5L522.8 112.0L523.1 111.4L522.6 110.2L521.6 108.3L521.5 107.5L522.1 106.7L522.7 106.7L524.2 107.9L525.1 108.4L525.5 107.9L525.9 107.5L525.6 106.3L524.8 104.4L524.8 103.7L525.6 103.0L526.2 103.2L527.7 104.6L528.6 105.3Z" fill="#f3f3f3" stroke="none"/>
<path d="M528.2 105.6L528.6 105.3L528.5 104.1L528.0 102.2L528.1 101.6L529.0 101.2L529.6 101.5L531.0 103.2L531.9 104.0L532.4 103.9L533.0 103.7L533.0 102.7L532.7 100.8L533.0 100.3L534.0 100.2L534.6 100.6L535.8 102.4L536.7 103.4L537.3 103.4L537.9 103.4L538.1 102.5L538.1 100.8L538.4 100.3L539.5 100.5L540.1 101.1L541.1 103.0L541.9 104.1L542.5 104.2L543.2 104.4L543.6 103.6L543.8 102.1L544.2 101.8L545.4 102.2L546.0 102.9L546.8 104.8L547.4 106.0L548.1 106.3L548.8 106.6L549.3 106.0L549.8 104.7L550.3 104.5L551.5 105.2L552.0 105.9L552.5 107.9L553.1 109.1L553.8 109.6L554.4 110.0L555.1 109.6L555.8 108.5L556.4 108.5L557.6 109.4L558.0 110.2L558.3 112.1L558.7 113.3L559.3 113.9L560.0 114.5L560.8 114.3L561.7 113.5L562.3 113.6L563.5 114.7L563.8 115.5L563.8 117.3L564.1 118.5L564.7 119.2L565.3 119.9L566.2 119.9L567.3 119.4L567.9 119.7L569.0 121.0L569.2 121.8L569.0 123.3L569.1 124.5L569.6 125.2L570.2 126.0L571.1 126.2L572.4 126.1L573.0 126.5L574.0 127.9L574.1 128.7L573.6 130.1L573.5 131.1L574.0 131.9L574.5 132.8L575.5 133.2L576.9 133.4L577.5 133.9L578.3 135.4L578.3 136.1L577.6 137.2L577.3 138.1L577.7 139.0L578.1 139.9L579.1 140.5L580.6 141.1L581.2 141.7L581.8 143.2L581.7 143.9L580.8 144.7L580.4 145.4L580.7 146.3L581.0 147.2L581.9 147.9L583.4 148.8L583.9 149.5L584.4 151.1L584.2 151.6L583.0 152.1L582.5 152.7L582.7 153.5L582.9 154.4L583.7 155.3L585.2 156.5L585.7 157.2L586.0 158.7L585.7 159.2L584.4 159.3L583.7 159.7L583.8 160.5L583.8 161.3L584.6 162.4L586.1 163.8L586.5 164.6L586.5 166.0L586.1 166.3L584.7 166.1L583.9 166.3L583.9 167.0L583.8 167.8L584.5 168.9L585.8 170.6L586.1 171.4L586.0 172.6L585.5 172.8L584.0 172.3L583.1 172.2L583.0 172.9L582.8 173.5L583.4 174.7L584.6 176.5L584.8 177.3L584.4 178.4L583.9 178.5L582.3 177.6L581.4 177.4L581.1 177.9L580.9 178.4L581.3 179.7L582.3 181.6L582.4 182.3L581.8 183.2L581.2 183.1L579.7 182.0L578.8 181.5L578.4 181.9L578.0 182.3L578.3 183.5L579.1 185.5L579.1 186.2L578.3 186.8L577.7 186.6L576.3 185.2L575.3 184.5L574.8 184.8L574.4 185.1L574.5 186.3L575.0 188.2L574.9 188.8L574.0 189.2L573.4 188.9L572.0 187.2L571.1 186.4L570.6 186.5L570.0 186.7L570.0 187.7L570.3 189.6L570.0 190.1L569.0 190.2L568.4 189.8L567.2 188.0L566.3 187.0L565.7 187.0L565.1 187.0L564.9 187.9L564.9 189.6L564.6 190.1L563.5 189.9L562.9 189.3L561.9 187.4L561.1 186.3L560.5 186.2L559.8 186.0L559.4 186.8L559.2 188.3L558.8 188.6L557.6 188.2L557.0 187.5L556.2 185.6L555.6 184.4L554.9 184.1L554.2 183.8L553.7 184.4L553.2 185.7L552.7 185.9L551.5 185.2L551.0 184.5L550.5 182.5L549.9 181.3L549.2 180.8L548.6 180.4L547.9 180.8L547.2 181.9L546.6 181.9L545.4 181.0L545.0 180.2L544.7 178.3L544.3 177.1L543.7 176.5L543.0 175.9L542.2 176.1L541.3 176.9L540.7 176.8L539.5 175.7L539.2 174.9L539.2 173.1L538.9 171.9L538.3 171.2L537.7 170.5L536.8 170.5L535.7 171.0L535.1 170.7L534.0 169.4L533.8 168.6L534.0 167.1L533.9 165.9L533.4 165.2L532.8 164.4L531.9 164.2L530.6 164.3L530.0 163.9L529.0 162.5L528.9 161.7L529.4 160.3L529.5 159.3L529.0 158.5L528.5 157.6L527.5 157.2L526.1 157.0L525.5 156.5L524.7 155.0L524.7 154.3L525.4 153.2L525.7 152.3L525.3 151.4L524.9 150.5L523.9 149.9L522.4 149.3L521.8 148.7L521.2 147.2L521.3 146.5L522.2 145.7L522.6 145.0L522.3 144.1L522.0 143.2L521.1 142.5L519.6 141.6L519.1 140.9L518.6 139.3L518.8 138.8L520.0 138.3L520.5 137.7L520.3 136.9L520.1 136.0L519.3 135.1L517.8 133.9L517.3 133.2L517.0 131.7L517.3 131.2L518.6 131.1L519.3 130.7L519.2 129.9L519.2 129.1L518.4 128.0L516.9 126.6L516.5 125.8L516.5 124.4L516.9 124.1L518.3 124.3L519.1 124.1L519.1 123.4L519.2 122.6L518.5 121.5L517.2 119.8L516.9 119.0L517.0 117.8L517.5 117.6L519.0 118.1L519.9 118.2L520.0 117.5L520.2 116.9L519.6 115.7L518.4 113.9L518.2 113.1L518.6 112.0L519.1 111.9L520.7 112.8L521.6 113.0L521.9 112.5L522.1 112.0L521.7 110.7L520.7 108.8L520.6 108.1L521.2 107.2L521.8 107.3L523.3 108.4L524.2 108.9L524.6 108.5L525.0 108.1L524.7 106.9L523.9 104.9L523.9 104.2L524.7 103.6L525.3 103.8L526.7 105.2L527.7 105.9Z" fill="#f3f3f3" stroke="none"/>
<path d="M535.5 101.3L536.0 101.0L535.8 99.8L535.3 97.9L535.4 97.3L536.3 96.9L536.9 97.2L538.3 98.9L539.2 99.7L539.7 99.5L540.3 99.4L540.3 98.4L540.1 96.5L540.3 96.0L541.3 95.9L541.9 96.3L543.1 98.1L544.0 99.1L544.6 99.1L545.2 99.1L545.4 98.2L545.4 96.5L545.7 96.0L546.8 96.2L547.4 96.8L548.4 98.7L549.2 99.8L549.9 99.9L550.5 100.1L550.9 99.3L551.1 97.8L551.5 97.5L552.7 97.9L553.3 98.6L554.1 100.5L554.7 101.7L555.4 102.0L556.1 102.3L556.6 101.7L557.1 100.4L557.6 100.2L558.8 100.9L559.3 101.6L559.9 103.6L560.4 104.8L561.1 105.2L561.8 105.7L562.4 105.3L563.2 104.2L563.7 104.2L564.9 105.1L565.3 105.9L565.6 107.8L566.0 109.0L566.7 109.6L567.3 110.2L568.1 109.9L569.0 109.2L569.6 109.3L570.8 110.4L571.1 111.2L571.1 113.0L571.4 114.2L572.0 114.9L572.6 115.5L573.5 115.6L574.6 115.1L575.2 115.3L576.3 116.7L576.5 117.5L576.3 119.0L576.4 120.2L577.0 120.9L577.5 121.7L578.4 121.9L579.7 121.8L580.4 122.2L581.3 123.6L581.4 124.4L581.0 125.8L580.9 126.8L581.4 127.6L581.8 128.4L582.8 128.9L584.2 129.1L584.8 129.6L585.6 131.1L585.6 131.8L584.9 132.9L584.7 133.8L585.1 134.7L585.5 135.6L586.4 136.2L587.9 136.8L588.5 137.3L589.1 138.9L589.0 139.6L588.1 140.4L587.7 141.1L588.0 142.0L588.3 142.8L589.2 143.6L590.7 144.5L591.3 145.2L591.7 146.8L591.5 147.3L590.4 147.8L589.8 148.3L590.0 149.2L590.2 150.1L591.1 151.0L592.6 152.2L593.0 152.9L593.3 154.4L593.0 154.9L591.7 155.0L591.0 155.4L591.1 156.2L591.2 157.0L592.0 158.1L593.4 159.5L593.8 160.3L593.8 161.7L593.4 162.0L592.0 161.8L591.2 162.0L591.2 162.7L591.1 163.5L591.8 164.6L593.2 166.3L593.5 167.0L593.3 168.3L592.8 168.5L591.3 168.0L590.5 167.9L590.3 168.6L590.1 169.2L590.7 170.4L591.9 172.2L592.1 173.0L591.7 174.1L591.2 174.2L589.7 173.3L588.7 173.0L588.5 173.6L588.2 174.1L588.6 175.4L589.6 177.3L589.7 178.0L589.1 178.9L588.6 178.8L587.1 177.7L586.1 177.2L585.7 177.6L585.3 178.0L585.6 179.2L586.4 181.2L586.4 181.9L585.6 182.5L585.0 182.3L583.6 180.9L582.6 180.2L582.2 180.5L581.7 180.8L581.8 181.9L582.3 183.9L582.2 184.5L581.3 184.9L580.7 184.5L579.4 182.9L578.4 182.1L577.9 182.2L577.3 182.3L577.3 183.4L577.6 185.3L577.4 185.8L576.3 185.9L575.7 185.4L574.5 183.7L573.7 182.7L573.1 182.7L572.4 182.6L572.2 183.6L572.2 185.3L571.9 185.7L570.8 185.6L570.2 185.0L569.2 183.1L568.4 182.0L567.8 181.8L567.1 181.7L566.8 182.5L566.5 184.0L566.1 184.3L564.9 183.9L564.4 183.2L563.6 181.3L562.9 180.1L562.2 179.8L561.5 179.5L561.0 180.1L560.5 181.4L560.1 181.6L558.8 180.9L558.3 180.1L557.8 178.2L557.2 177.0L556.6 176.5L555.9 176.1L555.2 176.5L554.5 177.5L554.0 177.6L552.8 176.6L552.3 175.9L552.0 174.0L551.6 172.8L551.0 172.2L550.3 171.6L549.6 171.8L548.6 172.6L548.0 172.5L546.9 171.3L546.5 170.6L546.5 168.8L546.3 167.6L545.6 166.9L545.0 166.2L544.2 166.2L543.0 166.7L542.4 166.4L541.3 165.1L541.1 164.3L541.3 162.7L541.3 161.6L540.7 160.8L540.1 160.1L539.2 159.9L537.9 159.9L537.3 159.6L536.3 158.1L536.2 157.4L536.7 156.0L536.8 155.0L536.3 154.2L535.8 153.3L534.9 152.9L533.4 152.7L532.8 152.2L532.0 150.7L532.0 149.9L532.7 148.8L533.0 147.9L532.6 147.1L532.2 146.2L531.2 145.6L529.7 145.0L529.2 144.4L528.5 142.9L528.6 142.2L529.6 141.4L530.0 140.7L529.7 139.8L529.4 138.9L528.4 138.1L526.9 137.2L526.4 136.6L525.9 135.0L526.1 134.5L527.3 134.0L527.8 133.4L527.6 132.6L527.5 131.7L526.6 130.8L525.1 129.6L524.6 128.9L524.4 127.3L524.7 126.9L526.0 126.8L526.6 126.4L526.6 125.6L526.5 124.8L525.7 123.7L524.3 122.3L523.9 121.5L523.8 120.1L524.2 119.8L525.6 120.0L526.4 119.8L526.5 119.1L526.5 118.3L525.8 117.2L524.5 115.5L524.2 114.7L524.4 113.5L524.8 113.3L526.3 113.8L527.2 113.9L527.3 113.2L527.5 112.5L526.9 111.3L525.8 109.5L525.5 108.7L525.9 107.7L526.5 107.6L528.0 108.5L528.9 108.7L529.2 108.2L529.5 107.6L529.0 106.4L528.0 104.5L527.9 103.7L528.5 102.9L529.1 103.0L530.6 104.1L531.5 104.6L531.9 104.2L532.3 103.7L532.0 102.5L531.3 100.6L531.2 99.9L532.0 99.3L532.6 99.5L534.1 100.9L535.0 101.5Z" fill="none" stroke="#5a5a5a" stroke-width="0.7"/>
<path d="M528.2 105.6L535.5 101.3" stroke="#a9a9a9" stroke-width="1.5" fill="none"/>
<path d="M527.9 101.6L535.2 97.3" stroke="#777" stroke-width="0.45" fill="none"/>
<path d="M529.2 101.1L536.5 96.8" stroke="#777" stroke-width="0.45" fill="none"/>
<path d="M532.4 103.9L539.7 99.5" stroke="#a9a9a9" stroke-width="1.5" fill="none"/>
<path d="M532.7 100.3L540.1 96.0" stroke="#777" stroke-width="0.45" fill="none"/>
<path d="M534.2 100.2L541.5 95.8" stroke="#777" stroke-width="0.45" fill="none"/>
<path d="M537.3 103.4L544.6 99.1" stroke="#a9a9a9" stroke-width="1.5" fill="none"/>
<path d="M538.2 100.3L545.5 96.0" stroke="#777" stroke-width="0.45" fill="none"/>
<path d="M539.8 100.6L547.1 96.2" stroke="#777" stroke-width="0.45" fill="none"/>
<path d="M542.5 104.2L549.9 99.9" stroke="#a9a9a9" stroke-width="1.5" fill="none"/>
<path d="M544.0 101.7L551.3 97.4" stroke="#777" stroke-width="0.45" fill="none"/>
<path d="M545.7 102.3L553.0 98.0" stroke="#777" stroke-width="0.45" fill="none"/>
<path d="M548.1 106.3L555.4 102.0" stroke="#a9a9a9" stroke-width="1.5" fill="none"/>
<path d="M550.0 104.4L557.3 100.1" stroke="#777" stroke-width="0.45" fill="none"/>
<path d="M551.7 105.4L559.1 101.0" stroke="#777" stroke-width="0.45" fill="none"/>
<path d="M553.8 109.6L561.1 105.2" stroke="#a9a9a9" stroke-width="1.5" fill="none"/>
<path d="M556.1 108.3L563.4 104.0" stroke="#777" stroke-width="0.45" fill="none"/>
<path d="M557.8 109.6L565.1 105.3" stroke="#777" stroke-width="0.45" fill="none"/>
<path d="M559.3 113.9L566.7 109.6" stroke="#a9a9a9" stroke-width="1.5" fill="none"/>
<path d="M562.1 113.4L569.4 109.1" stroke="#777" stroke-width="0.45" fill="none"/>
<path d="M563.7 115.0L571.0 110.7" stroke="#777" stroke-width="0.45" fill="none"/>
<path d="M564.7 119.2L572.0 114.9" stroke="#a9a9a9" stroke-width="1.5" fill="none"/>
<path d="M567.7 119.4L575.0 115.1" stroke="#777" stroke-width="0.45" fill="none"/>
<path d="M569.2 121.2L576.5 116.9" stroke="#777" stroke-width="0.45" fill="none"/>
<path d="M569.6 125.2L577.0 120.9" stroke="#a9a9a9" stroke-width="1.5" fill="none"/>
<path d="M572.8 126.2L580.2 121.9" stroke="#777" stroke-width="0.45" fill="none"/>
<path d="M574.2 128.2L581.5 123.9" stroke="#777" stroke-width="0.45" fill="none"/>
<path d="M574.0 131.9L581.4 127.6" stroke="#a9a9a9" stroke-width="1.5" fill="none"/>
<path d="M577.3 133.6L584.7 129.3" stroke="#777" stroke-width="0.45" fill="none"/>
<path d="M578.5 135.7L585.8 131.4" stroke="#777" stroke-width="0.45" fill="none"/>
<path d="M577.7 139.0L585.1 134.7" stroke="#a9a9a9" stroke-width="1.5" fill="none"/>
<path d="M581.0 141.3L588.4 137.0" stroke="#777" stroke-width="0.45" fill="none"/>
<path d="M581.9 143.5L589.2 139.2" stroke="#777" stroke-width="0.45" fill="none"/>
<path d="M580.7 146.3L588.0 142.0" stroke="#a9a9a9" stroke-width="1.5" fill="none"/>
<path d="M583.8 149.2L591.2 144.9" stroke="#777" stroke-width="0.45" fill="none"/>
<path d="M584.5 151.4L591.8 147.1" stroke="#777" stroke-width="0.45" fill="none"/>
<path d="M582.7 153.5L590.0 149.2" stroke="#a9a9a9" stroke-width="1.5" fill="none"/>
<path d="M585.7 156.9L593.0 152.6" stroke="#777" stroke-width="0.45" fill="none"/>
<path d="M586.0 159.0L593.3 154.7" stroke="#777" stroke-width="0.45" fill="none"/>
<path d="M583.8 160.5L591.1 156.2" stroke="#a9a9a9" stroke-width="1.5" fill="none"/>
<path d="M586.5 164.3L593.8 160.0" stroke="#777" stroke-width="0.45" fill="none"/>
<path d="M586.5 166.3L593.8 162.0" stroke="#777" stroke-width="0.45" fill="none"/>
<path d="M583.9 167.0L591.2 162.7" stroke="#a9a9a9" stroke-width="1.5" fill="none"/>
<path d="M586.2 171.1L593.5 166.8" stroke="#777" stroke-width="0.45" fill="none"/>
<path d="M585.9 172.9L593.2 168.6" stroke="#777" stroke-width="0.45" fill="none"/>
<path d="M583.0 172.9L590.3 168.6" stroke="#a9a9a9" stroke-width="1.5" fill="none"/>
<path d="M584.9 177.1L592.2 172.8" stroke="#777" stroke-width="0.45" fill="none"/>
<path d="M584.3 178.6L591.6 174.3" stroke="#777" stroke-width="0.45" fill="none"/>
<path d="M581.1 177.9L588.5 173.6" stroke="#a9a9a9" stroke-width="1.5" fill="none"/>
<path d="M582.5 182.2L589.8 177.8" stroke="#777" stroke-width="0.45" fill="none"/>
<path d="M581.7 183.4L589.0 179.1" stroke="#777" stroke-width="0.45" fill="none"/>
<path d="M578.4 181.9L585.7 177.6" stroke="#a9a9a9" stroke-width="1.5" fill="none"/>
<path d="M579.2 186.1L586.5 181.8" stroke="#777" stroke-width="0.45" fill="none"/>
<path d="M578.1 187.0L585.5 182.6" stroke="#777" stroke-width="0.45" fill="none"/>
<path d="M574.8 184.8L582.2 180.5" stroke="#a9a9a9" stroke-width="1.5" fill="none"/>
<path d="M575.1 188.8L582.4 184.4" stroke="#777" stroke-width="0.45" fill="none"/>
<path d="M573.8 189.3L581.1 185.0" stroke="#777" stroke-width="0.45" fill="none"/>
<path d="M528.2 105.6L528.6 105.3L528.5 104.1L528.0 102.2L528.1 101.6L529.0 101.2L529.6 101.5L531.0 103.2L531.9 104.0L532.4 103.9L533.0 103.7L533.0 102.7L532.7 100.8L533.0 100.3L534.0 100.2L534.6 100.6L535.8 102.4L536.7 103.4L537.3 103.4L537.9 103.4L538.1 102.5L538.1 100.8L538.4 100.3L539.5 100.5L540.1 101.1L541.1 103.0L541.9 104.1L542.5 104.2L543.2 104.4L543.6 103.6L543.8 102.1L544.2 101.8L545.4 102.2L546.0 102.9L546.8 104.8L547.4 106.0L548.1 106.3L548.8 106.6L549.3 106.0L549.8 104.7L550.3 104.5L551.5 105.2L552.0 105.9L552.5 107.9L553.1 109.1L553.8 109.6L554.4 110.0L555.1 109.6L555.8 108.5L556.4 108.5L557.6 109.4L558.0 110.2L558.3 112.1L558.7 113.3L559.3 113.9L560.0 114.5L560.8 114.3L561.7 113.5L562.3 113.6L563.5 114.7L563.8 115.5L563.8 117.3L564.1 118.5L564.7 119.2L565.3 119.9L566.2 119.9L567.3 119.4L567.9 119.7L569.0 121.0L569.2 121.8L569.0 123.3L569.1 124.5L569.6 125.2L570.2 126.0L571.1 126.2L572.4 126.1L573.0 126.5L574.0 127.9L574.1 128.7L573.6 130.1L573.5 131.1L574.0 131.9L574.5 132.8L575.5 133.2L576.9 133.4L577.5 133.9L578.3 135.4L578.3 136.1L577.6 137.2L577.3 138.1L577.7 139.0L578.1 139.9L579.1 140.5L580.6 141.1L581.2 141.7L581.8 143.2L581.7 143.9L580.8 144.7L580.4 145.4L580.7 146.3L581.0 147.2L581.9 147.9L583.4 148.8L583.9 149.5L584.4 151.1L584.2 151.6L583.0 152.1L582.5 152.7L582.7 153.5L582.9 154.4L583.7 155.3L585.2 156.5L585.7 157.2L586.0 158.7L585.7 159.2L584.4 159.3L583.7 159.7L583.8 160.5L583.8 161.3L584.6 162.4L586.1 163.8L586.5 164.6L586.5 166.0L586.1 166.3L584.7 166.1L583.9 166.3L583.9 167.0L583.8 167.8L584.5 168.9L585.8 170.6L586.1 171.4L586.0 172.6L585.5 172.8L584.0 172.3L583.1 172.2L583.0 172.9L582.8 173.5L583.4 174.7L584.6 176.5L584.8 177.3L584.4 178.4L583.9 178.5L582.3 177.6L581.4 177.4L581.1 177.9L580.9 178.4L581.3 179.7L582.3 181.6L582.4 182.3L581.8 183.2L581.2 183.1L579.7 182.0L578.8 181.5L578.4 181.9L578.0 182.3L578.3 183.5L579.1 185.5L579.1 186.2L578.3 186.8L577.7 186.6L576.3 185.2L575.3 184.5L574.8 184.8L574.4 185.1L574.5 186.3L575.0 188.2L574.9 188.8L574.0 189.2L573.4 188.9L572.0 187.2L571.1 186.4L570.6 186.5L570.0 186.7L570.0 187.7L570.3 189.6L570.0 190.1L569.0 190.2L568.4 189.8L567.2 188.0L566.3 187.0L565.7 187.0L565.1 187.0L564.9 187.9L564.9 189.6L564.6 190.1L563.5 189.9L562.9 189.3L561.9 187.4L561.1 186.3L560.5 186.2L559.8 186.0L559.4 186.8L559.2 188.3L558.8 188.6L557.6 188.2L557.0 187.5L556.2 185.6L555.6 184.4L554.9 184.1L554.2 183.8L553.7 184.4L553.2 185.7L552.7 185.9L551.5 185.2L551.0 184.5L550.5 182.5L549.9 181.3L549.2 180.8L548.6 180.4L547.9 180.8L547.2 181.9L546.6 181.9L545.4 181.0L545.0 180.2L544.7 178.3L544.3 177.1L543.7 176.5L543.0 175.9L542.2 176.1L541.3 176.9L540.7 176.8L539.5 175.7L539.2 174.9L539.2 173.1L538.9 171.9L538.3 171.2L537.7 170.5L536.8 170.5L535.7 171.0L535.1 170.7L534.0 169.4L533.8 168.6L534.0 167.1L533.9 165.9L533.4 165.2L532.8 164.4L531.9 164.2L530.6 164.3L530.0 163.9L529.0 162.5L528.9 161.7L529.4 160.3L529.5 159.3L529.0 158.5L528.5 157.6L527.5 157.2L526.1 157.0L525.5 156.5L524.7 155.0L524.7 154.3L525.4 153.2L525.7 152.3L525.3 151.4L524.9 150.5L523.9 149.9L522.4 149.3L521.8 148.7L521.2 147.2L521.3 146.5L522.2 145.7L522.6 145.0L522.3 144.1L522.0 143.2L521.1 142.5L519.6 141.6L519.1 140.9L518.6 139.3L518.8 138.8L520.0 138.3L520.5 137.7L520.3 136.9L520.1 136.0L519.3 135.1L517.8 133.9L517.3 133.2L517.0 131.7L517.3 131.2L518.6 131.1L519.3 130.7L519.2 129.9L519.2 129.1L518.4 128.0L516.9 126.6L516.5 125.8L516.5 124.4L516.9 124.1L518.3 124.3L519.1 124.1L519.1 123.4L519.2 122.6L518.5 121.5L517.2 119.8L516.9 119.0L517.0 117.8L517.5 117.6L519.0 118.1L519.9 118.2L520.0 117.5L520.2 116.9L519.6 115.7L518.4 113.9L518.2 113.1L518.6 112.0L519.1 111.9L520.7 112.8L521.6 113.0L521.9 112.5L522.1 112.0L521.7 110.7L520.7 108.8L520.6 108.1L521.2 107.2L521.8 107.3L523.3 108.4L524.2 108.9L524.6 108.5L525.0 108.1L524.7 106.9L523.9 104.9L523.9 104.2L524.7 103.6L525.3 103.8L526.7 105.2L527.7 105.9Z" fill="#d3d3d3" stroke="#555" stroke-width="0.8"/>
<clipPath id="clip551"><path d="M542.8 130.5L544.2 129.9L545.8 129.7L547.6 129.8L549.4 130.4L551.3 131.3L553.2 132.5L555.0 134.1L556.8 135.9L558.4 138.0L559.9 140.3L561.1 142.6L562.2 145.1L562.9 147.5L563.4 149.9L563.6 152.1L563.5 154.2L563.0 156.1L562.4 157.7L561.4 159.0L560.2 159.9L558.8 160.5L557.2 160.7L555.4 160.6L553.6 160.0L551.7 159.1L549.8 157.9L548.0 156.3L546.2 154.5L544.6 152.4L543.1 150.1L541.9 147.8L540.8 145.3L540.1 142.9L539.6 140.5L539.4 138.3L539.5 136.2L540.0 134.3L540.6 132.7L541.6 131.4Z"/></clipPath>
<path d="M542.8 130.5L544.2 129.9L545.8 129.7L547.6 129.8L549.4 130.4L551.3 131.3L553.2 132.5L555.0 134.1L556.8 135.9L558.4 138.0L559.9 140.3L561.1 142.6L562.2 145.1L562.9 147.5L563.4 149.9L563.6 152.1L563.5 154.2L563.0 156.1L562.4 157.7L561.4 159.0L560.2 159.9L558.8 160.5L557.2 160.7L555.4 160.6L553.6 160.0L551.7 159.1L549.8 157.9L548.0 156.3L546.2 154.5L544.6 152.4L543.1 150.1L541.9 147.8L540.8 145.3L540.1 142.9L539.6 140.5L539.4 138.3L539.5 136.2L540.0 134.3L540.6 132.7L541.6 131.4Z" fill="#efefef" stroke="#555" stroke-width="0.9"/>
<path d="M547.4 127.8L548.8 127.2L550.4 127.0L552.1 127.1L553.9 127.7L555.8 128.6L557.7 129.9L559.6 131.4L561.3 133.3L563.0 135.3L564.4 137.6L565.7 140.0L566.7 142.4L567.5 144.8L567.9 147.2L568.1 149.5L568.0 151.6L567.6 153.4L566.9 155.0L565.9 156.3L564.7 157.3L563.3 157.9L561.7 158.1L560.0 157.9L558.1 157.4L556.3 156.4L554.4 155.2L552.5 153.6L550.8 151.8L549.1 149.7L547.7 147.5L546.4 145.1L545.4 142.7L544.6 140.2L544.2 137.9L544.0 135.6L544.1 133.5L544.5 131.6L545.2 130.0L546.2 128.7Z" fill="#fff" stroke="#666" stroke-width="0.7" clip-path="url(#clip551)"/>
<path d="M542.8 130.5L544.2 129.9L545.8 129.7L547.6 129.8L549.4 130.4L551.3 131.3L553.2 132.5L555.0 134.1L556.8 135.9L558.4 138.0L559.9 140.3L561.1 142.6L562.2 145.1L562.9 147.5L563.4 149.9L563.6 152.1L563.5 154.2L563.0 156.1L562.4 157.7L561.4 159.0L560.2 159.9L558.8 160.5L557.2 160.7L555.4 160.6L553.6 160.0L551.7 159.1L549.8 157.9L548.0 156.3L546.2 154.5L544.6 152.4L543.1 150.1L541.9 147.8L540.8 145.3L540.1 142.9L539.6 140.5L539.4 138.3L539.5 136.2L540.0 134.3L540.6 132.7L541.6 131.4Z" fill="none" stroke="#555" stroke-width="0.9"/>
<clipPath id="h537_120"><path d="M535.2 116.1L536.0 115.9L537.0 116.1L538.1 116.7L539.1 117.7L539.9 118.8L540.5 120.2L540.9 121.5L540.9 122.7L540.6 123.6L540.0 124.3L539.2 124.5L538.2 124.3L537.1 123.7L536.1 122.7L535.3 121.6L534.7 120.2L534.3 118.9L534.3 117.7L534.6 116.8Z"/></clipPath>
<path d="M535.2 116.1L536.0 115.9L537.0 116.1L538.1 116.7L539.1 117.7L539.9 118.8L540.5 120.2L540.9 121.5L540.9 122.7L540.6 123.6L540.0 124.3L539.2 124.5L538.2 124.3L537.1 123.7L536.1 122.7L535.3 121.6L534.7 120.2L534.3 118.9L534.3 117.7L534.6 116.8Z" fill="#ececec" stroke="#555" stroke-width="0.7"/>
<path d="M537.4 115.1L538.2 114.9L539.2 115.1L540.3 115.7L541.3 116.7L542.1 117.8L542.7 119.2L543.1 120.5L543.1 121.7L542.8 122.6L542.2 123.3L541.4 123.5L540.4 123.3L539.3 122.7L538.3 121.7L537.5 120.6L536.9 119.2L536.5 117.9L536.5 116.7L536.8 115.8Z" fill="#fff" stroke="#777" stroke-width="0.5" clip-path="url(#h537_120)"/>
<clipPath id="h565_170"><path d="M563.3 166.4L564.1 166.2L565.1 166.4L566.2 167.0L567.2 168.0L568.0 169.1L568.6 170.5L569.0 171.8L569.0 173.0L568.7 173.9L568.1 174.6L567.3 174.8L566.3 174.6L565.2 174.0L564.2 173.0L563.4 171.9L562.8 170.5L562.4 169.2L562.4 168.0L562.7 167.1Z"/></clipPath>
<path d="M563.3 166.4L564.1 166.2L565.1 166.4L566.2 167.0L567.2 168.0L568.0 169.1L568.6 170.5L569.0 171.8L569.0 173.0L568.7 173.9L568.1 174.6L567.3 174.8L566.3 174.6L565.2 174.0L564.2 173.0L563.4 171.9L562.8 170.5L562.4 169.2L562.4 168.0L562.7 167.1Z" fill="#ececec" stroke="#555" stroke-width="0.7"/>
<path d="M565.5 165.4L566.3 165.2L567.3 165.4L568.4 166.0L569.4 167.0L570.2 168.1L570.8 169.5L571.2 170.8L571.2 172.0L570.9 172.9L570.3 173.6L569.5 173.8L568.5 173.6L567.4 173.0L566.4 172.0L565.6 170.9L565.0 169.5L564.6 168.2L564.6 167.0L564.9 166.1Z" fill="#fff" stroke="#777" stroke-width="0.5" clip-path="url(#h565_170)"/>
<path d="M526.7 145.0L533.6 141.5L539.7 152.8L532.7 156.3Z" fill="#d9d9d9" stroke="#555" stroke-width="0.7"/>
<path d="M521.7 129.1l3 1.6M522.0 130.9l2.6 1.4" stroke="#333" stroke-width="1.3" fill="none"/>
<path d="M577.2 149.8l3 1.6M577.5 151.6l2.6 1.4" stroke="#333" stroke-width="1.3" fill="none"/>
<path d="M557.9 113.0l0.6 3.6m-1.2 0.2l1.8 -0.3" stroke="#111" stroke-width="1.1" fill="none"/>
<ellipse cx="558.9" cy="118.6" rx="1.1" ry="0.8" fill="none" stroke="#777" stroke-width="0.4"/>
<path d="M539.7 164.0l0.6 3.6m-1.2 0.2l1.8 -0.3" stroke="#111" stroke-width="1.1" fill="none"/>
<ellipse cx="540.7" cy="169.6" rx="1.1" ry="0.8" fill="none" stroke="#777" stroke-width="0.4"/>
</g>
<defs><linearGradient id="gBr" gradientUnits="userSpaceOnUse" x1="283" y1="115" x2="420" y2="185"><stop offset="0" stop-color="#d0d0d0"/><stop offset="0.25" stop-color="#e2e2e2"/><stop offset="0.6" stop-color="#dadada"/><stop offset="1" stop-color="#e6e6e6"/></linearGradient></defs>
<g id="bracket" stroke-linejoin="round" stroke-linecap="round">
<path d="M283.0 115.7L292.3 109.7L308.3 101.7L325.7 95.0L336.3 95.7L355.0 103.0L376.7 113.3L403.3 124.0L424.7 133.3L431.3 137.3L432.7 142.7L427.3 153.3L424.7 156.0L431.3 170.7L430.0 174.0L424.7 164.0L422.7 163.3L424.0 174.7L422.0 181.3L420.0 185.3L416.7 182.7L410.0 174.7L400.7 166.7L390.0 160.7L376.7 156.0L363.3 151.3L348.3 145.0L335.0 139.7L321.7 133.0L308.3 125.0L299.0 122.3L288.3 124.3L284.3 122.3Z" fill="#fbfbfb" stroke="#4a4a4a" stroke-width="0.8"/>
<path d="M283.0 116.0L295.0 111.7L304.3 113.7L313.7 111.0L315.0 117.0L317.7 121.0L328.3 124.3L335.0 129.0L339.0 123.7L344.3 123.0L360.3 130.3L361.0 137.5L382.0 146.7L383.3 141.3L390.0 139.3L396.7 142.7L394.0 149.3L402.0 152.7L407.3 148.7L411.3 150.7L404.7 158.7L408.7 162.7L419.3 154.7L424.7 156.0L422.7 163.3L424.0 174.7L422.0 181.3L420.0 185.3L416.7 182.7L410.0 174.7L400.7 166.7L390.0 160.7L376.7 156.0L363.3 151.3L348.3 145.0L335.0 139.7L321.7 133.0L308.3 125.0L299.0 122.3L288.3 124.3L284.3 122.3Z" fill="url(#gBr)" stroke="#4a4a4a" stroke-width="0.7"/>
<path d="M339 123.7L344.3 123L360.3 130.3L361 137.5L356 135.5L355.5 129.5L343 124.5L340 128Z" fill="#f4f4f4" stroke="none"/>
<path d="M383.3 141.3L390 139.3L396.7 142.7L394 149.3L390 147.5L391.5 143.5L388 142L385.5 145.5Z" fill="#f4f4f4" stroke="none"/>
<path d="M384 142L388 139.5L395 141L398 144L396.5 148L392.5 146.2L388.5 145.2L385 145Z" fill="#f7f7f7" stroke="#777" stroke-width="0.45"/>
<path d="M396.5 148L400.5 145L406 147.5L402 151Z" fill="#f7f7f7" stroke="#777" stroke-width="0.45"/>
<path d="M404 157L414 151.2L419.3 154.7L409 162Z" fill="#f4f4f4" stroke="#777" stroke-width="0.45"/>
<path d="M406.5 159.5L416.6 152.9" fill="none" stroke="#999" stroke-width="0.45"/>
<path d="M294 111L298.7 111.9L305.2 113.3L308.9 112.4L312.2 112.9L314.6 111.5L315.5 115.2L314.6 118L311 116L304 115.5L297 113.6Z" fill="#ededed" stroke="none"/>
<path d="M318.0 110.0L314.7 115.6L318.0 121.3L336.2 127.0L339.6 122.4L349.8 123.5L362.3 130.4L362.3 137.2L381.6 146.2L383.8 140.6L392.9 139.4L398.6 140.6" fill="none" stroke="#444" stroke-width="0.75"/>
<path d="M407.3 126C409 129 407 131.5 403.5 133C400 134.5 398.5 137 398.7 140.5" fill="none" stroke="#555" stroke-width="0.6"/>
<path d="M405.6 125.3C407 128.5 405 130.5 401.8 132C398.5 133.5 396.8 136 397 139.6" fill="none" stroke="#888" stroke-width="0.5"/>
<ellipse cx="325.5" cy="103.5" rx="8.6" ry="4.6" transform="rotate(-12 325.5 103.5)" fill="#f7f7f7" stroke="#555" stroke-width="0.6"/>
<path d="M318.5 107.5C322 110 330 109 333.5 105" fill="none" stroke="#999" stroke-width="0.5"/>
<path d="M300.5 110.2L305 107.2L310.5 108.6L306.5 111.8Z" fill="#fff" stroke="#555" stroke-width="0.55"/>
<path d="M310.5 108.6L316 106.2" fill="none" stroke="#555" stroke-width="0.55"/>
<path d="M336 98.5C341 98 344 99.5 349 102L405.5 125.2" fill="none" stroke="#666" stroke-width="0.55"/>
<ellipse cx="347.8" cy="107.8" rx="4.3" ry="2.1" transform="rotate(-8 347.8 107.8)" fill="#dcdcdc" stroke="#555" stroke-width="0.6"/>
<ellipse cx="335.2" cy="114.6" rx="4.3" ry="2.1" transform="rotate(-8 335.2 114.6)" fill="#dcdcdc" stroke="#555" stroke-width="0.6"/>
<ellipse cx="394.0" cy="127.8" rx="4.3" ry="2.1" transform="rotate(-8 394.0 127.8)" fill="#dcdcdc" stroke="#555" stroke-width="0.6"/>
<ellipse cx="381.8" cy="134.4" rx="4.3" ry="2.1" transform="rotate(-8 381.8 134.4)" fill="#dcdcdc" stroke="#555" stroke-width="0.6"/>
<ellipse cx="417.6" cy="141.2" rx="8.8" ry="4.3" transform="rotate(-10 417.6 141.2)" fill="#fff" stroke="#555" stroke-width="0.65"/>
<path d="M411.5 160.5L419.8 154.9M408.7 162.7L413 166.5L421 160.5M427.3 153.3L424.7 156" fill="none" stroke="#666" stroke-width="0.55"/>
<path d="M426.2 158.5L430.3 170.5M427.8 158L431.2 168" fill="none" stroke="#888" stroke-width="0.5"/>
<path d="M419 166.5L420.5 176M417.5 167L418.8 175M416 167.5L417 174" fill="none" stroke="#777" stroke-width="0.5"/>
<path d="M283.5 116.2L290.5 112.2L293.5 113" fill="none" stroke="#555" stroke-width="0.55"/>
</g>
<defs><linearGradient id="g4s" gradientUnits="userSpaceOnUse" x1="0" y1="255" x2="0" y2="565"><stop offset="0" stop-color="#f0f0f0"/><stop offset="0.2" stop-color="#e6e6e6"/><stop offset="0.45" stop-color="#d6d6d6"/><stop offset="0.75" stop-color="#c6c6c6"/><stop offset="1" stop-color="#c2c2c2"/></linearGradient></defs>
<g id="guide4" stroke-linejoin="round" stroke-linecap="round">
<path d="M246.3 267.3L248.3 276.7L255.0 291.3L261.7 306.0L268.3 320.7L272.0 330.0L280.0 346.0L285.6 362.0L288.8 378.0L292.8 397.2L299.2 413.2L304.0 429.2L306.4 442.0L309.2 458.7L310.1 486.6L310.1 514.6L307.3 522.1L304.5 531.4L306.4 542.6L312.9 550.1L321.3 551.9L321.3 559.4L325.0 565.0L333.4 566.9L339.0 561.3L334.4 559.4L336.2 542.6L338.1 514.6L338.1 486.6L333.5 458.7L330.0 440.0L327.2 426.0L321.6 402.0L315.2 378.0L307.2 354.0L296.3 332.7L289.7 318.0L281.7 302.0L272.3 286.0L261.7 272.7L251.0 263.3L252.3 262.0Z" fill="#e0e0e0" stroke="#444" stroke-width="0.8"/>
<path d="M264.3 255.3L271.0 257.3L279.0 267.3L288.3 282.0L296.3 296.7L304.3 312.7L312.3 330.0L320.0 354.0L329.6 378.0L337.6 402.0L343.2 426.0L345.5 440.0L348.4 458.7L351.2 486.6L351.2 514.6L348.4 542.6L344.6 557.5L339.0 561.3L334.4 559.4L334.4 559.4L336.2 542.6L338.1 514.6L338.1 486.6L333.5 458.7L330.0 440.0L327.2 426.0L321.6 402.0L315.2 378.0L307.2 354.0L296.3 332.7L289.7 318.0L281.7 302.0L272.3 286.0L261.7 272.7L251.0 263.3L252.3 262.0Z" fill="url(#g4s)" stroke="#444" stroke-width="0.8"/>
<path d="M251.0 263.3C252.8 264.9 258.1 268.9 261.7 272.7C265.2 276.5 269.0 281.1 272.3 286.0C275.6 290.9 278.8 296.7 281.7 302.0C284.6 307.3 287.3 312.9 289.7 318.0C292.1 323.1 293.4 326.7 296.3 332.7C299.2 338.7 304.1 346.4 307.2 354.0C310.3 361.6 312.8 370.0 315.2 378.0C317.6 386.0 319.6 394.0 321.6 402.0C323.6 410.0 325.8 419.7 327.2 426.0C328.6 432.3 328.9 434.6 330.0 440.0C331.1 445.4 332.1 450.9 333.5 458.7C334.9 466.5 337.3 477.3 338.1 486.6C338.9 495.9 338.4 505.3 338.1 514.6C337.8 523.9 336.8 535.1 336.2 542.6C335.6 550.1 334.7 556.6 334.4 559.4" fill="none" stroke="#333" stroke-width="1.5"/>
<path d="M251.0 263.3C252.8 264.9 258.1 268.9 261.7 272.7C265.2 276.5 269.0 281.1 272.3 286.0C275.6 290.9 278.8 296.7 281.7 302.0C284.6 307.3 287.3 312.9 289.7 318.0C292.1 323.1 293.4 326.7 296.3 332.7C299.2 338.7 304.1 346.4 307.2 354.0C310.3 361.6 312.8 370.0 315.2 378.0C317.6 386.0 319.6 394.0 321.6 402.0C323.6 410.0 325.8 419.7 327.2 426.0C328.6 432.3 328.9 434.6 330.0 440.0C331.1 445.4 332.1 450.9 333.5 458.7C334.9 466.5 337.3 477.3 338.1 486.6C338.9 495.9 338.4 505.3 338.1 514.6C337.8 523.9 336.8 535.1 336.2 542.6C335.6 550.1 334.7 556.6 334.4 559.4" fill="none" stroke="#ddd" stroke-width="0.5"/>
<path d="M251.0 263.3C252.8 264.9 258.1 268.9 261.7 272.7C265.2 276.5 269.0 281.1 272.3 286.0C275.6 290.9 278.8 296.7 281.7 302.0C284.6 307.3 287.3 312.9 289.7 318.0C292.1 323.1 293.4 326.7 296.3 332.7C299.2 338.7 304.1 346.4 307.2 354.0C310.3 361.6 312.8 370.0 315.2 378.0C317.6 386.0 319.6 394.0 321.6 402.0C323.6 410.0 325.8 419.7 327.2 426.0C328.6 432.3 328.9 434.6 330.0 440.0C331.1 445.4 332.1 450.9 333.5 458.7C334.9 466.5 337.3 477.3 338.1 486.6C338.9 495.9 338.4 505.3 338.1 514.6C337.8 523.9 336.5 537.9 336.2 542.6" fill="none" stroke="#777" stroke-width="0.5" transform="translate(2.6,-1)"/>
<path d="M271.0 257.3C272.3 259.0 276.1 263.2 279.0 267.3C281.9 271.4 285.4 277.1 288.3 282.0C291.2 286.9 293.6 291.6 296.3 296.7C299.0 301.8 301.6 307.1 304.3 312.7C307.0 318.2 309.7 323.1 312.3 330.0C314.9 336.9 317.1 346.0 320.0 354.0C322.9 362.0 326.7 370.0 329.6 378.0C332.5 386.0 335.3 394.0 337.6 402.0C339.9 410.0 341.9 419.7 343.2 426.0C344.5 432.3 344.6 434.6 345.5 440.0C346.4 445.4 347.4 450.9 348.4 458.7C349.3 466.5 350.7 477.3 351.2 486.6C351.7 495.9 351.7 505.3 351.2 514.6C350.7 523.9 348.9 537.9 348.4 542.6" fill="none" stroke="#333" stroke-width="1.1" stroke-dasharray="9 3"/>
<path d="M256.0 276.0L262.5 279.0L259.5 288.0Z" fill="#c9c9c9" stroke="#555" stroke-width="0.6"/>
<path d="M265.3 280.0L257.1 291.0L279.5 302.0Z" fill="#ebebeb" stroke="none"/>
<path d="M257.1 291.0L279.5 302.0L267.9 315.0Z" fill="#d2d2d2" stroke="none"/>
<path d="M279.5 302.0L267.9 315.0L291.5 327.0Z" fill="#ebebeb" stroke="none"/>
<path d="M267.9 315.0L291.5 327.0L279.2 340.0Z" fill="#d2d2d2" stroke="none"/>
<path d="M291.5 327.0L279.2 340.0L305.0 354.0Z" fill="#ebebeb" stroke="none"/>
<path d="M279.2 340.0L305.0 354.0L288.4 365.0Z" fill="#d2d2d2" stroke="none"/>
<path d="M305.0 354.0L288.4 365.0L313.8 381.0Z" fill="#ebebeb" stroke="none"/>
<path d="M288.4 365.0L313.8 381.0L293.7 391.0Z" fill="#d2d2d2" stroke="none"/>
<path d="M313.8 381.0L293.7 391.0L320.6 407.0Z" fill="#ebebeb" stroke="none"/>
<path d="M293.7 391.0L320.6 407.0L303.4 420.0Z" fill="#d2d2d2" stroke="none"/>
<path d="M320.6 407.0L303.4 420.0L327.6 439.0Z" fill="#ebebeb" stroke="none"/>
<path d="M303.4 420.0L327.6 439.0L310.3 452.0Z" fill="#d2d2d2" stroke="none"/>
<path d="M327.6 439.0L310.3 452.0L333.7 473.0Z" fill="#ebebeb" stroke="none"/>
<path d="M310.3 452.0L333.7 473.0L312.0 478.0Z" fill="#d2d2d2" stroke="none"/>
<path d="M333.7 473.0L312.0 478.0L335.9 501.0Z" fill="#ebebeb" stroke="none"/>
<path d="M312.0 478.0L335.9 501.0L312.3 504.0Z" fill="#d2d2d2" stroke="none"/>
<path d="M265.3 280.0L257.1 291.0" stroke="#555" stroke-width="2.4" fill="none" stroke-linecap="butt"/>
<path d="M265.3 280.0L257.1 291.0" stroke="#ededed" stroke-width="1.3" fill="none" stroke-linecap="butt"/>
<path d="M257.1 291.0L279.5 302.0" stroke="#5a5a5a" stroke-width="4.4" fill="none" stroke-linecap="butt"/>
<path d="M257.1 291.0L279.5 302.0" stroke="#fbfbfb" stroke-width="3.4" fill="none" stroke-linecap="butt"/>
<path d="M279.5 302.0L267.9 315.0" stroke="#555" stroke-width="2.4" fill="none" stroke-linecap="butt"/>
<path d="M279.5 302.0L267.9 315.0" stroke="#ededed" stroke-width="1.3" fill="none" stroke-linecap="butt"/>
<path d="M267.9 315.0L291.5 327.0" stroke="#5a5a5a" stroke-width="4.4" fill="none" stroke-linecap="butt"/>
<path d="M267.9 315.0L291.5 327.0" stroke="#fbfbfb" stroke-width="3.4" fill="none" stroke-linecap="butt"/>
<path d="M291.5 327.0L279.2 340.0" stroke="#555" stroke-width="2.4" fill="none" stroke-linecap="butt"/>
<path d="M291.5 327.0L279.2 340.0" stroke="#ededed" stroke-width="1.3" fill="none" stroke-linecap="butt"/>
<path d="M279.2 340.0L305.0 354.0" stroke="#5a5a5a" stroke-width="4.4" fill="none" stroke-linecap="butt"/>
<path d="M279.2 340.0L305.0 354.0" stroke="#fbfbfb" stroke-width="3.4" fill="none" stroke-linecap="butt"/>
<path d="M305.0 354.0L288.4 365.0" stroke="#555" stroke-width="2.4" fill="none" stroke-linecap="butt"/>
<path d="M305.0 354.0L288.4 365.0" stroke="#ededed" stroke-width="1.3" fill="none" stroke-linecap="butt"/>
<path d="M288.4 365.0L313.8 381.0" stroke="#5a5a5a" stroke-width="4.4" fill="none" stroke-linecap="butt"/>
<path d="M288.4 365.0L313.8 381.0" stroke="#fbfbfb" stroke-width="3.4" fill="none" stroke-linecap="butt"/>
<path d="M313.8 381.0L293.7 391.0" stroke="#555" stroke-width="2.4" fill="none" stroke-linecap="butt"/>
<path d="M313.8 381.0L293.7 391.0" stroke="#ededed" stroke-width="1.3" fill="none" stroke-linecap="butt"/>
<path d="M293.7 391.0L320.6 407.0" stroke="#5a5a5a" stroke-width="4.4" fill="none" stroke-linecap="butt"/>
<path d="M293.7 391.0L320.6 407.0" stroke="#fbfbfb" stroke-width="3.4" fill="none" stroke-linecap="butt"/>
<path d="M320.6 407.0L303.4 420.0" stroke="#555" stroke-width="2.4" fill="none" stroke-linecap="butt"/>
<path d="M320.6 407.0L303.4 420.0" stroke="#ededed" stroke-width="1.3" fill="none" stroke-linecap="butt"/>
<path d="M303.4 420.0L327.6 439.0" stroke="#5a5a5a" stroke-width="4.4" fill="none" stroke-linecap="butt"/>
<path d="M303.4 420.0L327.6 439.0" stroke="#fbfbfb" stroke-width="3.4" fill="none" stroke-linecap="butt"/>
<path d="M327.6 439.0L310.3 452.0" stroke="#555" stroke-width="2.4" fill="none" stroke-linecap="butt"/>
<path d="M327.6 439.0L310.3 452.0" stroke="#ededed" stroke-width="1.3" fill="none" stroke-linecap="butt"/>
<path d="M310.3 452.0L333.7 473.0" stroke="#5a5a5a" stroke-width="4.4" fill="none" stroke-linecap="butt"/>
<path d="M310.3 452.0L333.7 473.0" stroke="#fbfbfb" stroke-width="3.4" fill="none" stroke-linecap="butt"/>
<path d="M333.7 473.0L312.0 478.0" stroke="#555" stroke-width="2.4" fill="none" stroke-linecap="butt"/>
<path d="M333.7 473.0L312.0 478.0" stroke="#ededed" stroke-width="1.3" fill="none" stroke-linecap="butt"/>
<path d="M312.0 478.0L335.9 501.0" stroke="#5a5a5a" stroke-width="4.4" fill="none" stroke-linecap="butt"/>
<path d="M312.0 478.0L335.9 501.0" stroke="#fbfbfb" stroke-width="3.4" fill="none" stroke-linecap="butt"/>
<path d="M335.9 501.0L312.3 504.0" stroke="#555" stroke-width="2.4" fill="none" stroke-linecap="butt"/>
<path d="M335.9 501.0L312.3 504.0" stroke="#ededed" stroke-width="1.3" fill="none" stroke-linecap="butt"/>
<path d="M247.6 267.3C247.9 268.9 248.2 272.7 249.6 276.7C251.1 280.7 254.1 286.4 256.3 291.3C258.5 296.2 260.8 301.1 263.0 306.0C265.2 310.9 267.9 316.7 269.6 320.7C271.3 324.7 271.4 325.8 273.3 330.0C275.2 334.2 279.0 340.7 281.3 346.0C283.6 351.3 285.4 356.7 286.9 362.0C288.4 367.3 288.9 372.1 290.1 378.0C291.3 383.9 292.4 391.3 294.1 397.2C295.8 403.1 298.6 407.9 300.5 413.2C302.4 418.5 304.1 424.4 305.3 429.2C306.5 434.0 306.8 437.1 307.7 442.0C308.6 446.9 309.9 451.3 310.5 458.7C311.1 466.1 311.2 477.3 311.4 486.6C311.6 495.9 311.4 509.9 311.4 514.6" fill="none" stroke="#e9e9e9" stroke-width="2.2"/>
<path d="M248.8 267.3C249.1 268.9 249.4 272.7 250.8 276.7C252.2 280.7 255.3 286.4 257.5 291.3C259.7 296.2 262.0 301.1 264.2 306.0C266.4 310.9 269.1 316.7 270.8 320.7C272.5 324.7 272.6 325.8 274.5 330.0C276.4 334.2 280.2 340.7 282.5 346.0C284.8 351.3 286.6 356.7 288.1 362.0C289.6 367.3 290.1 372.1 291.3 378.0C292.5 383.9 293.6 391.3 295.3 397.2C297.0 403.1 299.8 407.9 301.7 413.2C303.6 418.5 305.3 424.4 306.5 429.2C307.7 434.0 308.0 437.1 308.9 442.0C309.8 446.9 311.1 451.3 311.7 458.7C312.3 466.1 312.5 477.3 312.6 486.6C312.8 495.9 312.6 509.9 312.6 514.6" fill="none" stroke="#777" stroke-width="0.5"/>
<path d="M246.3 267.3C246.6 268.9 246.9 272.7 248.3 276.7C249.8 280.7 252.8 286.4 255.0 291.3C257.2 296.2 259.5 301.1 261.7 306.0C263.9 310.9 266.6 316.7 268.3 320.7C270.0 324.7 270.1 325.8 272.0 330.0C273.9 334.2 277.7 340.7 280.0 346.0C282.3 351.3 284.1 356.7 285.6 362.0C287.1 367.3 287.6 372.1 288.8 378.0C290.0 383.9 291.1 391.3 292.8 397.2C294.5 403.1 297.3 407.9 299.2 413.2C301.1 418.5 302.8 424.4 304.0 429.2C305.2 434.0 305.5 437.1 306.4 442.0C307.3 446.9 308.6 451.3 309.2 458.7C309.8 466.1 310.0 477.3 310.1 486.6C310.2 495.9 310.1 509.9 310.1 514.6" fill="none" stroke="#444" stroke-width="0.8"/>
<circle cx="289.0" cy="318.0" r="1.4" fill="#3a3a3a"/>
<circle cx="292.3" cy="333.5" r="2.7" fill="#3a3a3a"/>
<circle cx="292.3" cy="333.5" r="1.4" fill="none" stroke="#aaa" stroke-width="0.6"/>
<circle cx="293.6" cy="381.2" r="1.2" fill="#3a3a3a"/>
<circle cx="305.6" cy="402.0" r="2.2" fill="#3a3a3a"/>
<circle cx="305.6" cy="402.0" r="1.1" fill="none" stroke="#aaa" stroke-width="0.6"/>
<circle cx="327.8" cy="456.0" r="2.2" fill="#3a3a3a"/>
<circle cx="327.8" cy="456.0" r="1.1" fill="none" stroke="#aaa" stroke-width="0.6"/>
<circle cx="329.7" cy="507.2" r="1.4" fill="#3a3a3a"/>
<path d="M334.3 479.5L335.7 494" stroke="#222" stroke-width="1.8" stroke-dasharray="1.6 0.6" fill="none"/>
<path d="M336.8 497L337.3 510" stroke="#444" stroke-width="0.7" fill="none"/>
<path d="M286 309L290 317" stroke="#333" stroke-width="1.1" fill="none"/>
<path d="M310.1 514.6L307.3 522.1L304.5 531.4L306.4 542.6L312.9 550.1L321.3 551.9L331 547L333 520Z" fill="#e6e6e6" stroke="none"/>
<path d="M310.1 514.6L307.3 522.1L304.5 531.4L306.4 542.6L312.9 550.1L321.3 551.9" fill="none" stroke="#444" stroke-width="0.8"/>
<path d="M314.5 525.2L326.5 528.6L327.6 540L325.5 548.5L319 550.5Z" fill="#f3f3f3" stroke="#666" stroke-width="0.55"/>
<ellipse cx="313.9" cy="536.6" rx="8.3" ry="11.2" transform="rotate(-8 313.9 536.6)" fill="#e0e0e0" stroke="#444" stroke-width="0.8"/>
<ellipse cx="314.8" cy="537.3" rx="4.6" ry="5.9" transform="rotate(-8 314.8 537.3)" fill="#bdbdbd" stroke="#444" stroke-width="0.7"/>
<ellipse cx="316" cy="538" rx="3.3" ry="4.7" transform="rotate(-8 316 538)" fill="#f2f2f2" stroke="#8a8a8a" stroke-width="0.5"/>
<path d="M321.3 551.9L321.3 559.4L325 565L333.4 566.9L339 561.3L334.4 559.4L330 561L326 557L325.5 550Z" fill="#e8e8e8" stroke="#444" stroke-width="0.7"/>
</g>
<defs><linearGradient id="g5s" gradientUnits="userSpaceOnUse" x1="500" y1="0" x2="522" y2="0"><stop offset="0" stop-color="#c4c4c4"/><stop offset="0.5" stop-color="#cfcfcf"/><stop offset="1" stop-color="#e4e4e4"/></linearGradient><linearGradient id="g5b" gradientUnits="userSpaceOnUse" x1="0" y1="540" x2="0" y2="625"><stop offset="0" stop-color="#c2c2c2"/><stop offset="0.06" stop-color="#c2c2c2"/><stop offset="0.3" stop-color="#d4d4d4"/><stop offset="0.5" stop-color="#e4e4e4"/><stop offset="0.62" stop-color="#efefef"/><stop offset="0.74" stop-color="#cacaca"/><stop offset="1" stop-color="#c2c2c2"/></linearGradient></defs>
<defs><linearGradient id="g5k" gradientUnits="userSpaceOnUse" x1="0" y1="342" x2="0" y2="390"><stop offset="0" stop-color="#f8f8f8"/><stop offset="0.35" stop-color="#f0f0f0"/><stop offset="0.55" stop-color="#f4f4f4"/><stop offset="1" stop-color="#d6d6d6"/></linearGradient></defs>
<g id="guide5" stroke-linejoin="round" stroke-linecap="round" opacity="0.999">
<path d="M506.4 388.0L519.5 388.0L516.5 418.0L513.6 444.0L511.9 471.6L510.8 494.0L509.2 518.0L508.3 530.0L509.8 541.7L513.4 555.0L518.6 566.7L521.5 575.5L521.2 581.4L516.4 588.7L510.5 594.6L508.3 603.4L506.8 613.7L504.6 618.1L494.4 624.7L492.2 625.4L493.0 600.0L496.0 560.0L497.0 500.0L500.0 450.0L504.0 410.0Z" fill="url(#g5b)" stroke="#4a4a4a" stroke-width="0.8"/>
<path d="M506.4 388.0L519.5 388.0L516.5 418.0L513.6 444.0L511.9 471.6L510.8 494.0L509.2 518.0L508.3 530.0L509.8 541.7L496.6 547.6L496.6 530.0L498.2 502.0L499.8 476.4L502.6 450.0L505.0 418.0L506.6 394.0Z" fill="#c2c2c2" stroke="none"/>
<path d="M519.5 388L516.5 418L513.6 444L511.9 471.6L510.8 494L509.2 518L508.3 530L509.8 541.7L513.4 555L518.6 566.7L521.5 575.5" fill="none" stroke="#4a4a4a" stroke-width="0.8"/>
<path d="M502.4 349.5L500.8 370.0L498.4 394.0L496.0 418.0L493.6 442.0L491.6 478.0L490.0 502.0L488.4 526.0L487.8 559.4L487.0 588.7L486.7 618.1L488.5 623.9L492.2 625.4L493.6 624.7L494.4 615.1L495.8 604.9L500.2 597.5L508.3 590.2L509.0 582.8L506.1 574.0L500.2 562.3L496.6 547.6L496.6 530.0L498.2 502.0L499.8 476.4L502.6 450.0L505.0 418.0L506.6 394.0L507.0 392.0Z" fill="#e9e9e9" stroke="#4a4a4a" stroke-width="0.8"/>
<path d="M505.8 348.2L516.2 341.8L520.2 341.8L522.2 345.4L522.2 359.0L528.6 364.6L528.6 383.0L520.2 388.2L514.6 391.0L515.0 373.4L509.0 366.2L509.0 351.8Z" fill="url(#g5k)" stroke="#4a4a4a" stroke-width="0.8"/>
<path d="M509 366.2L522.2 359M515 373.4L528.6 364.6" stroke="#e2e2e2" stroke-width="1.2" fill="none"/>
<path d="M503.0 349.8L504.0 348.3L505.8 348.2L509.0 351.8L509.0 366.2L515.0 373.4L514.4 391.0L508.2 389.4L506.8 395.0L498.2 395.0L499.8 383.0Z" fill="#e7e7e7" stroke="none"/>
<path d="M498.2 395L499.8 383L503 349.8L504 348.3L505.8 348.2L509 351.8L509 366.2L515 373.4L514.4 391L508.2 389.4" fill="none" stroke="#4a4a4a" stroke-width="0.8"/>
<rect x="506" y="373.5" width="3.8" height="9.5" rx="1.6" transform="rotate(4 508 378)" fill="#fafafa" stroke="#555" stroke-width="0.6"/>
<path d="M501.2 451.6L504.4 449.2L513.2 445.2L517.2 446.0L518.0 449.2L517.7 466.0L512.4 470.8L504.4 474.8L498.8 476.4L499.5 465.0Z" fill="#ececec" stroke="#4a4a4a" stroke-width="0.8"/>
<path d="M504.6 456L518 449.2L517.7 466L512.4 470.8L504.4 474.8Z" fill="#d4d4d4" stroke="none"/>
<path d="M501.2 451.6C503 452.5 504 454 504.6 456L504.4 474.8" fill="none" stroke="#888" stroke-width="0.5"/>
<path d="M501.2 451.6L504.4 449.2L513.2 445.2L517.2 446.0L518.0 449.2L517.7 466.0L512.4 470.8L504.4 474.8L498.8 476.4L499.5 465.0Z" fill="none" stroke="#4a4a4a" stroke-width="0.8"/>
<path d="M494 456.5L503 460.5L502.6 471.5L493.2 468Z" fill="#dedede" stroke="#555" stroke-width="0.6"/>
<path d="M501.3 390.6L500.2 400.6" stroke="#1e1e1e" stroke-width="2.8" stroke-dasharray="1.5 0.6" stroke-linecap="butt" fill="none"/>
<circle cx="500.4" cy="403.4" r="1.9" fill="#f2f2f2" stroke="#1e1e1e" stroke-width="1.2"/>
<path d="M499.9 418.2L498.4 433.2" stroke="#1e1e1e" stroke-width="3.0" stroke-dasharray="2.3 0.7" stroke-linecap="butt" fill="none"/>
<path d="M496.3 480.0L494.1 502.0" stroke="#1e1e1e" stroke-width="3.0" stroke-dasharray="2.4 0.7" stroke-linecap="butt" fill="none"/>
<path d="M493.3 511.8L491.2 530.6" stroke="#1e1e1e" stroke-width="2.8" stroke-dasharray="2.0 0.7" stroke-linecap="butt" fill="none"/>
<path d="M490.6 543.5L494 543.5L492.6 538.6Z" fill="#333"/>
<circle cx="492.9" cy="554.2" r="3.3" fill="#3a3a3a"/><circle cx="492.9" cy="554.2" r="1.5" fill="none" stroke="#999" stroke-width="0.6"/>
<ellipse cx="498.8" cy="580.6" rx="4.9" ry="7.4" transform="rotate(-22 498.8 580.6)" fill="#cfcfcf" stroke="#4a4a4a" stroke-width="0.8"/>
<ellipse cx="499.7" cy="581.4" rx="3.6" ry="6.1" transform="rotate(-22 499.7 581.4)" fill="#fafafa" stroke="#888" stroke-width="0.5"/>
<path d="M493.6 562.2C496.5 563.5 497.2 566.5 496.3 568.6C494.3 568.8 493.2 566 493.6 562.2Z" fill="#fafafa" stroke="#555" stroke-width="0.6"/>
<path d="M495.6 588.2C497 589.8 496.2 592.8 493.6 594.2C492.6 592 493.4 589.5 495.6 588.2Z" fill="#fafafa" stroke="#555" stroke-width="0.6"/>
</g>
<defs><linearGradient id="gCyl" x1="0" y1="0" x2="0" y2="1"><stop offset="0" stop-color="#e9e9e9"/><stop offset="0.3" stop-color="#ffffff"/><stop offset="0.7" stop-color="#ececec"/><stop offset="1" stop-color="#cfcfcf"/></linearGradient></defs>
<defs><linearGradient id="g9" gradientUnits="userSpaceOnUse" x1="352" y1="620" x2="400" y2="660"><stop offset="0" stop-color="#f2f2f2"/><stop offset="0.5" stop-color="#e6e6e6"/><stop offset="1" stop-color="#d9d9d9"/></linearGradient></defs>
<g id="small" stroke-linejoin="round" stroke-linecap="round">
<g transform="translate(308.4 187.4) rotate(-23.0)">
<path d="M6 -4.2L16.6 -4.2C18.6 -4.2 19.4 -2.5 19.4 0C19.4 2.5 18.6 4.2 16.6 4.2L6 4.2Z" fill="url(#gCyl)" stroke="#555" stroke-width="0.6"/>
<ellipse cx="3.2" cy="0" rx="6.6" ry="10.2" fill="#e6e6e6" stroke="#4a4a4a" stroke-width="0.7"/>
<ellipse cx="2.0" cy="0" rx="6.2" ry="9.6" fill="#efefef" stroke="#777" stroke-width="0.5"/>
</g>
<path d="M312.0 181.2L316.0 182.4L319.0 187.6L316.2 193.8L312.4 193.4L315.4 186.9Z" fill="#dcdcdc" stroke="#4a4a4a" stroke-width="0.6"/>
<path d="M315.4 186.9L319.0 187.6" stroke="#666" stroke-width="0.5" fill="none"/>
<path d="M302.2 186.4L305.4 180.8L312.0 181.2L315.4 186.9L312.4 193.4L305.8 193.8Z" fill="#f5f5f5" stroke="#3c3c3c" stroke-width="0.8"/>
<path d="M305.4 180.8L310.0 186.2L315.4 186.9" stroke="#8a8a8a" stroke-width="0.5" fill="none"/>
<path d="M310.0 186.2L309.2 193.6" stroke="#8a8a8a" stroke-width="0.5" fill="none"/>
<path d="M305.2 185.6l2.2 0.9M307.8 187.0l2 0.8" stroke="#222" stroke-width="1.5" fill="none"/>
<g transform="translate(307.2 217.2) rotate(-23.0)">
<path d="M6 -4.2L16.6 -4.2C18.6 -4.2 19.4 -2.5 19.4 0C19.4 2.5 18.6 4.2 16.6 4.2L6 4.2Z" fill="url(#gCyl)" stroke="#555" stroke-width="0.6"/>
<ellipse cx="3.2" cy="0" rx="6.6" ry="10.2" fill="#e6e6e6" stroke="#4a4a4a" stroke-width="0.7"/>
<ellipse cx="2.0" cy="0" rx="6.2" ry="9.6" fill="#efefef" stroke="#777" stroke-width="0.5"/>
</g>
<path d="M310.8 211.0L314.8 212.2L317.8 217.4L315.0 223.6L311.2 223.2L314.2 216.7Z" fill="#dcdcdc" stroke="#4a4a4a" stroke-width="0.6"/>
<path d="M314.2 216.7L317.8 217.4" stroke="#666" stroke-width="0.5" fill="none"/>
<path d="M301.0 216.2L304.2 210.6L310.8 211.0L314.2 216.7L311.2 223.2L304.6 223.6Z" fill="#f5f5f5" stroke="#3c3c3c" stroke-width="0.8"/>
<path d="M304.2 210.6L308.8 216.0L314.2 216.7" stroke="#8a8a8a" stroke-width="0.5" fill="none"/>
<path d="M308.8 216.0L308.0 223.4" stroke="#8a8a8a" stroke-width="0.5" fill="none"/>
<path d="M304.0 215.4l2.2 0.9M306.6 216.8l2 0.8" stroke="#222" stroke-width="1.5" fill="none"/>
<g transform="translate(372.1 215.3) rotate(-23.0)">
<path d="M6 -4.2L16.6 -4.2C18.6 -4.2 19.4 -2.5 19.4 0C19.4 2.5 18.6 4.2 16.6 4.2L6 4.2Z" fill="url(#gCyl)" stroke="#555" stroke-width="0.6"/>
<ellipse cx="3.2" cy="0" rx="6.6" ry="10.2" fill="#e6e6e6" stroke="#4a4a4a" stroke-width="0.7"/>
<ellipse cx="2.0" cy="0" rx="6.2" ry="9.6" fill="#efefef" stroke="#777" stroke-width="0.5"/>
</g>
<path d="M375.7 209.1L379.7 210.3L382.7 215.5L379.9 221.7L376.1 221.3L379.1 214.8Z" fill="#dcdcdc" stroke="#4a4a4a" stroke-width="0.6"/>
<path d="M379.1 214.8L382.7 215.5" stroke="#666" stroke-width="0.5" fill="none"/>
<path d="M365.9 214.3L369.1 208.7L375.7 209.1L379.1 214.8L376.1 221.3L369.5 221.7Z" fill="#f5f5f5" stroke="#3c3c3c" stroke-width="0.8"/>
<path d="M369.1 208.7L373.7 214.1L379.1 214.8" stroke="#8a8a8a" stroke-width="0.5" fill="none"/>
<path d="M373.7 214.1L372.9 221.5" stroke="#8a8a8a" stroke-width="0.5" fill="none"/>
<path d="M368.9 213.5l2.2 0.9M371.5 214.9l2 0.8" stroke="#222" stroke-width="1.5" fill="none"/>
<g transform="translate(399.3 268.9) rotate(-23.0)">
<path d="M6 -4.2L16.6 -4.2C18.6 -4.2 19.4 -2.5 19.4 0C19.4 2.5 18.6 4.2 16.6 4.2L6 4.2Z" fill="url(#gCyl)" stroke="#555" stroke-width="0.6"/>
<ellipse cx="3.2" cy="0" rx="6.6" ry="10.2" fill="#e6e6e6" stroke="#4a4a4a" stroke-width="0.7"/>
<ellipse cx="2.0" cy="0" rx="6.2" ry="9.6" fill="#efefef" stroke="#777" stroke-width="0.5"/>
</g>
<path d="M402.9 262.7L406.9 263.9L409.9 269.1L407.1 275.3L403.3 274.9L406.3 268.4Z" fill="#dcdcdc" stroke="#4a4a4a" stroke-width="0.6"/>
<path d="M406.3 268.4L409.9 269.1" stroke="#666" stroke-width="0.5" fill="none"/>
<path d="M393.1 267.9L396.3 262.3L402.9 262.7L406.3 268.4L403.3 274.9L396.7 275.3Z" fill="#f5f5f5" stroke="#3c3c3c" stroke-width="0.8"/>
<path d="M396.3 262.3L400.9 267.7L406.3 268.4" stroke="#8a8a8a" stroke-width="0.5" fill="none"/>
<path d="M400.9 267.7L400.1 275.1" stroke="#8a8a8a" stroke-width="0.5" fill="none"/>
<path d="M396.1 267.1l2.2 0.9M398.7 268.5l2 0.8" stroke="#222" stroke-width="1.5" fill="none"/>
<path d="M148.0 310.4L150.4 304.0L160.0 290.8L172.0 291.2L177.6 294.8L178.4 298.4L176.0 306.0L168.0 327.2L166.4 328.8L155.2 328.8L150.4 325.6L147.6 317.6Z" fill="#f3f3f3" stroke="#4a4a4a" stroke-width="0.7"/>
<path d="M152.8 308.8L162.4 294.8L172.0 293.2L176.4 296.0L175.0 303.0L167.0 326.0L156.0 326.4L153.2 318.4Z" fill="#dadada" stroke="#555" stroke-width="0.6"/>
<path d="M150.4 304L152.8 308.8M160 290.8L162.4 294.8M150.4 325.6L153.2 318.4" stroke="#888" stroke-width="0.5" fill="none"/>
<g transform="translate(158.7 308) rotate(22.2)">
<ellipse cx="5" cy="0.5" rx="5.4" ry="14.6" fill="#ededed" stroke="#444" stroke-width="0.8"/>
<ellipse cx="6.6" cy="0.5" rx="4.8" ry="13.4" fill="#f6f6f6" stroke="#666" stroke-width="0.6"/>
<path d="M7 -11.6L14 -12L14 12L7 11.6Z" fill="#f4f4f4" stroke="none"/>
<ellipse cx="9.5" cy="-9.6" rx="2.3" ry="1.5" fill="#fff" stroke="#555" stroke-width="0.5"/>
<path d="M14 -12.8L57 -13.2L57 13.2L14 12.8C10.4 7 10.4 -7 14 -12.8Z" fill="url(#gCyl)" stroke="#555" stroke-width="0.7"/>
<path d="M49 -13.1C46.4 -6 46.4 6 49 13.1" fill="none" stroke="#444" stroke-width="0.9"/>
<path d="M51 -13.1C48.4 -6 48.4 6 51 13.1" fill="none" stroke="#777" stroke-width="0.5"/>
<ellipse cx="58.5" cy="0" rx="6.6" ry="13.2" fill="#dadada" stroke="#444" stroke-width="0.8"/>
<ellipse cx="58.8" cy="0" rx="5.6" ry="11.8" fill="none" stroke="#aaa" stroke-width="0.5"/>
<circle cx="58.7" cy="0.2" r="0.9" fill="#333"/>
</g>
<ellipse cx="244.5" cy="343.7" rx="12.7" ry="17.9" transform="rotate(18 244.5 343.7)" fill="none" stroke="#3c3c3c" stroke-width="2.6"/>
<ellipse cx="244.5" cy="343.7" rx="12.7" ry="17.9" transform="rotate(18 244.5 343.7)" fill="none" stroke="#d6d6d6" stroke-width="1.2"/>
<g transform="translate(262.9 567.3) rotate(-26.9)">
<path d="M20 -3.8L33.5 -3.8L35 -2.6L37.2 -2.4C38.4 -1.5 38.4 1.5 37.2 2.4L35 2.6L33.5 3.8L20 3.8Z" fill="url(#gCyl)" stroke="#555" stroke-width="0.6"/>
<path d="M6 -7.4L10 -6.6L20.5 -6.6C22.3 -4 22.3 4 20.5 6.6L10 6.6L6 7.4Z" fill="url(#gCyl)" stroke="#555" stroke-width="0.6"/>
<path d="M10 -6.6C11.6 -3 11.6 3 10 6.6" fill="none" stroke="#999" stroke-width="0.5"/>
<ellipse cx="2.2" cy="0" rx="7.4" ry="12.8" fill="#e4e4e4" stroke="#4a4a4a" stroke-width="0.7"/>
<ellipse cx="0" cy="0" rx="7.4" ry="12.8" fill="#dedede" stroke="#4a4a4a" stroke-width="0.7"/>
<ellipse cx="0.2" cy="0" rx="6.3" ry="11.4" fill="none" stroke="#bdbdbd" stroke-width="0.5"/>
<path d="M-1.6 -3.4L0.2 -2.2L1.8 -3.2L1.6 -0.6L2.6 1.2L1.2 2.2L0.6 3.6L-0.8 2.4L-2.2 2.6L-1.6 0.4L-2.4 -1.2Z" fill="#fafafa" stroke="#333" stroke-width="0.7"/>
</g>
<g transform="translate(444.0 611.3) rotate(-26.9)">
<path d="M20 -3.8L33.5 -3.8L35 -2.6L37.2 -2.4C38.4 -1.5 38.4 1.5 37.2 2.4L35 2.6L33.5 3.8L20 3.8Z" fill="url(#gCyl)" stroke="#555" stroke-width="0.6"/>
<path d="M6 -7.4L10 -6.6L20.5 -6.6C22.3 -4 22.3 4 20.5 6.6L10 6.6L6 7.4Z" fill="url(#gCyl)" stroke="#555" stroke-width="0.6"/>
<path d="M10 -6.6C11.6 -3 11.6 3 10 6.6" fill="none" stroke="#999" stroke-width="0.5"/>
<ellipse cx="2.2" cy="0" rx="7.4" ry="12.8" fill="#e4e4e4" stroke="#4a4a4a" stroke-width="0.7"/>
<ellipse cx="0" cy="0" rx="7.4" ry="12.8" fill="#dedede" stroke="#4a4a4a" stroke-width="0.7"/>
<ellipse cx="0.2" cy="0" rx="6.3" ry="11.4" fill="none" stroke="#bdbdbd" stroke-width="0.5"/>
<path d="M-1.6 -3.4L0.2 -2.2L1.8 -3.2L1.6 -0.6L2.6 1.2L1.2 2.2L0.6 3.6L-0.8 2.4L-2.2 2.6L-1.6 0.4L-2.4 -1.2Z" fill="#fafafa" stroke="#333" stroke-width="0.7"/>
</g>
<g transform="translate(310.6 655.9) rotate(-27.7)">
<path d="M5 -3.9L25 -3.9C27 -3.9 27.8 -2 27.8 0C27.8 2 27 3.9 25 3.9L5 3.9Z" fill="url(#gCyl)" stroke="#555" stroke-width="0.6"/>
<ellipse cx="4" cy="0" rx="3.6" ry="7.2" fill="#e8e8e8" stroke="#4a4a4a" stroke-width="0.7"/>
<path d="M-3.5 -5.2L1.5 -5.8L4.2 -2.8L4.2 2.8L1.5 5.8L-3.5 5.2L-5.6 2.2L-5.6 -2.6Z" fill="#e9e9e9" stroke="#4a4a4a" stroke-width="0.7"/>
<path d="M-3.2 -3.4L-0.6 -4.2L1.2 -2L1.2 2L-0.6 4.2L-3.2 3.4L-4.6 1.4L-4.6 -1.6Z" fill="#f6f6f6" stroke="#8a8a8a" stroke-width="0.5"/>
</g>
<g transform="translate(353.1 679.3) rotate(-27.7)">
<path d="M5 -3.9L25 -3.9C27 -3.9 27.8 -2 27.8 0C27.8 2 27 3.9 25 3.9L5 3.9Z" fill="url(#gCyl)" stroke="#555" stroke-width="0.6"/>
<ellipse cx="4" cy="0" rx="3.6" ry="7.2" fill="#e8e8e8" stroke="#4a4a4a" stroke-width="0.7"/>
<path d="M-3.5 -5.2L1.5 -5.8L4.2 -2.8L4.2 2.8L1.5 5.8L-3.5 5.2L-5.6 2.2L-5.6 -2.6Z" fill="#e9e9e9" stroke="#4a4a4a" stroke-width="0.7"/>
<path d="M-3.2 -3.4L-0.6 -4.2L1.2 -2L1.2 2L-0.6 4.2L-3.2 3.4L-4.6 1.4L-4.6 -1.6Z" fill="#f6f6f6" stroke="#8a8a8a" stroke-width="0.5"/>
</g>
<path d="M351.3 623.0L364.3 615.2L369.5 623.9L378.2 632.5L388.6 639.5L396.0 639.2L401.6 636.0L409.4 653.3L408.5 668.1L404.2 671.5L399.0 669.8L385.1 660.3L371.3 650.7L364.3 647.3L359.1 644.7L352.2 640.3L348.7 634.3L353.1 629.1Z" fill="url(#g9)" stroke="#444" stroke-width="0.8"/>
<path d="M366.5 641.5C374 646 384 648.5 392 646L401.6 636L409.4 653.3L408.5 668.1L404.2 671.5L399 669.8L385.1 660.3L371.3 650.7L364.3 647.3Z" fill="#d2d2d2" stroke="#555" stroke-width="0.6"/>
<path d="M353.1 629.1C358 628.5 360.5 630 362.5 633C368 641 378 646.5 392 646" fill="none" stroke="#555" stroke-width="0.6"/>
<path d="M351.3 623C356 629 362 637 372 642" fill="none" stroke="#999" stroke-width="0.5"/>
<path d="M352.2 640.3C356 640 358 641.5 359.5 644" fill="none" stroke="#666" stroke-width="0.5"/>
<path d="M399 669.8L401 667L406.6 668.2L407.4 653.6L400.4 638.4" fill="none" stroke="#777" stroke-width="0.5"/>
<ellipse cx="397.3" cy="653.6" rx="3.9" ry="4.7" transform="rotate(-25 397.3 653.6)" fill="#bdbdbd" stroke="#444" stroke-width="0.7"/>
<ellipse cx="398" cy="654.2" rx="2.5" ry="3.3" transform="rotate(-25 398 654.2)" fill="#f4f4f4" stroke="#777" stroke-width="0.5"/>
<path d="M381 650.5C383 648.8 388 649.5 389.5 652C390 655 387.5 657.5 385.5 657Z" fill="#f4f4f4" stroke="#555" stroke-width="0.6"/>
</g>
<g id="wm" fill="#d6d6d6" opacity="0.56">
<path d="M364.3 306.7C366 315 376 322 384 331C391 339 391 348 383.5 353.5C386 346 382 340 377 337C379 343 376 348 371 349C373 344 371 340 368 336C367 341 364 343 362 347C358 343 355 338 356.5 331C358 335 360 336 362 336C358 326 364 318 364.3 306.7Z"/>
<path d="M354 362.5L369.5 362.5L376.3 378.3L380.9 367.1L384.2 369L374.5 389.5L369.5 389.5Z"/>
<path d="M379.5 362.5L402.9 362.5L386.1 391.4L381.9 385.8L394 367.1L382.3 367.1Z"/>
<path d="M377.2 393.3L380.9 395.1L376.7 405L373 405Z"/>
<text transform="scale(1.25 1)" x="196.6 214.8 232.6 253.4 275.8 297.9 315.8 335.4 354.8 375.6 393.4" y="442" font-size="19.2" stroke="#d6d6d6" stroke-width="1.2">LEADVENTURE</text>
</g>
<g id="leaders">
<line class="ld" x1="165.5" y1="118.8" x2="285" y2="118.8"/>
<line class="ld" x1="593" y1="166.3" x2="680" y2="166.3"/>
<line class="ld" x1="434" y1="287.4" x2="534" y2="287.4"/>
<line class="ld" x1="188" y1="441.2" x2="305" y2="441.2"/>
<line class="ld" x1="517" y1="466.2" x2="607" y2="466.2"/>
<line class="ld" x1="63" y1="311.5" x2="148" y2="311.5"/>
<line class="ld" x1="234.7" y1="252" x2="234.7" y2="337"/>
<line class="ld" x1="175" y1="572.9" x2="258" y2="572.9"/>
<line class="ld" x1="408" y1="668.8" x2="505" y2="668.8"/>
<line class="ld" x1="209" y1="654" x2="305" y2="654"/>
<line class="ld" x1="368.6" y1="224" x2="367.6" y2="286"/>
</g>
<g id="labels" opacity="0.999">
<text class="lbl" x="158.5" y="123.5">2</text>
<path class="lbl" d="M4.15 0L3.05 0L3.05 -6.7C2.5 -6.1 1.9 -5.7 1.3 -5.4L1.3 -6.45C2.2 -6.9 3 -7.7 3.4 -8.6L4.15 -8.6Z" transform="translate(679.0 171.0)"/>
<text class="lbl" x="534.3" y="292">3</text>
<text class="lbl" x="181" y="445.3">4</text>
<text class="lbl" x="607.3" y="470.5">5</text>
<text class="lbl" x="56" y="316">6</text>
<text class="lbl" x="231.3" y="249.3">7</text>
<text class="lbl" x="168.2" y="577.7">8</text>
<text class="lbl" x="505" y="674.2">9</text>
<path class="lbl" d="M4.15 0L3.05 0L3.05 -6.7C2.5 -6.1 1.9 -5.7 1.3 -5.4L1.3 -6.45C2.2 -6.9 3 -7.7 3.4 -8.6L4.15 -8.6Z" transform="translate(195.8 658.6)"/><text class="lbl" x="202.5" y="658.6">0</text>
<path class="lbl" d="M4.15 0L3.05 0L3.05 -6.7C2.5 -6.1 1.9 -5.7 1.3 -5.4L1.3 -6.45C2.2 -6.9 3 -7.7 3.4 -8.6L4.15 -8.6Z" transform="translate(362.3 297.0)"/><path class="lbl" d="M4.15 0L3.05 0L3.05 -6.7C2.5 -6.1 1.9 -5.7 1.3 -5.4L1.3 -6.45C2.2 -6.9 3 -7.7 3.4 -8.6L4.15 -8.6Z" transform="translate(368.5 297.0)"/>
</g>
<g id="footer" opacity="0.999">
<text class="ft" x="15.1" y="698.3" style="font-size:13.8px">© 2025 Polaris Industries Inc.</text>
<text class="ft" transform="translate(299.6 703.1) scale(0.772 1)" style="font-size:14px">Rendered by LeadVenture, Inc.</text>
<text class="ft" x="662.6" y="700.5" style="font-size:13.7px">S0706547-2</text>
</g>
</svg>
</body></html>
